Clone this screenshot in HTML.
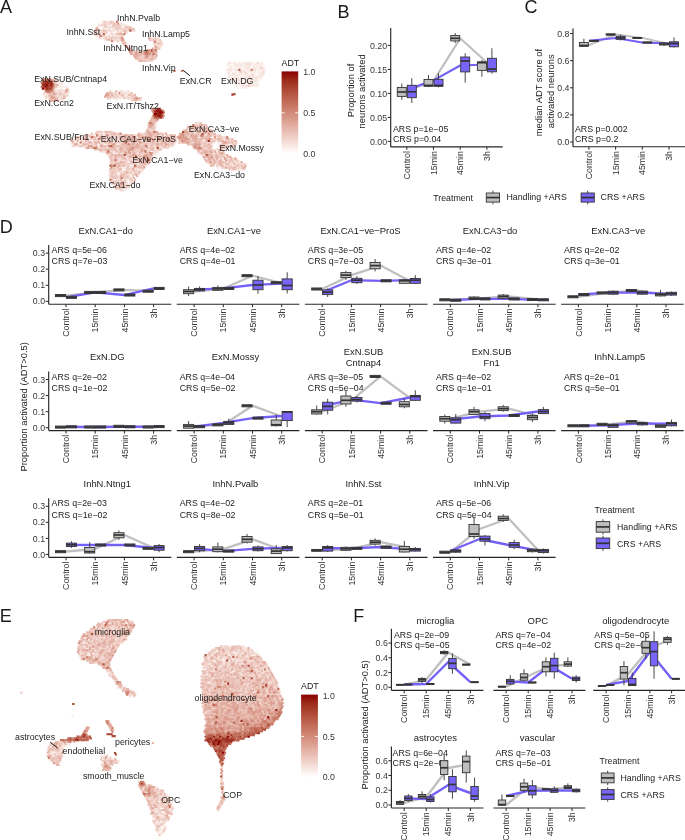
<!DOCTYPE html>
<html><head><meta charset="utf-8"><style>
html,body{margin:0;padding:0;background:#fff;}
svg{display:block;font-family:"Liberation Sans",sans-serif;will-change:transform;}
</style></head><body>
<svg width="685" height="840" viewBox="0 0 685 840">
<text x="0.00" y="12.70" font-size="18" fill="#1a1a1a" text-anchor="start">A</text>
<text x="337.50" y="17.80" font-size="18" fill="#1a1a1a" text-anchor="start">B</text>
<text x="524.40" y="12.70" font-size="18" fill="#1a1a1a" text-anchor="start">C</text>
<text x="-0.20" y="232.80" font-size="18" fill="#1a1a1a" text-anchor="start">D</text>
<text x="-0.20" y="622.30" font-size="18" fill="#1a1a1a" text-anchor="start">E</text>
<text x="353.20" y="622.00" font-size="18" fill="#1a1a1a" text-anchor="start">F</text>
<line x1="390.70" y1="28.00" x2="390.70" y2="147.00" stroke="#262626" stroke-width="1.15"/>
<line x1="387.70" y1="141.40" x2="390.70" y2="141.40" stroke="#262626" stroke-width="1.0"/>
<text x="387.10" y="144.55" font-size="8.8" fill="#363636" text-anchor="end">0.00</text>
<line x1="387.70" y1="117.40" x2="390.70" y2="117.40" stroke="#262626" stroke-width="1.0"/>
<text x="387.10" y="120.55" font-size="8.8" fill="#363636" text-anchor="end">0.05</text>
<line x1="387.70" y1="93.40" x2="390.70" y2="93.40" stroke="#262626" stroke-width="1.0"/>
<text x="387.10" y="96.55" font-size="8.8" fill="#363636" text-anchor="end">0.10</text>
<line x1="387.70" y1="69.40" x2="390.70" y2="69.40" stroke="#262626" stroke-width="1.0"/>
<text x="387.10" y="72.55" font-size="8.8" fill="#363636" text-anchor="end">0.15</text>
<line x1="387.70" y1="45.40" x2="390.70" y2="45.40" stroke="#262626" stroke-width="1.0"/>
<text x="387.10" y="48.55" font-size="8.8" fill="#363636" text-anchor="end">0.20</text>
<line x1="390.70" y1="146.80" x2="502.70" y2="146.80" stroke="#262626" stroke-width="1.15"/>
<line x1="406.80" y1="146.80" x2="406.80" y2="149.80" stroke="#262626" stroke-width="1.0"/>
<text transform="translate(409.95,151.10) rotate(-90)" font-size="8.8" fill="#363636" text-anchor="end">Control</text>
<line x1="433.50" y1="146.80" x2="433.50" y2="149.80" stroke="#262626" stroke-width="1.0"/>
<text transform="translate(436.65,151.10) rotate(-90)" font-size="8.8" fill="#363636" text-anchor="end">15min</text>
<line x1="460.20" y1="146.80" x2="460.20" y2="149.80" stroke="#262626" stroke-width="1.0"/>
<text transform="translate(463.35,151.10) rotate(-90)" font-size="8.8" fill="#363636" text-anchor="end">45min</text>
<line x1="486.90" y1="146.80" x2="486.90" y2="149.80" stroke="#262626" stroke-width="1.0"/>
<text transform="translate(490.05,151.10) rotate(-90)" font-size="8.8" fill="#363636" text-anchor="end">3h</text>
<text transform="translate(353.67,90.4) rotate(-90)" font-size="9.4" fill="#1a1a1a" text-anchor="middle">Proportion of</text>
<text transform="translate(365.47,91.4) rotate(-90)" font-size="9.4" fill="#1a1a1a" text-anchor="middle">neurons activated</text>
<polyline points="406.80,91.00 433.50,80.80 460.20,38.30 486.90,62.50" fill="none" stroke="#c0c0c0" stroke-width="2.2" stroke-linejoin="round"/>
<polyline points="406.80,89.80 433.50,80.40 460.20,65.50 486.90,64.50" fill="none" stroke="#7461f8" stroke-width="2.2" stroke-linejoin="round"/>
<line x1="401.80" y1="83.50" x2="401.80" y2="87.40" stroke="#333333" stroke-width="0.9"/>
<line x1="401.80" y1="96.40" x2="401.80" y2="99.90" stroke="#333333" stroke-width="0.9"/>
<rect x="397.30" y="87.40" width="9.00" height="9.00" fill="#bebebe" stroke="#333333" stroke-width="0.9"/>
<line x1="397.30" y1="92.00" x2="406.30" y2="92.00" stroke="#333333" stroke-width="1.7"/>
<line x1="411.80" y1="78.20" x2="411.80" y2="85.30" stroke="#333333" stroke-width="0.9"/>
<line x1="411.80" y1="97.70" x2="411.80" y2="103.00" stroke="#333333" stroke-width="0.9"/>
<rect x="407.30" y="85.30" width="9.00" height="12.40" fill="#7864f8" stroke="#333333" stroke-width="0.9"/>
<line x1="407.30" y1="91.80" x2="416.30" y2="91.80" stroke="#333333" stroke-width="1.7"/>
<line x1="428.50" y1="75.10" x2="428.50" y2="79.50" stroke="#333333" stroke-width="0.9"/>
<line x1="428.50" y1="86.30" x2="428.50" y2="87.20" stroke="#333333" stroke-width="0.9"/>
<rect x="424.00" y="79.50" width="9.00" height="6.80" fill="#bebebe" stroke="#333333" stroke-width="0.9"/>
<line x1="424.00" y1="85.40" x2="433.00" y2="85.40" stroke="#333333" stroke-width="1.7"/>
<line x1="438.50" y1="73.20" x2="438.50" y2="79.30" stroke="#333333" stroke-width="0.9"/>
<line x1="438.50" y1="86.30" x2="438.50" y2="87.40" stroke="#333333" stroke-width="0.9"/>
<rect x="434.00" y="79.30" width="9.00" height="7.00" fill="#7864f8" stroke="#333333" stroke-width="0.9"/>
<line x1="434.00" y1="85.40" x2="443.00" y2="85.40" stroke="#333333" stroke-width="1.7"/>
<line x1="455.20" y1="33.00" x2="455.20" y2="35.60" stroke="#333333" stroke-width="0.9"/>
<line x1="455.20" y1="40.90" x2="455.20" y2="43.00" stroke="#333333" stroke-width="0.9"/>
<rect x="450.70" y="35.60" width="9.00" height="5.30" fill="#bebebe" stroke="#333333" stroke-width="0.9"/>
<line x1="450.70" y1="38.30" x2="459.70" y2="38.30" stroke="#333333" stroke-width="1.7"/>
<line x1="465.20" y1="53.30" x2="465.20" y2="57.00" stroke="#333333" stroke-width="0.9"/>
<line x1="465.20" y1="71.90" x2="465.20" y2="82.60" stroke="#333333" stroke-width="0.9"/>
<rect x="460.70" y="57.00" width="9.00" height="14.90" fill="#7864f8" stroke="#333333" stroke-width="0.9"/>
<line x1="460.70" y1="61.00" x2="469.70" y2="61.00" stroke="#333333" stroke-width="1.7"/>
<line x1="481.90" y1="60.00" x2="481.90" y2="61.80" stroke="#333333" stroke-width="0.9"/>
<line x1="481.90" y1="70.40" x2="481.90" y2="76.80" stroke="#333333" stroke-width="0.9"/>
<rect x="477.40" y="61.80" width="9.00" height="8.60" fill="#bebebe" stroke="#333333" stroke-width="0.9"/>
<line x1="477.40" y1="62.70" x2="486.40" y2="62.70" stroke="#333333" stroke-width="1.7"/>
<line x1="491.90" y1="48.20" x2="491.90" y2="58.30" stroke="#333333" stroke-width="0.9"/>
<line x1="491.90" y1="71.80" x2="491.90" y2="73.70" stroke="#333333" stroke-width="0.9"/>
<rect x="487.40" y="58.30" width="9.00" height="13.50" fill="#7864f8" stroke="#333333" stroke-width="0.9"/>
<line x1="487.40" y1="69.10" x2="496.40" y2="69.10" stroke="#333333" stroke-width="1.7"/>
<text x="393.00" y="132.45" font-size="8.8" fill="#1a1a1a" text-anchor="start">ARS p=1e−05</text>
<text x="393.00" y="141.65" font-size="8.8" fill="#1a1a1a" text-anchor="start">CRS p=0.04</text>
<line x1="573.00" y1="28.40" x2="573.00" y2="147.00" stroke="#262626" stroke-width="1.15"/>
<line x1="570.00" y1="142.00" x2="573.00" y2="142.00" stroke="#262626" stroke-width="1.0"/>
<text x="569.40" y="145.15" font-size="8.8" fill="#363636" text-anchor="end">0.0</text>
<line x1="570.00" y1="114.90" x2="573.00" y2="114.90" stroke="#262626" stroke-width="1.0"/>
<text x="569.40" y="118.05" font-size="8.8" fill="#363636" text-anchor="end">0.2</text>
<line x1="570.00" y1="87.80" x2="573.00" y2="87.80" stroke="#262626" stroke-width="1.0"/>
<text x="569.40" y="90.95" font-size="8.8" fill="#363636" text-anchor="end">0.4</text>
<line x1="570.00" y1="60.70" x2="573.00" y2="60.70" stroke="#262626" stroke-width="1.0"/>
<text x="569.40" y="63.85" font-size="8.8" fill="#363636" text-anchor="end">0.6</text>
<line x1="570.00" y1="33.60" x2="573.00" y2="33.60" stroke="#262626" stroke-width="1.0"/>
<text x="569.40" y="36.75" font-size="8.8" fill="#363636" text-anchor="end">0.8</text>
<line x1="573.00" y1="146.70" x2="685.50" y2="146.70" stroke="#262626" stroke-width="1.15"/>
<line x1="588.90" y1="146.70" x2="588.90" y2="149.70" stroke="#262626" stroke-width="1.0"/>
<text transform="translate(592.05,151.00) rotate(-90)" font-size="8.8" fill="#363636" text-anchor="end">Control</text>
<line x1="615.60" y1="146.70" x2="615.60" y2="149.70" stroke="#262626" stroke-width="1.0"/>
<text transform="translate(618.75,151.00) rotate(-90)" font-size="8.8" fill="#363636" text-anchor="end">15min</text>
<line x1="642.30" y1="146.70" x2="642.30" y2="149.70" stroke="#262626" stroke-width="1.0"/>
<text transform="translate(645.45,151.00) rotate(-90)" font-size="8.8" fill="#363636" text-anchor="end">45min</text>
<line x1="669.00" y1="146.70" x2="669.00" y2="149.70" stroke="#262626" stroke-width="1.0"/>
<text transform="translate(672.15,151.00) rotate(-90)" font-size="8.8" fill="#363636" text-anchor="end">3h</text>
<text transform="translate(542.17,92.5) rotate(-90)" font-size="9.4" fill="#1a1a1a" text-anchor="middle">median ADT score of</text>
<text transform="translate(553.87,91.3) rotate(-90)" font-size="9.4" fill="#1a1a1a" text-anchor="middle">activated neurons</text>
<polyline points="588.90,45.00 615.60,34.50 642.30,37.90 669.00,44.00" fill="none" stroke="#c0c0c0" stroke-width="2.0" stroke-linejoin="round"/>
<polyline points="588.90,40.80 615.60,37.90 642.30,42.50 669.00,43.50" fill="none" stroke="#7461f8" stroke-width="2.0" stroke-linejoin="round"/>
<line x1="583.90" y1="38.80" x2="583.90" y2="42.50" stroke="#333333" stroke-width="0.9"/>
<line x1="583.90" y1="46.30" x2="583.90" y2="47.00" stroke="#333333" stroke-width="0.9"/>
<rect x="579.40" y="42.50" width="9.00" height="3.80" fill="#bebebe" stroke="#333333" stroke-width="0.9"/>
<line x1="579.40" y1="45.50" x2="588.40" y2="45.50" stroke="#333333" stroke-width="1.7"/>
<line x1="593.90" y1="40.35" x2="593.90" y2="40.35" stroke="#333333" stroke-width="0.9"/>
<line x1="593.90" y1="41.25" x2="593.90" y2="41.25" stroke="#333333" stroke-width="0.9"/>
<rect x="589.40" y="40.35" width="9.00" height="0.90" fill="#7864f8" stroke="#333333" stroke-width="0.9"/>
<line x1="589.40" y1="40.80" x2="598.40" y2="40.80" stroke="#333333" stroke-width="1.7"/>
<line x1="610.60" y1="33.90" x2="610.60" y2="33.90" stroke="#333333" stroke-width="0.9"/>
<line x1="610.60" y1="35.10" x2="610.60" y2="35.10" stroke="#333333" stroke-width="0.9"/>
<rect x="606.10" y="33.90" width="9.00" height="1.20" fill="#bebebe" stroke="#333333" stroke-width="0.9"/>
<line x1="606.10" y1="34.50" x2="615.10" y2="34.50" stroke="#333333" stroke-width="1.7"/>
<line x1="620.60" y1="34.60" x2="620.60" y2="36.30" stroke="#333333" stroke-width="0.9"/>
<line x1="620.60" y1="39.30" x2="620.60" y2="40.50" stroke="#333333" stroke-width="0.9"/>
<rect x="616.10" y="36.30" width="9.00" height="3.00" fill="#7864f8" stroke="#333333" stroke-width="0.9"/>
<line x1="616.10" y1="37.90" x2="625.10" y2="37.90" stroke="#333333" stroke-width="1.7"/>
<line x1="637.30" y1="37.45" x2="637.30" y2="37.45" stroke="#333333" stroke-width="0.9"/>
<line x1="637.30" y1="38.35" x2="637.30" y2="38.35" stroke="#333333" stroke-width="0.9"/>
<rect x="632.80" y="37.45" width="9.00" height="0.90" fill="#bebebe" stroke="#333333" stroke-width="0.9"/>
<line x1="632.80" y1="37.90" x2="641.80" y2="37.90" stroke="#333333" stroke-width="1.7"/>
<line x1="647.30" y1="42.05" x2="647.30" y2="42.05" stroke="#333333" stroke-width="0.9"/>
<line x1="647.30" y1="42.95" x2="647.30" y2="42.95" stroke="#333333" stroke-width="0.9"/>
<rect x="642.80" y="42.05" width="9.00" height="0.90" fill="#7864f8" stroke="#333333" stroke-width="0.9"/>
<line x1="642.80" y1="42.50" x2="651.80" y2="42.50" stroke="#333333" stroke-width="1.7"/>
<line x1="664.00" y1="42.00" x2="664.00" y2="43.00" stroke="#333333" stroke-width="0.9"/>
<line x1="664.00" y1="45.00" x2="664.00" y2="46.00" stroke="#333333" stroke-width="0.9"/>
<rect x="659.50" y="43.00" width="9.00" height="2.00" fill="#bebebe" stroke="#333333" stroke-width="0.9"/>
<line x1="659.50" y1="44.00" x2="668.50" y2="44.00" stroke="#333333" stroke-width="1.7"/>
<line x1="674.00" y1="37.40" x2="674.00" y2="41.80" stroke="#333333" stroke-width="0.9"/>
<line x1="674.00" y1="46.80" x2="674.00" y2="47.50" stroke="#333333" stroke-width="0.9"/>
<rect x="669.50" y="41.80" width="9.00" height="5.00" fill="#7864f8" stroke="#333333" stroke-width="0.9"/>
<line x1="669.50" y1="43.50" x2="678.50" y2="43.50" stroke="#333333" stroke-width="1.7"/>
<text x="575.00" y="132.35" font-size="8.8" fill="#1a1a1a" text-anchor="start">ARS p=0.002</text>
<text x="575.00" y="141.85" font-size="8.8" fill="#1a1a1a" text-anchor="start">CRS p=0.2</text>
<text x="433.20" y="200.85" font-size="8.8" fill="#1a1a1a" text-anchor="start">Treatment</text>
<line x1="492.90" y1="190.70" x2="492.90" y2="193.00" stroke="#333333" stroke-width="0.9"/>
<line x1="492.90" y1="202.10" x2="492.90" y2="204.40" stroke="#333333" stroke-width="0.9"/>
<rect x="486.30" y="193.00" width="13.20" height="9.10" fill="#bebebe" stroke="#333333" stroke-width="0.9"/>
<line x1="486.30" y1="197.55" x2="499.50" y2="197.55" stroke="#333333" stroke-width="1.7"/>
<text x="506.40" y="200.45" font-size="8.8" fill="#1a1a1a" text-anchor="start">Handling +ARS</text>
<line x1="587.70" y1="190.70" x2="587.70" y2="193.00" stroke="#333333" stroke-width="0.9"/>
<line x1="587.70" y1="202.10" x2="587.70" y2="204.40" stroke="#333333" stroke-width="0.9"/>
<rect x="581.10" y="193.00" width="13.20" height="9.10" fill="#7864f8" stroke="#333333" stroke-width="0.9"/>
<line x1="581.10" y1="197.55" x2="594.30" y2="197.55" stroke="#333333" stroke-width="1.7"/>
<text x="600.60" y="200.45" font-size="8.8" fill="#1a1a1a" text-anchor="start">CRS +ARS</text>
<text x="105.80" y="233.87" font-size="9.4" fill="#1a1a1a" text-anchor="middle">ExN.CA1−do</text>
<line x1="48.70" y1="245.10" x2="48.70" y2="304.20" stroke="#262626" stroke-width="1.15"/>
<line x1="45.70" y1="301.30" x2="48.70" y2="301.30" stroke="#262626" stroke-width="1.0"/>
<text x="45.10" y="304.45" font-size="8.8" fill="#363636" text-anchor="end">0.0</text>
<line x1="45.70" y1="285.25" x2="48.70" y2="285.25" stroke="#262626" stroke-width="1.0"/>
<text x="45.10" y="288.40" font-size="8.8" fill="#363636" text-anchor="end">0.1</text>
<line x1="45.70" y1="269.20" x2="48.70" y2="269.20" stroke="#262626" stroke-width="1.0"/>
<text x="45.10" y="272.35" font-size="8.8" fill="#363636" text-anchor="end">0.2</text>
<line x1="45.70" y1="253.15" x2="48.70" y2="253.15" stroke="#262626" stroke-width="1.0"/>
<text x="45.10" y="256.30" font-size="8.8" fill="#363636" text-anchor="end">0.3</text>
<line x1="48.70" y1="304.20" x2="171.30" y2="304.20" stroke="#262626" stroke-width="1.15"/>
<line x1="66.00" y1="304.20" x2="66.00" y2="307.20" stroke="#262626" stroke-width="1.0"/>
<text transform="translate(69.15,308.50) rotate(-90)" font-size="8.8" fill="#363636" text-anchor="end">Control</text>
<line x1="95.20" y1="304.20" x2="95.20" y2="307.20" stroke="#262626" stroke-width="1.0"/>
<text transform="translate(98.35,308.50) rotate(-90)" font-size="8.8" fill="#363636" text-anchor="end">15min</text>
<line x1="124.40" y1="304.20" x2="124.40" y2="307.20" stroke="#262626" stroke-width="1.0"/>
<text transform="translate(127.55,308.50) rotate(-90)" font-size="8.8" fill="#363636" text-anchor="end">45min</text>
<line x1="153.60" y1="304.20" x2="153.60" y2="307.20" stroke="#262626" stroke-width="1.0"/>
<text transform="translate(156.75,308.50) rotate(-90)" font-size="8.8" fill="#363636" text-anchor="end">3h</text>
<text x="51.60" y="253.15" font-size="8.8" fill="#1a1a1a" text-anchor="start">ARS q=5e−06</text>
<text x="51.60" y="264.45" font-size="8.8" fill="#1a1a1a" text-anchor="start">CRS q=7e−03</text>
<polyline points="66.00,295.60 95.20,292.40 124.40,289.90 153.60,291.20" fill="none" stroke="#c0c0c0" stroke-width="2.3" stroke-linejoin="round"/>
<polyline points="66.00,297.30 95.20,292.40 124.40,295.00 153.60,288.40" fill="none" stroke="#7461f8" stroke-width="2.3" stroke-linejoin="round"/>
<line x1="60.52" y1="294.55" x2="60.52" y2="294.55" stroke="#333333" stroke-width="0.9"/>
<line x1="60.52" y1="296.65" x2="60.52" y2="296.65" stroke="#333333" stroke-width="0.9"/>
<rect x="55.48" y="294.55" width="10.10" height="2.10" fill="#bebebe" stroke="#333333" stroke-width="0.9"/>
<line x1="55.48" y1="295.60" x2="65.58" y2="295.60" stroke="#333333" stroke-width="1.7"/>
<line x1="71.47" y1="296.25" x2="71.47" y2="296.25" stroke="#333333" stroke-width="0.9"/>
<line x1="71.47" y1="298.35" x2="71.47" y2="298.35" stroke="#333333" stroke-width="0.9"/>
<rect x="66.42" y="296.25" width="10.10" height="2.10" fill="#7864f8" stroke="#333333" stroke-width="0.9"/>
<line x1="66.42" y1="297.30" x2="76.52" y2="297.30" stroke="#333333" stroke-width="1.7"/>
<line x1="89.73" y1="291.35" x2="89.73" y2="291.35" stroke="#333333" stroke-width="0.9"/>
<line x1="89.73" y1="293.45" x2="89.73" y2="293.45" stroke="#333333" stroke-width="0.9"/>
<rect x="84.68" y="291.35" width="10.10" height="2.10" fill="#bebebe" stroke="#333333" stroke-width="0.9"/>
<line x1="84.68" y1="292.40" x2="94.78" y2="292.40" stroke="#333333" stroke-width="1.7"/>
<line x1="100.67" y1="291.35" x2="100.67" y2="291.35" stroke="#333333" stroke-width="0.9"/>
<line x1="100.67" y1="293.45" x2="100.67" y2="293.45" stroke="#333333" stroke-width="0.9"/>
<rect x="95.62" y="291.35" width="10.10" height="2.10" fill="#7864f8" stroke="#333333" stroke-width="0.9"/>
<line x1="95.62" y1="292.40" x2="105.72" y2="292.40" stroke="#333333" stroke-width="1.7"/>
<line x1="118.93" y1="288.85" x2="118.93" y2="288.85" stroke="#333333" stroke-width="0.9"/>
<line x1="118.93" y1="290.95" x2="118.93" y2="290.95" stroke="#333333" stroke-width="0.9"/>
<rect x="113.88" y="288.85" width="10.10" height="2.10" fill="#bebebe" stroke="#333333" stroke-width="0.9"/>
<line x1="113.88" y1="289.90" x2="123.98" y2="289.90" stroke="#333333" stroke-width="1.7"/>
<line x1="129.88" y1="293.95" x2="129.88" y2="293.95" stroke="#333333" stroke-width="0.9"/>
<line x1="129.88" y1="296.05" x2="129.88" y2="296.05" stroke="#333333" stroke-width="0.9"/>
<rect x="124.83" y="293.95" width="10.10" height="2.10" fill="#7864f8" stroke="#333333" stroke-width="0.9"/>
<line x1="124.83" y1="295.00" x2="134.93" y2="295.00" stroke="#333333" stroke-width="1.7"/>
<line x1="148.12" y1="290.15" x2="148.12" y2="290.15" stroke="#333333" stroke-width="0.9"/>
<line x1="148.12" y1="292.25" x2="148.12" y2="292.25" stroke="#333333" stroke-width="0.9"/>
<rect x="143.07" y="290.15" width="10.10" height="2.10" fill="#bebebe" stroke="#333333" stroke-width="0.9"/>
<line x1="143.07" y1="291.20" x2="153.17" y2="291.20" stroke="#333333" stroke-width="1.7"/>
<line x1="159.07" y1="287.35" x2="159.07" y2="287.35" stroke="#333333" stroke-width="0.9"/>
<line x1="159.07" y1="289.45" x2="159.07" y2="289.45" stroke="#333333" stroke-width="0.9"/>
<rect x="154.02" y="287.35" width="10.10" height="2.10" fill="#7864f8" stroke="#333333" stroke-width="0.9"/>
<line x1="154.02" y1="288.40" x2="164.12" y2="288.40" stroke="#333333" stroke-width="1.7"/>
<text x="233.90" y="233.87" font-size="9.4" fill="#1a1a1a" text-anchor="middle">ExN.CA1−ve</text>
<line x1="176.80" y1="304.20" x2="299.40" y2="304.20" stroke="#262626" stroke-width="1.15"/>
<line x1="194.10" y1="304.20" x2="194.10" y2="307.20" stroke="#262626" stroke-width="1.0"/>
<text transform="translate(197.25,308.50) rotate(-90)" font-size="8.8" fill="#363636" text-anchor="end">Control</text>
<line x1="223.30" y1="304.20" x2="223.30" y2="307.20" stroke="#262626" stroke-width="1.0"/>
<text transform="translate(226.45,308.50) rotate(-90)" font-size="8.8" fill="#363636" text-anchor="end">15min</text>
<line x1="252.50" y1="304.20" x2="252.50" y2="307.20" stroke="#262626" stroke-width="1.0"/>
<text transform="translate(255.65,308.50) rotate(-90)" font-size="8.8" fill="#363636" text-anchor="end">45min</text>
<line x1="281.70" y1="304.20" x2="281.70" y2="307.20" stroke="#262626" stroke-width="1.0"/>
<text transform="translate(284.85,308.50) rotate(-90)" font-size="8.8" fill="#363636" text-anchor="end">3h</text>
<text x="179.70" y="253.15" font-size="8.8" fill="#1a1a1a" text-anchor="start">ARS q=4e−02</text>
<text x="179.70" y="264.45" font-size="8.8" fill="#1a1a1a" text-anchor="start">CRS q=4e−01</text>
<polyline points="194.10,291.50 223.30,288.50 252.50,275.70 281.70,283.00" fill="none" stroke="#c0c0c0" stroke-width="2.3" stroke-linejoin="round"/>
<polyline points="194.10,289.60 223.30,288.40 252.50,285.00 281.70,283.60" fill="none" stroke="#7461f8" stroke-width="2.3" stroke-linejoin="round"/>
<line x1="188.63" y1="286.50" x2="188.63" y2="289.70" stroke="#333333" stroke-width="0.9"/>
<line x1="188.63" y1="293.70" x2="188.63" y2="296.00" stroke="#333333" stroke-width="0.9"/>
<rect x="183.58" y="289.70" width="10.10" height="4.00" fill="#bebebe" stroke="#333333" stroke-width="0.9"/>
<line x1="183.58" y1="291.50" x2="193.68" y2="291.50" stroke="#333333" stroke-width="1.7"/>
<line x1="199.58" y1="286.50" x2="199.58" y2="288.40" stroke="#333333" stroke-width="0.9"/>
<line x1="199.58" y1="290.90" x2="199.58" y2="291.50" stroke="#333333" stroke-width="0.9"/>
<rect x="194.53" y="288.40" width="10.10" height="2.50" fill="#7864f8" stroke="#333333" stroke-width="0.9"/>
<line x1="194.53" y1="289.60" x2="204.62" y2="289.60" stroke="#333333" stroke-width="1.7"/>
<line x1="217.83" y1="285.50" x2="217.83" y2="287.40" stroke="#333333" stroke-width="0.9"/>
<line x1="217.83" y1="290.30" x2="217.83" y2="291.00" stroke="#333333" stroke-width="0.9"/>
<rect x="212.78" y="287.40" width="10.10" height="2.90" fill="#bebebe" stroke="#333333" stroke-width="0.9"/>
<line x1="212.78" y1="288.90" x2="222.88" y2="288.90" stroke="#333333" stroke-width="1.7"/>
<line x1="228.78" y1="287.35" x2="228.78" y2="287.35" stroke="#333333" stroke-width="0.9"/>
<line x1="228.78" y1="289.45" x2="228.78" y2="289.45" stroke="#333333" stroke-width="0.9"/>
<rect x="223.72" y="287.35" width="10.10" height="2.10" fill="#7864f8" stroke="#333333" stroke-width="0.9"/>
<line x1="223.72" y1="288.40" x2="233.82" y2="288.40" stroke="#333333" stroke-width="1.7"/>
<line x1="247.03" y1="274.65" x2="247.03" y2="274.65" stroke="#333333" stroke-width="0.9"/>
<line x1="247.03" y1="276.75" x2="247.03" y2="276.75" stroke="#333333" stroke-width="0.9"/>
<rect x="241.98" y="274.65" width="10.10" height="2.10" fill="#bebebe" stroke="#333333" stroke-width="0.9"/>
<line x1="241.98" y1="275.70" x2="252.08" y2="275.70" stroke="#333333" stroke-width="1.7"/>
<line x1="257.98" y1="276.00" x2="257.98" y2="280.20" stroke="#333333" stroke-width="0.9"/>
<line x1="257.98" y1="289.70" x2="257.98" y2="293.70" stroke="#333333" stroke-width="0.9"/>
<rect x="252.93" y="280.20" width="10.10" height="9.50" fill="#7864f8" stroke="#333333" stroke-width="0.9"/>
<line x1="252.93" y1="285.00" x2="263.03" y2="285.00" stroke="#333333" stroke-width="1.7"/>
<line x1="276.23" y1="281.65" x2="276.23" y2="281.65" stroke="#333333" stroke-width="0.9"/>
<line x1="276.23" y1="283.75" x2="276.23" y2="283.75" stroke="#333333" stroke-width="0.9"/>
<rect x="271.18" y="281.65" width="10.10" height="2.10" fill="#bebebe" stroke="#333333" stroke-width="0.9"/>
<line x1="271.18" y1="282.70" x2="281.28" y2="282.70" stroke="#333333" stroke-width="1.7"/>
<line x1="287.18" y1="272.30" x2="287.18" y2="278.90" stroke="#333333" stroke-width="0.9"/>
<line x1="287.18" y1="289.70" x2="287.18" y2="293.50" stroke="#333333" stroke-width="0.9"/>
<rect x="282.13" y="278.90" width="10.10" height="10.80" fill="#7864f8" stroke="#333333" stroke-width="0.9"/>
<line x1="282.13" y1="285.50" x2="292.23" y2="285.50" stroke="#333333" stroke-width="1.7"/>
<text x="360.50" y="233.87" font-size="9.4" fill="#1a1a1a" text-anchor="middle">ExN.CA1−ve−ProS</text>
<line x1="304.90" y1="304.20" x2="427.50" y2="304.20" stroke="#262626" stroke-width="1.15"/>
<line x1="322.20" y1="304.20" x2="322.20" y2="307.20" stroke="#262626" stroke-width="1.0"/>
<text transform="translate(325.35,308.50) rotate(-90)" font-size="8.8" fill="#363636" text-anchor="end">Control</text>
<line x1="351.40" y1="304.20" x2="351.40" y2="307.20" stroke="#262626" stroke-width="1.0"/>
<text transform="translate(354.55,308.50) rotate(-90)" font-size="8.8" fill="#363636" text-anchor="end">15min</text>
<line x1="380.60" y1="304.20" x2="380.60" y2="307.20" stroke="#262626" stroke-width="1.0"/>
<text transform="translate(383.75,308.50) rotate(-90)" font-size="8.8" fill="#363636" text-anchor="end">45min</text>
<line x1="409.80" y1="304.20" x2="409.80" y2="307.20" stroke="#262626" stroke-width="1.0"/>
<text transform="translate(412.95,308.50) rotate(-90)" font-size="8.8" fill="#363636" text-anchor="end">3h</text>
<text x="307.80" y="253.15" font-size="8.8" fill="#1a1a1a" text-anchor="start">ARS q=3e−05</text>
<text x="307.80" y="264.45" font-size="8.8" fill="#1a1a1a" text-anchor="start">CRS q=7e−03</text>
<polyline points="322.20,289.00 351.40,275.10 380.60,265.60 409.80,281.00" fill="none" stroke="#c0c0c0" stroke-width="2.3" stroke-linejoin="round"/>
<polyline points="322.20,292.20 351.40,280.20 380.60,280.80 409.80,280.20" fill="none" stroke="#7461f8" stroke-width="2.3" stroke-linejoin="round"/>
<line x1="316.72" y1="287.95" x2="316.72" y2="287.95" stroke="#333333" stroke-width="0.9"/>
<line x1="316.72" y1="290.05" x2="316.72" y2="290.05" stroke="#333333" stroke-width="0.9"/>
<rect x="311.67" y="287.95" width="10.10" height="2.10" fill="#bebebe" stroke="#333333" stroke-width="0.9"/>
<line x1="311.67" y1="289.00" x2="321.77" y2="289.00" stroke="#333333" stroke-width="1.7"/>
<line x1="327.68" y1="288.40" x2="327.68" y2="289.90" stroke="#333333" stroke-width="0.9"/>
<line x1="327.68" y1="294.60" x2="327.68" y2="297.00" stroke="#333333" stroke-width="0.9"/>
<rect x="322.62" y="289.90" width="10.10" height="4.70" fill="#7864f8" stroke="#333333" stroke-width="0.9"/>
<line x1="322.62" y1="292.20" x2="332.73" y2="292.20" stroke="#333333" stroke-width="1.7"/>
<line x1="345.92" y1="270.90" x2="345.92" y2="272.60" stroke="#333333" stroke-width="0.9"/>
<line x1="345.92" y1="277.60" x2="345.92" y2="279.80" stroke="#333333" stroke-width="0.9"/>
<rect x="340.87" y="272.60" width="10.10" height="5.00" fill="#bebebe" stroke="#333333" stroke-width="0.9"/>
<line x1="340.87" y1="275.10" x2="350.97" y2="275.10" stroke="#333333" stroke-width="1.7"/>
<line x1="356.88" y1="276.00" x2="356.88" y2="278.30" stroke="#333333" stroke-width="0.9"/>
<line x1="356.88" y1="282.70" x2="356.88" y2="284.00" stroke="#333333" stroke-width="0.9"/>
<rect x="351.82" y="278.30" width="10.10" height="4.40" fill="#7864f8" stroke="#333333" stroke-width="0.9"/>
<line x1="351.82" y1="280.20" x2="361.93" y2="280.20" stroke="#333333" stroke-width="1.7"/>
<line x1="375.12" y1="259.00" x2="375.12" y2="262.40" stroke="#333333" stroke-width="0.9"/>
<line x1="375.12" y1="268.80" x2="375.12" y2="271.30" stroke="#333333" stroke-width="0.9"/>
<rect x="370.07" y="262.40" width="10.10" height="6.40" fill="#bebebe" stroke="#333333" stroke-width="0.9"/>
<line x1="370.07" y1="265.60" x2="380.17" y2="265.60" stroke="#333333" stroke-width="1.7"/>
<line x1="386.07" y1="279.75" x2="386.07" y2="279.75" stroke="#333333" stroke-width="0.9"/>
<line x1="386.07" y1="281.85" x2="386.07" y2="281.85" stroke="#333333" stroke-width="0.9"/>
<rect x="381.02" y="279.75" width="10.10" height="2.10" fill="#7864f8" stroke="#333333" stroke-width="0.9"/>
<line x1="381.02" y1="280.80" x2="391.12" y2="280.80" stroke="#333333" stroke-width="1.7"/>
<line x1="404.32" y1="279.00" x2="404.32" y2="279.80" stroke="#333333" stroke-width="0.9"/>
<line x1="404.32" y1="283.30" x2="404.32" y2="284.00" stroke="#333333" stroke-width="0.9"/>
<rect x="399.27" y="279.80" width="10.10" height="3.50" fill="#bebebe" stroke="#333333" stroke-width="0.9"/>
<line x1="399.27" y1="280.80" x2="409.37" y2="280.80" stroke="#333333" stroke-width="1.7"/>
<line x1="415.27" y1="275.10" x2="415.27" y2="278.50" stroke="#333333" stroke-width="0.9"/>
<line x1="415.27" y1="283.30" x2="415.27" y2="284.00" stroke="#333333" stroke-width="0.9"/>
<rect x="410.22" y="278.50" width="10.10" height="4.80" fill="#7864f8" stroke="#333333" stroke-width="0.9"/>
<line x1="410.22" y1="280.20" x2="420.32" y2="280.20" stroke="#333333" stroke-width="1.7"/>
<text x="490.10" y="233.87" font-size="9.4" fill="#1a1a1a" text-anchor="middle">ExN.CA3−do</text>
<line x1="433.00" y1="304.20" x2="555.60" y2="304.20" stroke="#262626" stroke-width="1.15"/>
<line x1="450.30" y1="304.20" x2="450.30" y2="307.20" stroke="#262626" stroke-width="1.0"/>
<text transform="translate(453.45,308.50) rotate(-90)" font-size="8.8" fill="#363636" text-anchor="end">Control</text>
<line x1="479.50" y1="304.20" x2="479.50" y2="307.20" stroke="#262626" stroke-width="1.0"/>
<text transform="translate(482.65,308.50) rotate(-90)" font-size="8.8" fill="#363636" text-anchor="end">15min</text>
<line x1="508.70" y1="304.20" x2="508.70" y2="307.20" stroke="#262626" stroke-width="1.0"/>
<text transform="translate(511.85,308.50) rotate(-90)" font-size="8.8" fill="#363636" text-anchor="end">45min</text>
<line x1="537.90" y1="304.20" x2="537.90" y2="307.20" stroke="#262626" stroke-width="1.0"/>
<text transform="translate(541.05,308.50) rotate(-90)" font-size="8.8" fill="#363636" text-anchor="end">3h</text>
<text x="435.90" y="253.15" font-size="8.8" fill="#1a1a1a" text-anchor="start">ARS q=4e−02</text>
<text x="435.90" y="264.45" font-size="8.8" fill="#1a1a1a" text-anchor="start">CRS q=3e−01</text>
<polyline points="450.30,299.80 479.50,298.30 508.70,296.50 537.90,299.50" fill="none" stroke="#c0c0c0" stroke-width="2.3" stroke-linejoin="round"/>
<polyline points="450.30,300.20 479.50,298.90 508.70,298.90 537.90,299.80" fill="none" stroke="#7461f8" stroke-width="2.3" stroke-linejoin="round"/>
<line x1="444.82" y1="298.75" x2="444.82" y2="298.75" stroke="#333333" stroke-width="0.9"/>
<line x1="444.82" y1="300.85" x2="444.82" y2="300.85" stroke="#333333" stroke-width="0.9"/>
<rect x="439.77" y="298.75" width="10.10" height="2.10" fill="#bebebe" stroke="#333333" stroke-width="0.9"/>
<line x1="439.77" y1="299.80" x2="449.87" y2="299.80" stroke="#333333" stroke-width="1.7"/>
<line x1="455.77" y1="299.15" x2="455.77" y2="299.15" stroke="#333333" stroke-width="0.9"/>
<line x1="455.77" y1="301.25" x2="455.77" y2="301.25" stroke="#333333" stroke-width="0.9"/>
<rect x="450.72" y="299.15" width="10.10" height="2.10" fill="#7864f8" stroke="#333333" stroke-width="0.9"/>
<line x1="450.72" y1="300.20" x2="460.82" y2="300.20" stroke="#333333" stroke-width="1.7"/>
<line x1="474.02" y1="296.50" x2="474.02" y2="297.00" stroke="#333333" stroke-width="0.9"/>
<line x1="474.02" y1="299.50" x2="474.02" y2="300.00" stroke="#333333" stroke-width="0.9"/>
<rect x="468.97" y="297.00" width="10.10" height="2.50" fill="#bebebe" stroke="#333333" stroke-width="0.9"/>
<line x1="468.97" y1="298.30" x2="479.07" y2="298.30" stroke="#333333" stroke-width="1.7"/>
<line x1="484.97" y1="297.85" x2="484.97" y2="297.85" stroke="#333333" stroke-width="0.9"/>
<line x1="484.97" y1="299.95" x2="484.97" y2="299.95" stroke="#333333" stroke-width="0.9"/>
<rect x="479.92" y="297.85" width="10.10" height="2.10" fill="#7864f8" stroke="#333333" stroke-width="0.9"/>
<line x1="479.92" y1="298.90" x2="490.02" y2="298.90" stroke="#333333" stroke-width="1.7"/>
<line x1="503.22" y1="294.00" x2="503.22" y2="295.10" stroke="#333333" stroke-width="0.9"/>
<line x1="503.22" y1="298.30" x2="503.22" y2="299.00" stroke="#333333" stroke-width="0.9"/>
<rect x="498.17" y="295.10" width="10.10" height="3.20" fill="#bebebe" stroke="#333333" stroke-width="0.9"/>
<line x1="498.17" y1="296.50" x2="508.27" y2="296.50" stroke="#333333" stroke-width="1.7"/>
<line x1="514.17" y1="297.85" x2="514.17" y2="297.85" stroke="#333333" stroke-width="0.9"/>
<line x1="514.17" y1="299.95" x2="514.17" y2="299.95" stroke="#333333" stroke-width="0.9"/>
<rect x="509.12" y="297.85" width="10.10" height="2.10" fill="#7864f8" stroke="#333333" stroke-width="0.9"/>
<line x1="509.12" y1="298.90" x2="519.22" y2="298.90" stroke="#333333" stroke-width="1.7"/>
<line x1="532.42" y1="298.45" x2="532.42" y2="298.45" stroke="#333333" stroke-width="0.9"/>
<line x1="532.42" y1="300.55" x2="532.42" y2="300.55" stroke="#333333" stroke-width="0.9"/>
<rect x="527.38" y="298.45" width="10.10" height="2.10" fill="#bebebe" stroke="#333333" stroke-width="0.9"/>
<line x1="527.38" y1="299.50" x2="537.48" y2="299.50" stroke="#333333" stroke-width="1.7"/>
<line x1="543.38" y1="298.75" x2="543.38" y2="298.75" stroke="#333333" stroke-width="0.9"/>
<line x1="543.38" y1="300.85" x2="543.38" y2="300.85" stroke="#333333" stroke-width="0.9"/>
<rect x="538.33" y="298.75" width="10.10" height="2.10" fill="#7864f8" stroke="#333333" stroke-width="0.9"/>
<line x1="538.33" y1="299.80" x2="548.43" y2="299.80" stroke="#333333" stroke-width="1.7"/>
<text x="618.20" y="233.87" font-size="9.4" fill="#1a1a1a" text-anchor="middle">ExN.CA3−ve</text>
<line x1="561.10" y1="304.20" x2="683.70" y2="304.20" stroke="#262626" stroke-width="1.15"/>
<line x1="578.40" y1="304.20" x2="578.40" y2="307.20" stroke="#262626" stroke-width="1.0"/>
<text transform="translate(581.55,308.50) rotate(-90)" font-size="8.8" fill="#363636" text-anchor="end">Control</text>
<line x1="607.60" y1="304.20" x2="607.60" y2="307.20" stroke="#262626" stroke-width="1.0"/>
<text transform="translate(610.75,308.50) rotate(-90)" font-size="8.8" fill="#363636" text-anchor="end">15min</text>
<line x1="636.80" y1="304.20" x2="636.80" y2="307.20" stroke="#262626" stroke-width="1.0"/>
<text transform="translate(639.95,308.50) rotate(-90)" font-size="8.8" fill="#363636" text-anchor="end">45min</text>
<line x1="666.00" y1="304.20" x2="666.00" y2="307.20" stroke="#262626" stroke-width="1.0"/>
<text transform="translate(669.15,308.50) rotate(-90)" font-size="8.8" fill="#363636" text-anchor="end">3h</text>
<text x="564.00" y="253.15" font-size="8.8" fill="#1a1a1a" text-anchor="start">ARS q=2e−02</text>
<text x="564.00" y="264.45" font-size="8.8" fill="#1a1a1a" text-anchor="start">CRS q=3e−01</text>
<polyline points="578.40,296.80 607.60,292.90 636.80,290.50 666.00,294.60" fill="none" stroke="#c0c0c0" stroke-width="2.3" stroke-linejoin="round"/>
<polyline points="578.40,294.60 607.60,292.70 636.80,292.70 666.00,293.60" fill="none" stroke="#7461f8" stroke-width="2.3" stroke-linejoin="round"/>
<line x1="572.92" y1="295.75" x2="572.92" y2="295.75" stroke="#333333" stroke-width="0.9"/>
<line x1="572.92" y1="297.85" x2="572.92" y2="297.85" stroke="#333333" stroke-width="0.9"/>
<rect x="567.88" y="295.75" width="10.10" height="2.10" fill="#bebebe" stroke="#333333" stroke-width="0.9"/>
<line x1="567.88" y1="296.80" x2="577.98" y2="296.80" stroke="#333333" stroke-width="1.7"/>
<line x1="583.88" y1="293.55" x2="583.88" y2="293.55" stroke="#333333" stroke-width="0.9"/>
<line x1="583.88" y1="295.65" x2="583.88" y2="295.65" stroke="#333333" stroke-width="0.9"/>
<rect x="578.83" y="293.55" width="10.10" height="2.10" fill="#7864f8" stroke="#333333" stroke-width="0.9"/>
<line x1="578.83" y1="294.60" x2="588.93" y2="294.60" stroke="#333333" stroke-width="1.7"/>
<line x1="602.12" y1="291.85" x2="602.12" y2="291.85" stroke="#333333" stroke-width="0.9"/>
<line x1="602.12" y1="293.95" x2="602.12" y2="293.95" stroke="#333333" stroke-width="0.9"/>
<rect x="597.08" y="291.85" width="10.10" height="2.10" fill="#bebebe" stroke="#333333" stroke-width="0.9"/>
<line x1="597.08" y1="292.90" x2="607.18" y2="292.90" stroke="#333333" stroke-width="1.7"/>
<line x1="613.08" y1="290.50" x2="613.08" y2="291.20" stroke="#333333" stroke-width="0.9"/>
<line x1="613.08" y1="294.20" x2="613.08" y2="295.00" stroke="#333333" stroke-width="0.9"/>
<rect x="608.03" y="291.20" width="10.10" height="3.00" fill="#7864f8" stroke="#333333" stroke-width="0.9"/>
<line x1="608.03" y1="292.70" x2="618.13" y2="292.70" stroke="#333333" stroke-width="1.7"/>
<line x1="631.32" y1="289.45" x2="631.32" y2="289.45" stroke="#333333" stroke-width="0.9"/>
<line x1="631.32" y1="291.55" x2="631.32" y2="291.55" stroke="#333333" stroke-width="0.9"/>
<rect x="626.27" y="289.45" width="10.10" height="2.10" fill="#bebebe" stroke="#333333" stroke-width="0.9"/>
<line x1="626.27" y1="290.50" x2="636.38" y2="290.50" stroke="#333333" stroke-width="1.7"/>
<line x1="642.27" y1="290.50" x2="642.27" y2="291.20" stroke="#333333" stroke-width="0.9"/>
<line x1="642.27" y1="294.20" x2="642.27" y2="295.00" stroke="#333333" stroke-width="0.9"/>
<rect x="637.23" y="291.20" width="10.10" height="3.00" fill="#7864f8" stroke="#333333" stroke-width="0.9"/>
<line x1="637.23" y1="292.70" x2="647.33" y2="292.70" stroke="#333333" stroke-width="1.7"/>
<line x1="660.52" y1="289.90" x2="660.52" y2="293.30" stroke="#333333" stroke-width="0.9"/>
<line x1="660.52" y1="295.90" x2="660.52" y2="296.50" stroke="#333333" stroke-width="0.9"/>
<rect x="655.48" y="293.30" width="10.10" height="2.60" fill="#bebebe" stroke="#333333" stroke-width="0.9"/>
<line x1="655.48" y1="294.60" x2="665.58" y2="294.60" stroke="#333333" stroke-width="1.7"/>
<line x1="671.48" y1="291.50" x2="671.48" y2="292.30" stroke="#333333" stroke-width="0.9"/>
<line x1="671.48" y1="295.10" x2="671.48" y2="296.00" stroke="#333333" stroke-width="0.9"/>
<rect x="666.43" y="292.30" width="10.10" height="2.80" fill="#7864f8" stroke="#333333" stroke-width="0.9"/>
<line x1="666.43" y1="293.60" x2="676.53" y2="293.60" stroke="#333333" stroke-width="1.7"/>
<text x="107.30" y="360.47" font-size="9.4" fill="#1a1a1a" text-anchor="middle">ExN.DG</text>
<line x1="48.70" y1="371.50" x2="48.70" y2="430.60" stroke="#262626" stroke-width="1.15"/>
<line x1="45.70" y1="427.70" x2="48.70" y2="427.70" stroke="#262626" stroke-width="1.0"/>
<text x="45.10" y="430.85" font-size="8.8" fill="#363636" text-anchor="end">0.0</text>
<line x1="45.70" y1="411.65" x2="48.70" y2="411.65" stroke="#262626" stroke-width="1.0"/>
<text x="45.10" y="414.80" font-size="8.8" fill="#363636" text-anchor="end">0.1</text>
<line x1="45.70" y1="395.60" x2="48.70" y2="395.60" stroke="#262626" stroke-width="1.0"/>
<text x="45.10" y="398.75" font-size="8.8" fill="#363636" text-anchor="end">0.2</text>
<line x1="45.70" y1="379.55" x2="48.70" y2="379.55" stroke="#262626" stroke-width="1.0"/>
<text x="45.10" y="382.70" font-size="8.8" fill="#363636" text-anchor="end">0.3</text>
<line x1="48.70" y1="430.60" x2="171.30" y2="430.60" stroke="#262626" stroke-width="1.15"/>
<line x1="66.00" y1="430.60" x2="66.00" y2="433.60" stroke="#262626" stroke-width="1.0"/>
<text transform="translate(69.15,434.90) rotate(-90)" font-size="8.8" fill="#363636" text-anchor="end">Control</text>
<line x1="95.20" y1="430.60" x2="95.20" y2="433.60" stroke="#262626" stroke-width="1.0"/>
<text transform="translate(98.35,434.90) rotate(-90)" font-size="8.8" fill="#363636" text-anchor="end">15min</text>
<line x1="124.40" y1="430.60" x2="124.40" y2="433.60" stroke="#262626" stroke-width="1.0"/>
<text transform="translate(127.55,434.90) rotate(-90)" font-size="8.8" fill="#363636" text-anchor="end">45min</text>
<line x1="153.60" y1="430.60" x2="153.60" y2="433.60" stroke="#262626" stroke-width="1.0"/>
<text transform="translate(156.75,434.90) rotate(-90)" font-size="8.8" fill="#363636" text-anchor="end">3h</text>
<text x="51.60" y="379.55" font-size="8.8" fill="#1a1a1a" text-anchor="start">ARS q=2e−02</text>
<text x="51.60" y="390.85" font-size="8.8" fill="#1a1a1a" text-anchor="start">CRS q=1e−02</text>
<polyline points="66.00,427.10 95.20,427.00 124.40,426.30 153.60,427.00" fill="none" stroke="#c0c0c0" stroke-width="2.3" stroke-linejoin="round"/>
<polyline points="66.00,426.80 95.20,427.00 124.40,426.80 153.60,426.60" fill="none" stroke="#7461f8" stroke-width="2.3" stroke-linejoin="round"/>
<line x1="60.52" y1="426.05" x2="60.52" y2="426.05" stroke="#333333" stroke-width="0.9"/>
<line x1="60.52" y1="428.15" x2="60.52" y2="428.15" stroke="#333333" stroke-width="0.9"/>
<rect x="55.48" y="426.05" width="10.10" height="2.10" fill="#bebebe" stroke="#333333" stroke-width="0.9"/>
<line x1="55.48" y1="427.10" x2="65.58" y2="427.10" stroke="#333333" stroke-width="1.7"/>
<line x1="71.47" y1="425.75" x2="71.47" y2="425.75" stroke="#333333" stroke-width="0.9"/>
<line x1="71.47" y1="427.85" x2="71.47" y2="427.85" stroke="#333333" stroke-width="0.9"/>
<rect x="66.42" y="425.75" width="10.10" height="2.10" fill="#7864f8" stroke="#333333" stroke-width="0.9"/>
<line x1="66.42" y1="426.80" x2="76.52" y2="426.80" stroke="#333333" stroke-width="1.7"/>
<line x1="89.73" y1="425.95" x2="89.73" y2="425.95" stroke="#333333" stroke-width="0.9"/>
<line x1="89.73" y1="428.05" x2="89.73" y2="428.05" stroke="#333333" stroke-width="0.9"/>
<rect x="84.68" y="425.95" width="10.10" height="2.10" fill="#bebebe" stroke="#333333" stroke-width="0.9"/>
<line x1="84.68" y1="427.00" x2="94.78" y2="427.00" stroke="#333333" stroke-width="1.7"/>
<line x1="100.67" y1="425.95" x2="100.67" y2="425.95" stroke="#333333" stroke-width="0.9"/>
<line x1="100.67" y1="428.05" x2="100.67" y2="428.05" stroke="#333333" stroke-width="0.9"/>
<rect x="95.62" y="425.95" width="10.10" height="2.10" fill="#7864f8" stroke="#333333" stroke-width="0.9"/>
<line x1="95.62" y1="427.00" x2="105.72" y2="427.00" stroke="#333333" stroke-width="1.7"/>
<line x1="118.93" y1="425.25" x2="118.93" y2="425.25" stroke="#333333" stroke-width="0.9"/>
<line x1="118.93" y1="427.35" x2="118.93" y2="427.35" stroke="#333333" stroke-width="0.9"/>
<rect x="113.88" y="425.25" width="10.10" height="2.10" fill="#bebebe" stroke="#333333" stroke-width="0.9"/>
<line x1="113.88" y1="426.30" x2="123.98" y2="426.30" stroke="#333333" stroke-width="1.7"/>
<line x1="129.88" y1="425.75" x2="129.88" y2="425.75" stroke="#333333" stroke-width="0.9"/>
<line x1="129.88" y1="427.85" x2="129.88" y2="427.85" stroke="#333333" stroke-width="0.9"/>
<rect x="124.83" y="425.75" width="10.10" height="2.10" fill="#7864f8" stroke="#333333" stroke-width="0.9"/>
<line x1="124.83" y1="426.80" x2="134.93" y2="426.80" stroke="#333333" stroke-width="1.7"/>
<line x1="148.12" y1="425.95" x2="148.12" y2="425.95" stroke="#333333" stroke-width="0.9"/>
<line x1="148.12" y1="428.05" x2="148.12" y2="428.05" stroke="#333333" stroke-width="0.9"/>
<rect x="143.07" y="425.95" width="10.10" height="2.10" fill="#bebebe" stroke="#333333" stroke-width="0.9"/>
<line x1="143.07" y1="427.00" x2="153.17" y2="427.00" stroke="#333333" stroke-width="1.7"/>
<line x1="159.07" y1="425.55" x2="159.07" y2="425.55" stroke="#333333" stroke-width="0.9"/>
<line x1="159.07" y1="427.65" x2="159.07" y2="427.65" stroke="#333333" stroke-width="0.9"/>
<rect x="154.02" y="425.55" width="10.10" height="2.10" fill="#7864f8" stroke="#333333" stroke-width="0.9"/>
<line x1="154.02" y1="426.60" x2="164.12" y2="426.60" stroke="#333333" stroke-width="1.7"/>
<text x="235.40" y="360.47" font-size="9.4" fill="#1a1a1a" text-anchor="middle">ExN.Mossy</text>
<line x1="176.80" y1="430.60" x2="299.40" y2="430.60" stroke="#262626" stroke-width="1.15"/>
<line x1="194.10" y1="430.60" x2="194.10" y2="433.60" stroke="#262626" stroke-width="1.0"/>
<text transform="translate(197.25,434.90) rotate(-90)" font-size="8.8" fill="#363636" text-anchor="end">Control</text>
<line x1="223.30" y1="430.60" x2="223.30" y2="433.60" stroke="#262626" stroke-width="1.0"/>
<text transform="translate(226.45,434.90) rotate(-90)" font-size="8.8" fill="#363636" text-anchor="end">15min</text>
<line x1="252.50" y1="430.60" x2="252.50" y2="433.60" stroke="#262626" stroke-width="1.0"/>
<text transform="translate(255.65,434.90) rotate(-90)" font-size="8.8" fill="#363636" text-anchor="end">45min</text>
<line x1="281.70" y1="430.60" x2="281.70" y2="433.60" stroke="#262626" stroke-width="1.0"/>
<text transform="translate(284.85,434.90) rotate(-90)" font-size="8.8" fill="#363636" text-anchor="end">3h</text>
<text x="179.70" y="379.55" font-size="8.8" fill="#1a1a1a" text-anchor="start">ARS q=4e−04</text>
<text x="179.70" y="390.85" font-size="8.8" fill="#1a1a1a" text-anchor="start">CRS q=5e−02</text>
<polyline points="194.10,426.10 223.30,424.80 252.50,405.80 281.70,416.50" fill="none" stroke="#c0c0c0" stroke-width="2.3" stroke-linejoin="round"/>
<polyline points="194.10,426.70 223.30,422.90 252.50,418.10 281.70,416.00" fill="none" stroke="#7461f8" stroke-width="2.3" stroke-linejoin="round"/>
<line x1="188.63" y1="421.00" x2="188.63" y2="424.40" stroke="#333333" stroke-width="0.9"/>
<line x1="188.63" y1="428.20" x2="188.63" y2="428.50" stroke="#333333" stroke-width="0.9"/>
<rect x="183.58" y="424.40" width="10.10" height="3.80" fill="#bebebe" stroke="#333333" stroke-width="0.9"/>
<line x1="183.58" y1="426.10" x2="193.68" y2="426.10" stroke="#333333" stroke-width="1.7"/>
<line x1="199.58" y1="425.65" x2="199.58" y2="425.65" stroke="#333333" stroke-width="0.9"/>
<line x1="199.58" y1="427.75" x2="199.58" y2="427.75" stroke="#333333" stroke-width="0.9"/>
<rect x="194.53" y="425.65" width="10.10" height="2.10" fill="#7864f8" stroke="#333333" stroke-width="0.9"/>
<line x1="194.53" y1="426.70" x2="204.62" y2="426.70" stroke="#333333" stroke-width="1.7"/>
<line x1="217.83" y1="423.75" x2="217.83" y2="423.75" stroke="#333333" stroke-width="0.9"/>
<line x1="217.83" y1="425.85" x2="217.83" y2="425.85" stroke="#333333" stroke-width="0.9"/>
<rect x="212.78" y="423.75" width="10.10" height="2.10" fill="#bebebe" stroke="#333333" stroke-width="0.9"/>
<line x1="212.78" y1="424.80" x2="222.88" y2="424.80" stroke="#333333" stroke-width="1.7"/>
<line x1="228.78" y1="418.70" x2="228.78" y2="421.40" stroke="#333333" stroke-width="0.9"/>
<line x1="228.78" y1="424.40" x2="228.78" y2="425.00" stroke="#333333" stroke-width="0.9"/>
<rect x="223.72" y="421.40" width="10.10" height="3.00" fill="#7864f8" stroke="#333333" stroke-width="0.9"/>
<line x1="223.72" y1="422.90" x2="233.82" y2="422.90" stroke="#333333" stroke-width="1.7"/>
<line x1="247.03" y1="404.75" x2="247.03" y2="404.75" stroke="#333333" stroke-width="0.9"/>
<line x1="247.03" y1="406.85" x2="247.03" y2="406.85" stroke="#333333" stroke-width="0.9"/>
<rect x="241.98" y="404.75" width="10.10" height="2.10" fill="#bebebe" stroke="#333333" stroke-width="0.9"/>
<line x1="241.98" y1="405.80" x2="252.08" y2="405.80" stroke="#333333" stroke-width="1.7"/>
<line x1="257.98" y1="417.05" x2="257.98" y2="417.05" stroke="#333333" stroke-width="0.9"/>
<line x1="257.98" y1="419.15" x2="257.98" y2="419.15" stroke="#333333" stroke-width="0.9"/>
<rect x="252.93" y="417.05" width="10.10" height="2.10" fill="#7864f8" stroke="#333333" stroke-width="0.9"/>
<line x1="252.93" y1="418.10" x2="263.03" y2="418.10" stroke="#333333" stroke-width="1.7"/>
<line x1="276.23" y1="414.70" x2="276.23" y2="420.00" stroke="#333333" stroke-width="0.9"/>
<line x1="276.23" y1="425.70" x2="276.23" y2="426.50" stroke="#333333" stroke-width="0.9"/>
<rect x="271.18" y="420.00" width="10.10" height="5.70" fill="#bebebe" stroke="#333333" stroke-width="0.9"/>
<line x1="271.18" y1="424.80" x2="281.28" y2="424.80" stroke="#333333" stroke-width="1.7"/>
<line x1="287.18" y1="411.00" x2="287.18" y2="411.50" stroke="#333333" stroke-width="0.9"/>
<line x1="287.18" y1="420.60" x2="287.18" y2="427.20" stroke="#333333" stroke-width="0.9"/>
<rect x="282.13" y="411.50" width="10.10" height="9.10" fill="#7864f8" stroke="#333333" stroke-width="0.9"/>
<line x1="282.13" y1="412.00" x2="292.23" y2="412.00" stroke="#333333" stroke-width="1.7"/>
<text x="363.50" y="354.87" font-size="9.4" fill="#1a1a1a" text-anchor="middle">ExN.SUB</text>
<text x="363.50" y="365.87" font-size="9.4" fill="#1a1a1a" text-anchor="middle">Cntnap4</text>
<line x1="304.90" y1="430.60" x2="427.50" y2="430.60" stroke="#262626" stroke-width="1.15"/>
<line x1="322.20" y1="430.60" x2="322.20" y2="433.60" stroke="#262626" stroke-width="1.0"/>
<text transform="translate(325.35,434.90) rotate(-90)" font-size="8.8" fill="#363636" text-anchor="end">Control</text>
<line x1="351.40" y1="430.60" x2="351.40" y2="433.60" stroke="#262626" stroke-width="1.0"/>
<text transform="translate(354.55,434.90) rotate(-90)" font-size="8.8" fill="#363636" text-anchor="end">15min</text>
<line x1="380.60" y1="430.60" x2="380.60" y2="433.60" stroke="#262626" stroke-width="1.0"/>
<text transform="translate(383.75,434.90) rotate(-90)" font-size="8.8" fill="#363636" text-anchor="end">45min</text>
<line x1="409.80" y1="430.60" x2="409.80" y2="433.60" stroke="#262626" stroke-width="1.0"/>
<text transform="translate(412.95,434.90) rotate(-90)" font-size="8.8" fill="#363636" text-anchor="end">3h</text>
<text x="307.80" y="379.55" font-size="8.8" fill="#1a1a1a" text-anchor="start">ARS q=3e−05</text>
<text x="307.80" y="390.85" font-size="8.8" fill="#1a1a1a" text-anchor="start">CRS q=5e−04</text>
<polyline points="322.20,411.70 351.40,400.30 380.60,376.40 409.80,398.00" fill="none" stroke="#c0c0c0" stroke-width="2.3" stroke-linejoin="round"/>
<polyline points="322.20,406.40 351.40,399.60 380.60,403.20 409.80,397.50" fill="none" stroke="#7461f8" stroke-width="2.3" stroke-linejoin="round"/>
<line x1="316.72" y1="405.50" x2="316.72" y2="409.80" stroke="#333333" stroke-width="0.9"/>
<line x1="316.72" y1="414.00" x2="316.72" y2="414.50" stroke="#333333" stroke-width="0.9"/>
<rect x="311.67" y="409.80" width="10.10" height="4.20" fill="#bebebe" stroke="#333333" stroke-width="0.9"/>
<line x1="311.67" y1="411.70" x2="321.77" y2="411.70" stroke="#333333" stroke-width="1.7"/>
<line x1="327.68" y1="398.80" x2="327.68" y2="402.20" stroke="#333333" stroke-width="0.9"/>
<line x1="327.68" y1="410.20" x2="327.68" y2="414.40" stroke="#333333" stroke-width="0.9"/>
<rect x="322.62" y="402.20" width="10.10" height="8.00" fill="#7864f8" stroke="#333333" stroke-width="0.9"/>
<line x1="322.62" y1="406.40" x2="332.73" y2="406.40" stroke="#333333" stroke-width="1.7"/>
<line x1="345.92" y1="390.30" x2="345.92" y2="396.00" stroke="#333333" stroke-width="0.9"/>
<line x1="345.92" y1="404.00" x2="345.92" y2="406.80" stroke="#333333" stroke-width="0.9"/>
<rect x="340.87" y="396.00" width="10.10" height="8.00" fill="#bebebe" stroke="#333333" stroke-width="0.9"/>
<line x1="340.87" y1="400.30" x2="350.97" y2="400.30" stroke="#333333" stroke-width="1.7"/>
<line x1="356.88" y1="396.00" x2="356.88" y2="397.50" stroke="#333333" stroke-width="0.9"/>
<line x1="356.88" y1="401.10" x2="356.88" y2="402.60" stroke="#333333" stroke-width="0.9"/>
<rect x="351.82" y="397.50" width="10.10" height="3.60" fill="#7864f8" stroke="#333333" stroke-width="0.9"/>
<line x1="351.82" y1="399.60" x2="361.93" y2="399.60" stroke="#333333" stroke-width="1.7"/>
<line x1="375.12" y1="375.35" x2="375.12" y2="375.35" stroke="#333333" stroke-width="0.9"/>
<line x1="375.12" y1="377.45" x2="375.12" y2="377.45" stroke="#333333" stroke-width="0.9"/>
<rect x="370.07" y="375.35" width="10.10" height="2.10" fill="#bebebe" stroke="#333333" stroke-width="0.9"/>
<line x1="370.07" y1="376.40" x2="380.17" y2="376.40" stroke="#333333" stroke-width="1.7"/>
<line x1="386.07" y1="402.15" x2="386.07" y2="402.15" stroke="#333333" stroke-width="0.9"/>
<line x1="386.07" y1="404.25" x2="386.07" y2="404.25" stroke="#333333" stroke-width="0.9"/>
<rect x="381.02" y="402.15" width="10.10" height="2.10" fill="#7864f8" stroke="#333333" stroke-width="0.9"/>
<line x1="381.02" y1="403.20" x2="391.12" y2="403.20" stroke="#333333" stroke-width="1.7"/>
<line x1="404.32" y1="398.40" x2="404.32" y2="401.70" stroke="#333333" stroke-width="0.9"/>
<line x1="404.32" y1="406.80" x2="404.32" y2="408.30" stroke="#333333" stroke-width="0.9"/>
<rect x="399.27" y="401.70" width="10.10" height="5.10" fill="#bebebe" stroke="#333333" stroke-width="0.9"/>
<line x1="399.27" y1="404.50" x2="409.37" y2="404.50" stroke="#333333" stroke-width="1.7"/>
<line x1="415.27" y1="390.30" x2="415.27" y2="395.40" stroke="#333333" stroke-width="0.9"/>
<line x1="415.27" y1="400.30" x2="415.27" y2="401.00" stroke="#333333" stroke-width="0.9"/>
<rect x="410.22" y="395.40" width="10.10" height="4.90" fill="#7864f8" stroke="#333333" stroke-width="0.9"/>
<line x1="410.22" y1="396.50" x2="420.32" y2="396.50" stroke="#333333" stroke-width="1.7"/>
<text x="491.60" y="354.87" font-size="9.4" fill="#1a1a1a" text-anchor="middle">ExN.SUB</text>
<text x="491.60" y="365.87" font-size="9.4" fill="#1a1a1a" text-anchor="middle">Fn1</text>
<line x1="433.00" y1="430.60" x2="555.60" y2="430.60" stroke="#262626" stroke-width="1.15"/>
<line x1="450.30" y1="430.60" x2="450.30" y2="433.60" stroke="#262626" stroke-width="1.0"/>
<text transform="translate(453.45,434.90) rotate(-90)" font-size="8.8" fill="#363636" text-anchor="end">Control</text>
<line x1="479.50" y1="430.60" x2="479.50" y2="433.60" stroke="#262626" stroke-width="1.0"/>
<text transform="translate(482.65,434.90) rotate(-90)" font-size="8.8" fill="#363636" text-anchor="end">15min</text>
<line x1="508.70" y1="430.60" x2="508.70" y2="433.60" stroke="#262626" stroke-width="1.0"/>
<text transform="translate(511.85,434.90) rotate(-90)" font-size="8.8" fill="#363636" text-anchor="end">45min</text>
<line x1="537.90" y1="430.60" x2="537.90" y2="433.60" stroke="#262626" stroke-width="1.0"/>
<text transform="translate(541.05,434.90) rotate(-90)" font-size="8.8" fill="#363636" text-anchor="end">3h</text>
<text x="435.90" y="379.55" font-size="8.8" fill="#1a1a1a" text-anchor="start">ARS q=4e−02</text>
<text x="435.90" y="390.85" font-size="8.8" fill="#1a1a1a" text-anchor="start">CRS q=1e−01</text>
<polyline points="450.30,418.70 479.50,411.70 508.70,408.70 537.90,416.00" fill="none" stroke="#c0c0c0" stroke-width="2.3" stroke-linejoin="round"/>
<polyline points="450.30,419.70 479.50,416.50 508.70,415.50 537.90,411.50" fill="none" stroke="#7461f8" stroke-width="2.3" stroke-linejoin="round"/>
<line x1="444.82" y1="414.60" x2="444.82" y2="416.50" stroke="#333333" stroke-width="0.9"/>
<line x1="444.82" y1="421.20" x2="444.82" y2="423.50" stroke="#333333" stroke-width="0.9"/>
<rect x="439.77" y="416.50" width="10.10" height="4.70" fill="#bebebe" stroke="#333333" stroke-width="0.9"/>
<line x1="439.77" y1="418.70" x2="449.87" y2="418.70" stroke="#333333" stroke-width="1.7"/>
<line x1="455.77" y1="414.00" x2="455.77" y2="417.80" stroke="#333333" stroke-width="0.9"/>
<line x1="455.77" y1="423.10" x2="455.77" y2="423.50" stroke="#333333" stroke-width="0.9"/>
<rect x="450.72" y="417.80" width="10.10" height="5.30" fill="#7864f8" stroke="#333333" stroke-width="0.9"/>
<line x1="450.72" y1="419.70" x2="460.82" y2="419.70" stroke="#333333" stroke-width="1.7"/>
<line x1="474.02" y1="406.80" x2="474.02" y2="409.80" stroke="#333333" stroke-width="0.9"/>
<line x1="474.02" y1="414.40" x2="474.02" y2="415.00" stroke="#333333" stroke-width="0.9"/>
<rect x="468.97" y="409.80" width="10.10" height="4.60" fill="#bebebe" stroke="#333333" stroke-width="0.9"/>
<line x1="468.97" y1="411.70" x2="479.07" y2="411.70" stroke="#333333" stroke-width="1.7"/>
<line x1="484.97" y1="412.00" x2="484.97" y2="413.60" stroke="#333333" stroke-width="0.9"/>
<line x1="484.97" y1="418.70" x2="484.97" y2="421.20" stroke="#333333" stroke-width="0.9"/>
<rect x="479.92" y="413.60" width="10.10" height="5.10" fill="#7864f8" stroke="#333333" stroke-width="0.9"/>
<line x1="479.92" y1="416.90" x2="490.02" y2="416.90" stroke="#333333" stroke-width="1.7"/>
<line x1="503.22" y1="404.90" x2="503.22" y2="406.80" stroke="#333333" stroke-width="0.9"/>
<line x1="503.22" y1="410.60" x2="503.22" y2="411.70" stroke="#333333" stroke-width="0.9"/>
<rect x="498.17" y="406.80" width="10.10" height="3.80" fill="#bebebe" stroke="#333333" stroke-width="0.9"/>
<line x1="498.17" y1="408.70" x2="508.27" y2="408.70" stroke="#333333" stroke-width="1.7"/>
<line x1="514.17" y1="414.45" x2="514.17" y2="414.45" stroke="#333333" stroke-width="0.9"/>
<line x1="514.17" y1="416.55" x2="514.17" y2="416.55" stroke="#333333" stroke-width="0.9"/>
<rect x="509.12" y="414.45" width="10.10" height="2.10" fill="#7864f8" stroke="#333333" stroke-width="0.9"/>
<line x1="509.12" y1="415.50" x2="519.22" y2="415.50" stroke="#333333" stroke-width="1.7"/>
<line x1="532.42" y1="413.60" x2="532.42" y2="415.50" stroke="#333333" stroke-width="0.9"/>
<line x1="532.42" y1="419.70" x2="532.42" y2="422.00" stroke="#333333" stroke-width="0.9"/>
<rect x="527.38" y="415.50" width="10.10" height="4.20" fill="#bebebe" stroke="#333333" stroke-width="0.9"/>
<line x1="527.38" y1="417.40" x2="537.48" y2="417.40" stroke="#333333" stroke-width="1.7"/>
<line x1="543.38" y1="406.80" x2="543.38" y2="409.60" stroke="#333333" stroke-width="0.9"/>
<line x1="543.38" y1="413.60" x2="543.38" y2="414.00" stroke="#333333" stroke-width="0.9"/>
<rect x="538.33" y="409.60" width="10.10" height="4.00" fill="#7864f8" stroke="#333333" stroke-width="0.9"/>
<line x1="538.33" y1="411.50" x2="548.43" y2="411.50" stroke="#333333" stroke-width="1.7"/>
<text x="619.70" y="360.47" font-size="9.4" fill="#1a1a1a" text-anchor="middle">InhN.Lamp5</text>
<line x1="561.10" y1="430.60" x2="683.70" y2="430.60" stroke="#262626" stroke-width="1.15"/>
<line x1="578.40" y1="430.60" x2="578.40" y2="433.60" stroke="#262626" stroke-width="1.0"/>
<text transform="translate(581.55,434.90) rotate(-90)" font-size="8.8" fill="#363636" text-anchor="end">Control</text>
<line x1="607.60" y1="430.60" x2="607.60" y2="433.60" stroke="#262626" stroke-width="1.0"/>
<text transform="translate(610.75,434.90) rotate(-90)" font-size="8.8" fill="#363636" text-anchor="end">15min</text>
<line x1="636.80" y1="430.60" x2="636.80" y2="433.60" stroke="#262626" stroke-width="1.0"/>
<text transform="translate(639.95,434.90) rotate(-90)" font-size="8.8" fill="#363636" text-anchor="end">45min</text>
<line x1="666.00" y1="430.60" x2="666.00" y2="433.60" stroke="#262626" stroke-width="1.0"/>
<text transform="translate(669.15,434.90) rotate(-90)" font-size="8.8" fill="#363636" text-anchor="end">3h</text>
<text x="564.00" y="379.55" font-size="8.8" fill="#1a1a1a" text-anchor="start">ARS q=2e−01</text>
<text x="564.00" y="390.85" font-size="8.8" fill="#1a1a1a" text-anchor="start">CRS q=5e−01</text>
<polyline points="578.40,425.80 607.60,424.30 636.80,421.50 666.00,426.00" fill="none" stroke="#c0c0c0" stroke-width="2.3" stroke-linejoin="round"/>
<polyline points="578.40,425.80 607.60,425.40 636.80,423.50 666.00,423.60" fill="none" stroke="#7461f8" stroke-width="2.3" stroke-linejoin="round"/>
<line x1="572.92" y1="424.75" x2="572.92" y2="424.75" stroke="#333333" stroke-width="0.9"/>
<line x1="572.92" y1="426.85" x2="572.92" y2="426.85" stroke="#333333" stroke-width="0.9"/>
<rect x="567.88" y="424.75" width="10.10" height="2.10" fill="#bebebe" stroke="#333333" stroke-width="0.9"/>
<line x1="567.88" y1="425.80" x2="577.98" y2="425.80" stroke="#333333" stroke-width="1.7"/>
<line x1="583.88" y1="424.75" x2="583.88" y2="424.75" stroke="#333333" stroke-width="0.9"/>
<line x1="583.88" y1="426.85" x2="583.88" y2="426.85" stroke="#333333" stroke-width="0.9"/>
<rect x="578.83" y="424.75" width="10.10" height="2.10" fill="#7864f8" stroke="#333333" stroke-width="0.9"/>
<line x1="578.83" y1="425.80" x2="588.93" y2="425.80" stroke="#333333" stroke-width="1.7"/>
<line x1="602.12" y1="423.25" x2="602.12" y2="423.25" stroke="#333333" stroke-width="0.9"/>
<line x1="602.12" y1="425.35" x2="602.12" y2="425.35" stroke="#333333" stroke-width="0.9"/>
<rect x="597.08" y="423.25" width="10.10" height="2.10" fill="#bebebe" stroke="#333333" stroke-width="0.9"/>
<line x1="597.08" y1="424.30" x2="607.18" y2="424.30" stroke="#333333" stroke-width="1.7"/>
<line x1="613.08" y1="423.50" x2="613.08" y2="424.30" stroke="#333333" stroke-width="0.9"/>
<line x1="613.08" y1="427.30" x2="613.08" y2="427.50" stroke="#333333" stroke-width="0.9"/>
<rect x="608.03" y="424.30" width="10.10" height="3.00" fill="#7864f8" stroke="#333333" stroke-width="0.9"/>
<line x1="608.03" y1="425.40" x2="618.13" y2="425.40" stroke="#333333" stroke-width="1.7"/>
<line x1="631.32" y1="420.00" x2="631.32" y2="420.60" stroke="#333333" stroke-width="0.9"/>
<line x1="631.32" y1="423.00" x2="631.32" y2="423.50" stroke="#333333" stroke-width="0.9"/>
<rect x="626.27" y="420.60" width="10.10" height="2.40" fill="#bebebe" stroke="#333333" stroke-width="0.9"/>
<line x1="626.27" y1="421.50" x2="636.38" y2="421.50" stroke="#333333" stroke-width="1.7"/>
<line x1="642.27" y1="422.00" x2="642.27" y2="422.60" stroke="#333333" stroke-width="0.9"/>
<line x1="642.27" y1="424.90" x2="642.27" y2="425.50" stroke="#333333" stroke-width="0.9"/>
<rect x="637.23" y="422.60" width="10.10" height="2.30" fill="#7864f8" stroke="#333333" stroke-width="0.9"/>
<line x1="637.23" y1="423.50" x2="647.33" y2="423.50" stroke="#333333" stroke-width="1.7"/>
<line x1="660.52" y1="424.50" x2="660.52" y2="424.90" stroke="#333333" stroke-width="0.9"/>
<line x1="660.52" y1="427.30" x2="660.52" y2="427.50" stroke="#333333" stroke-width="0.9"/>
<rect x="655.48" y="424.90" width="10.10" height="2.40" fill="#bebebe" stroke="#333333" stroke-width="0.9"/>
<line x1="655.48" y1="426.00" x2="665.58" y2="426.00" stroke="#333333" stroke-width="1.7"/>
<line x1="671.48" y1="419.60" x2="671.48" y2="422.40" stroke="#333333" stroke-width="0.9"/>
<line x1="671.48" y1="425.80" x2="671.48" y2="426.50" stroke="#333333" stroke-width="0.9"/>
<rect x="666.43" y="422.40" width="10.10" height="3.40" fill="#7864f8" stroke="#333333" stroke-width="0.9"/>
<line x1="666.43" y1="423.60" x2="676.53" y2="423.60" stroke="#333333" stroke-width="1.7"/>
<text x="107.30" y="487.07" font-size="9.4" fill="#1a1a1a" text-anchor="middle">InhN.Ntng1</text>
<line x1="48.70" y1="498.20" x2="48.70" y2="557.30" stroke="#262626" stroke-width="1.15"/>
<line x1="45.70" y1="554.40" x2="48.70" y2="554.40" stroke="#262626" stroke-width="1.0"/>
<text x="45.10" y="557.55" font-size="8.8" fill="#363636" text-anchor="end">0.0</text>
<line x1="45.70" y1="538.35" x2="48.70" y2="538.35" stroke="#262626" stroke-width="1.0"/>
<text x="45.10" y="541.50" font-size="8.8" fill="#363636" text-anchor="end">0.1</text>
<line x1="45.70" y1="522.30" x2="48.70" y2="522.30" stroke="#262626" stroke-width="1.0"/>
<text x="45.10" y="525.45" font-size="8.8" fill="#363636" text-anchor="end">0.2</text>
<line x1="45.70" y1="506.25" x2="48.70" y2="506.25" stroke="#262626" stroke-width="1.0"/>
<text x="45.10" y="509.40" font-size="8.8" fill="#363636" text-anchor="end">0.3</text>
<line x1="48.70" y1="557.30" x2="171.30" y2="557.30" stroke="#262626" stroke-width="1.15"/>
<line x1="66.00" y1="557.30" x2="66.00" y2="560.30" stroke="#262626" stroke-width="1.0"/>
<text transform="translate(69.15,561.60) rotate(-90)" font-size="8.8" fill="#363636" text-anchor="end">Control</text>
<line x1="95.20" y1="557.30" x2="95.20" y2="560.30" stroke="#262626" stroke-width="1.0"/>
<text transform="translate(98.35,561.60) rotate(-90)" font-size="8.8" fill="#363636" text-anchor="end">15min</text>
<line x1="124.40" y1="557.30" x2="124.40" y2="560.30" stroke="#262626" stroke-width="1.0"/>
<text transform="translate(127.55,561.60) rotate(-90)" font-size="8.8" fill="#363636" text-anchor="end">45min</text>
<line x1="153.60" y1="557.30" x2="153.60" y2="560.30" stroke="#262626" stroke-width="1.0"/>
<text transform="translate(156.75,561.60) rotate(-90)" font-size="8.8" fill="#363636" text-anchor="end">3h</text>
<text x="51.60" y="506.25" font-size="8.8" fill="#1a1a1a" text-anchor="start">ARS q=2e−03</text>
<text x="51.60" y="517.55" font-size="8.8" fill="#1a1a1a" text-anchor="start">CRS q=1e−02</text>
<polyline points="66.00,551.50 95.20,549.00 124.40,535.00 153.60,548.00" fill="none" stroke="#c0c0c0" stroke-width="2.3" stroke-linejoin="round"/>
<polyline points="66.00,544.80 95.20,545.00 124.40,545.00 153.60,548.00" fill="none" stroke="#7461f8" stroke-width="2.3" stroke-linejoin="round"/>
<line x1="60.52" y1="550.65" x2="60.52" y2="550.65" stroke="#333333" stroke-width="0.9"/>
<line x1="60.52" y1="552.75" x2="60.52" y2="552.75" stroke="#333333" stroke-width="0.9"/>
<rect x="55.48" y="550.65" width="10.10" height="2.10" fill="#bebebe" stroke="#333333" stroke-width="0.9"/>
<line x1="55.48" y1="551.70" x2="65.58" y2="551.70" stroke="#333333" stroke-width="1.7"/>
<line x1="71.47" y1="541.20" x2="71.47" y2="543.10" stroke="#333333" stroke-width="0.9"/>
<line x1="71.47" y1="546.50" x2="71.47" y2="547.90" stroke="#333333" stroke-width="0.9"/>
<rect x="66.42" y="543.10" width="10.10" height="3.40" fill="#7864f8" stroke="#333333" stroke-width="0.9"/>
<line x1="66.42" y1="544.80" x2="76.52" y2="544.80" stroke="#333333" stroke-width="1.7"/>
<line x1="89.73" y1="542.20" x2="89.73" y2="547.50" stroke="#333333" stroke-width="0.9"/>
<line x1="89.73" y1="553.00" x2="89.73" y2="553.50" stroke="#333333" stroke-width="0.9"/>
<rect x="84.68" y="547.50" width="10.10" height="5.50" fill="#bebebe" stroke="#333333" stroke-width="0.9"/>
<line x1="84.68" y1="551.70" x2="94.78" y2="551.70" stroke="#333333" stroke-width="1.7"/>
<line x1="100.67" y1="543.95" x2="100.67" y2="543.95" stroke="#333333" stroke-width="0.9"/>
<line x1="100.67" y1="546.05" x2="100.67" y2="546.05" stroke="#333333" stroke-width="0.9"/>
<rect x="95.62" y="543.95" width="10.10" height="2.10" fill="#7864f8" stroke="#333333" stroke-width="0.9"/>
<line x1="95.62" y1="545.00" x2="105.72" y2="545.00" stroke="#333333" stroke-width="1.7"/>
<line x1="118.93" y1="530.40" x2="118.93" y2="532.70" stroke="#333333" stroke-width="0.9"/>
<line x1="118.93" y1="537.80" x2="118.93" y2="539.90" stroke="#333333" stroke-width="0.9"/>
<rect x="113.88" y="532.70" width="10.10" height="5.10" fill="#bebebe" stroke="#333333" stroke-width="0.9"/>
<line x1="113.88" y1="535.00" x2="123.98" y2="535.00" stroke="#333333" stroke-width="1.7"/>
<line x1="129.88" y1="543.95" x2="129.88" y2="543.95" stroke="#333333" stroke-width="0.9"/>
<line x1="129.88" y1="546.05" x2="129.88" y2="546.05" stroke="#333333" stroke-width="0.9"/>
<rect x="124.83" y="543.95" width="10.10" height="2.10" fill="#7864f8" stroke="#333333" stroke-width="0.9"/>
<line x1="124.83" y1="545.00" x2="134.93" y2="545.00" stroke="#333333" stroke-width="1.7"/>
<line x1="148.12" y1="547.25" x2="148.12" y2="547.25" stroke="#333333" stroke-width="0.9"/>
<line x1="148.12" y1="549.35" x2="148.12" y2="549.35" stroke="#333333" stroke-width="0.9"/>
<rect x="143.07" y="547.25" width="10.10" height="2.10" fill="#bebebe" stroke="#333333" stroke-width="0.9"/>
<line x1="143.07" y1="548.30" x2="153.17" y2="548.30" stroke="#333333" stroke-width="1.7"/>
<line x1="159.07" y1="544.00" x2="159.07" y2="545.60" stroke="#333333" stroke-width="0.9"/>
<line x1="159.07" y1="550.20" x2="159.07" y2="552.20" stroke="#333333" stroke-width="0.9"/>
<rect x="154.02" y="545.60" width="10.10" height="4.60" fill="#7864f8" stroke="#333333" stroke-width="0.9"/>
<line x1="154.02" y1="547.50" x2="164.12" y2="547.50" stroke="#333333" stroke-width="1.7"/>
<text x="235.40" y="487.07" font-size="9.4" fill="#1a1a1a" text-anchor="middle">InhN.Pvalb</text>
<line x1="176.80" y1="557.30" x2="299.40" y2="557.30" stroke="#262626" stroke-width="1.15"/>
<line x1="194.10" y1="557.30" x2="194.10" y2="560.30" stroke="#262626" stroke-width="1.0"/>
<text transform="translate(197.25,561.60) rotate(-90)" font-size="8.8" fill="#363636" text-anchor="end">Control</text>
<line x1="223.30" y1="557.30" x2="223.30" y2="560.30" stroke="#262626" stroke-width="1.0"/>
<text transform="translate(226.45,561.60) rotate(-90)" font-size="8.8" fill="#363636" text-anchor="end">15min</text>
<line x1="252.50" y1="557.30" x2="252.50" y2="560.30" stroke="#262626" stroke-width="1.0"/>
<text transform="translate(255.65,561.60) rotate(-90)" font-size="8.8" fill="#363636" text-anchor="end">45min</text>
<line x1="281.70" y1="557.30" x2="281.70" y2="560.30" stroke="#262626" stroke-width="1.0"/>
<text transform="translate(284.85,561.60) rotate(-90)" font-size="8.8" fill="#363636" text-anchor="end">3h</text>
<text x="179.70" y="506.25" font-size="8.8" fill="#1a1a1a" text-anchor="start">ARS q=4e−02</text>
<text x="179.70" y="517.55" font-size="8.8" fill="#1a1a1a" text-anchor="start">CRS q=8e−02</text>
<polyline points="194.10,551.70 223.30,549.20 252.50,539.30 281.70,550.00" fill="none" stroke="#c0c0c0" stroke-width="2.3" stroke-linejoin="round"/>
<polyline points="194.10,548.40 223.30,551.10 252.50,548.80 281.70,547.90" fill="none" stroke="#7461f8" stroke-width="2.3" stroke-linejoin="round"/>
<line x1="188.63" y1="550.65" x2="188.63" y2="550.65" stroke="#333333" stroke-width="0.9"/>
<line x1="188.63" y1="552.75" x2="188.63" y2="552.75" stroke="#333333" stroke-width="0.9"/>
<rect x="183.58" y="550.65" width="10.10" height="2.10" fill="#bebebe" stroke="#333333" stroke-width="0.9"/>
<line x1="183.58" y1="551.70" x2="193.68" y2="551.70" stroke="#333333" stroke-width="1.7"/>
<line x1="199.58" y1="544.10" x2="199.58" y2="546.40" stroke="#333333" stroke-width="0.9"/>
<line x1="199.58" y1="550.70" x2="199.58" y2="552.20" stroke="#333333" stroke-width="0.9"/>
<rect x="194.53" y="546.40" width="10.10" height="4.30" fill="#7864f8" stroke="#333333" stroke-width="0.9"/>
<line x1="194.53" y1="548.40" x2="204.62" y2="548.40" stroke="#333333" stroke-width="1.7"/>
<line x1="217.83" y1="542.60" x2="217.83" y2="546.90" stroke="#333333" stroke-width="0.9"/>
<line x1="217.83" y1="551.70" x2="217.83" y2="552.50" stroke="#333333" stroke-width="0.9"/>
<rect x="212.78" y="546.90" width="10.10" height="4.80" fill="#bebebe" stroke="#333333" stroke-width="0.9"/>
<line x1="212.78" y1="549.20" x2="222.88" y2="549.20" stroke="#333333" stroke-width="1.7"/>
<line x1="228.78" y1="550.05" x2="228.78" y2="550.05" stroke="#333333" stroke-width="0.9"/>
<line x1="228.78" y1="552.15" x2="228.78" y2="552.15" stroke="#333333" stroke-width="0.9"/>
<rect x="223.72" y="550.05" width="10.10" height="2.10" fill="#7864f8" stroke="#333333" stroke-width="0.9"/>
<line x1="223.72" y1="551.10" x2="233.82" y2="551.10" stroke="#333333" stroke-width="1.7"/>
<line x1="247.03" y1="534.00" x2="247.03" y2="536.50" stroke="#333333" stroke-width="0.9"/>
<line x1="247.03" y1="542.20" x2="247.03" y2="543.50" stroke="#333333" stroke-width="0.9"/>
<rect x="241.98" y="536.50" width="10.10" height="5.70" fill="#bebebe" stroke="#333333" stroke-width="0.9"/>
<line x1="241.98" y1="539.30" x2="252.08" y2="539.30" stroke="#333333" stroke-width="1.7"/>
<line x1="257.98" y1="545.50" x2="257.98" y2="546.90" stroke="#333333" stroke-width="0.9"/>
<line x1="257.98" y1="550.70" x2="257.98" y2="551.50" stroke="#333333" stroke-width="0.9"/>
<rect x="252.93" y="546.90" width="10.10" height="3.80" fill="#7864f8" stroke="#333333" stroke-width="0.9"/>
<line x1="252.93" y1="548.80" x2="263.03" y2="548.80" stroke="#333333" stroke-width="1.7"/>
<line x1="276.23" y1="545.00" x2="276.23" y2="548.80" stroke="#333333" stroke-width="0.9"/>
<line x1="276.23" y1="553.60" x2="276.23" y2="554.00" stroke="#333333" stroke-width="0.9"/>
<rect x="271.18" y="548.80" width="10.10" height="4.80" fill="#bebebe" stroke="#333333" stroke-width="0.9"/>
<line x1="271.18" y1="551.10" x2="281.28" y2="551.10" stroke="#333333" stroke-width="1.7"/>
<line x1="287.18" y1="545.00" x2="287.18" y2="546.40" stroke="#333333" stroke-width="0.9"/>
<line x1="287.18" y1="550.70" x2="287.18" y2="551.50" stroke="#333333" stroke-width="0.9"/>
<rect x="282.13" y="546.40" width="10.10" height="4.30" fill="#7864f8" stroke="#333333" stroke-width="0.9"/>
<line x1="282.13" y1="547.90" x2="292.23" y2="547.90" stroke="#333333" stroke-width="1.7"/>
<text x="363.50" y="487.07" font-size="9.4" fill="#1a1a1a" text-anchor="middle">InhN.Sst</text>
<line x1="304.90" y1="557.30" x2="427.50" y2="557.30" stroke="#262626" stroke-width="1.15"/>
<line x1="322.20" y1="557.30" x2="322.20" y2="560.30" stroke="#262626" stroke-width="1.0"/>
<text transform="translate(325.35,561.60) rotate(-90)" font-size="8.8" fill="#363636" text-anchor="end">Control</text>
<line x1="351.40" y1="557.30" x2="351.40" y2="560.30" stroke="#262626" stroke-width="1.0"/>
<text transform="translate(354.55,561.60) rotate(-90)" font-size="8.8" fill="#363636" text-anchor="end">15min</text>
<line x1="380.60" y1="557.30" x2="380.60" y2="560.30" stroke="#262626" stroke-width="1.0"/>
<text transform="translate(383.75,561.60) rotate(-90)" font-size="8.8" fill="#363636" text-anchor="end">45min</text>
<line x1="409.80" y1="557.30" x2="409.80" y2="560.30" stroke="#262626" stroke-width="1.0"/>
<text transform="translate(412.95,561.60) rotate(-90)" font-size="8.8" fill="#363636" text-anchor="end">3h</text>
<text x="307.80" y="506.25" font-size="8.8" fill="#1a1a1a" text-anchor="start">ARS q=2e−01</text>
<text x="307.80" y="517.55" font-size="8.8" fill="#1a1a1a" text-anchor="start">CRS q=5e−01</text>
<polyline points="322.20,550.30 351.40,548.80 380.60,542.20 409.80,548.00" fill="none" stroke="#c0c0c0" stroke-width="2.3" stroke-linejoin="round"/>
<polyline points="322.20,548.00 351.40,548.30 380.60,547.00 409.80,549.40" fill="none" stroke="#7461f8" stroke-width="2.3" stroke-linejoin="round"/>
<line x1="316.72" y1="549.00" x2="316.72" y2="549.40" stroke="#333333" stroke-width="0.9"/>
<line x1="316.72" y1="551.30" x2="316.72" y2="551.80" stroke="#333333" stroke-width="0.9"/>
<rect x="311.67" y="549.40" width="10.10" height="1.90" fill="#bebebe" stroke="#333333" stroke-width="0.9"/>
<line x1="311.67" y1="550.30" x2="321.77" y2="550.30" stroke="#333333" stroke-width="1.7"/>
<line x1="327.68" y1="545.00" x2="327.68" y2="546.50" stroke="#333333" stroke-width="0.9"/>
<line x1="327.68" y1="551.10" x2="327.68" y2="552.00" stroke="#333333" stroke-width="0.9"/>
<rect x="322.62" y="546.50" width="10.10" height="4.60" fill="#7864f8" stroke="#333333" stroke-width="0.9"/>
<line x1="322.62" y1="547.90" x2="332.73" y2="547.90" stroke="#333333" stroke-width="1.7"/>
<line x1="345.92" y1="546.50" x2="345.92" y2="547.30" stroke="#333333" stroke-width="0.9"/>
<line x1="345.92" y1="550.30" x2="345.92" y2="551.00" stroke="#333333" stroke-width="0.9"/>
<rect x="340.87" y="547.30" width="10.10" height="3.00" fill="#bebebe" stroke="#333333" stroke-width="0.9"/>
<line x1="340.87" y1="548.80" x2="350.97" y2="548.80" stroke="#333333" stroke-width="1.7"/>
<line x1="356.88" y1="547.25" x2="356.88" y2="547.25" stroke="#333333" stroke-width="0.9"/>
<line x1="356.88" y1="549.35" x2="356.88" y2="549.35" stroke="#333333" stroke-width="0.9"/>
<rect x="351.82" y="547.25" width="10.10" height="2.10" fill="#7864f8" stroke="#333333" stroke-width="0.9"/>
<line x1="351.82" y1="548.30" x2="361.93" y2="548.30" stroke="#333333" stroke-width="1.7"/>
<line x1="375.12" y1="538.40" x2="375.12" y2="540.30" stroke="#333333" stroke-width="0.9"/>
<line x1="375.12" y1="544.10" x2="375.12" y2="545.60" stroke="#333333" stroke-width="0.9"/>
<rect x="370.07" y="540.30" width="10.10" height="3.80" fill="#bebebe" stroke="#333333" stroke-width="0.9"/>
<line x1="370.07" y1="542.20" x2="380.17" y2="542.20" stroke="#333333" stroke-width="1.7"/>
<line x1="386.07" y1="545.50" x2="386.07" y2="546.00" stroke="#333333" stroke-width="0.9"/>
<line x1="386.07" y1="548.30" x2="386.07" y2="549.00" stroke="#333333" stroke-width="0.9"/>
<rect x="381.02" y="546.00" width="10.10" height="2.30" fill="#7864f8" stroke="#333333" stroke-width="0.9"/>
<line x1="381.02" y1="547.00" x2="391.12" y2="547.00" stroke="#333333" stroke-width="1.7"/>
<line x1="404.32" y1="540.90" x2="404.32" y2="546.40" stroke="#333333" stroke-width="0.9"/>
<line x1="404.32" y1="552.00" x2="404.32" y2="552.50" stroke="#333333" stroke-width="0.9"/>
<rect x="399.27" y="546.40" width="10.10" height="5.60" fill="#bebebe" stroke="#333333" stroke-width="0.9"/>
<line x1="399.27" y1="549.20" x2="409.37" y2="549.20" stroke="#333333" stroke-width="1.7"/>
<line x1="415.27" y1="547.00" x2="415.27" y2="548.40" stroke="#333333" stroke-width="0.9"/>
<line x1="415.27" y1="551.10" x2="415.27" y2="551.50" stroke="#333333" stroke-width="0.9"/>
<rect x="410.22" y="548.40" width="10.10" height="2.70" fill="#7864f8" stroke="#333333" stroke-width="0.9"/>
<line x1="410.22" y1="549.40" x2="420.32" y2="549.40" stroke="#333333" stroke-width="1.7"/>
<text x="491.60" y="487.07" font-size="9.4" fill="#1a1a1a" text-anchor="middle">InhN.Vip</text>
<line x1="433.00" y1="557.30" x2="555.60" y2="557.30" stroke="#262626" stroke-width="1.15"/>
<line x1="450.30" y1="557.30" x2="450.30" y2="560.30" stroke="#262626" stroke-width="1.0"/>
<text transform="translate(453.45,561.60) rotate(-90)" font-size="8.8" fill="#363636" text-anchor="end">Control</text>
<line x1="479.50" y1="557.30" x2="479.50" y2="560.30" stroke="#262626" stroke-width="1.0"/>
<text transform="translate(482.65,561.60) rotate(-90)" font-size="8.8" fill="#363636" text-anchor="end">15min</text>
<line x1="508.70" y1="557.30" x2="508.70" y2="560.30" stroke="#262626" stroke-width="1.0"/>
<text transform="translate(511.85,561.60) rotate(-90)" font-size="8.8" fill="#363636" text-anchor="end">45min</text>
<line x1="537.90" y1="557.30" x2="537.90" y2="560.30" stroke="#262626" stroke-width="1.0"/>
<text transform="translate(541.05,561.60) rotate(-90)" font-size="8.8" fill="#363636" text-anchor="end">3h</text>
<text x="435.90" y="506.25" font-size="8.8" fill="#1a1a1a" text-anchor="start">ARS q=5e−06</text>
<text x="435.90" y="517.55" font-size="8.8" fill="#1a1a1a" text-anchor="start">CRS q=5e−04</text>
<polyline points="450.30,552.20 479.50,529.00 508.70,518.50 537.90,550.00" fill="none" stroke="#c0c0c0" stroke-width="2.3" stroke-linejoin="round"/>
<polyline points="450.30,551.00 479.50,539.00 508.70,545.00 537.90,550.70" fill="none" stroke="#7461f8" stroke-width="2.3" stroke-linejoin="round"/>
<line x1="444.82" y1="551.15" x2="444.82" y2="551.15" stroke="#333333" stroke-width="0.9"/>
<line x1="444.82" y1="553.25" x2="444.82" y2="553.25" stroke="#333333" stroke-width="0.9"/>
<rect x="439.77" y="551.15" width="10.10" height="2.10" fill="#bebebe" stroke="#333333" stroke-width="0.9"/>
<line x1="439.77" y1="552.20" x2="449.87" y2="552.20" stroke="#333333" stroke-width="1.7"/>
<line x1="455.77" y1="549.00" x2="455.77" y2="549.80" stroke="#333333" stroke-width="0.9"/>
<line x1="455.77" y1="552.20" x2="455.77" y2="553.00" stroke="#333333" stroke-width="0.9"/>
<rect x="450.72" y="549.80" width="10.10" height="2.40" fill="#7864f8" stroke="#333333" stroke-width="0.9"/>
<line x1="450.72" y1="551.00" x2="460.82" y2="551.00" stroke="#333333" stroke-width="1.7"/>
<line x1="474.02" y1="516.60" x2="474.02" y2="524.50" stroke="#333333" stroke-width="0.9"/>
<line x1="474.02" y1="536.50" x2="474.02" y2="539.00" stroke="#333333" stroke-width="0.9"/>
<rect x="468.97" y="524.50" width="10.10" height="12.00" fill="#bebebe" stroke="#333333" stroke-width="0.9"/>
<line x1="468.97" y1="534.00" x2="479.07" y2="534.00" stroke="#333333" stroke-width="1.7"/>
<line x1="484.97" y1="535.00" x2="484.97" y2="536.10" stroke="#333333" stroke-width="0.9"/>
<line x1="484.97" y1="541.20" x2="484.97" y2="545.40" stroke="#333333" stroke-width="0.9"/>
<rect x="479.92" y="536.10" width="10.10" height="5.10" fill="#7864f8" stroke="#333333" stroke-width="0.9"/>
<line x1="479.92" y1="539.00" x2="490.02" y2="539.00" stroke="#333333" stroke-width="1.7"/>
<line x1="503.22" y1="514.30" x2="503.22" y2="516.20" stroke="#333333" stroke-width="0.9"/>
<line x1="503.22" y1="520.40" x2="503.22" y2="521.90" stroke="#333333" stroke-width="0.9"/>
<rect x="498.17" y="516.20" width="10.10" height="4.20" fill="#bebebe" stroke="#333333" stroke-width="0.9"/>
<line x1="498.17" y1="518.50" x2="508.27" y2="518.50" stroke="#333333" stroke-width="1.7"/>
<line x1="514.17" y1="539.70" x2="514.17" y2="542.60" stroke="#333333" stroke-width="0.9"/>
<line x1="514.17" y1="547.30" x2="514.17" y2="549.20" stroke="#333333" stroke-width="0.9"/>
<rect x="509.12" y="542.60" width="10.10" height="4.70" fill="#7864f8" stroke="#333333" stroke-width="0.9"/>
<line x1="509.12" y1="545.00" x2="519.22" y2="545.00" stroke="#333333" stroke-width="1.7"/>
<line x1="532.42" y1="548.50" x2="532.42" y2="549.20" stroke="#333333" stroke-width="0.9"/>
<line x1="532.42" y1="551.70" x2="532.42" y2="552.50" stroke="#333333" stroke-width="0.9"/>
<rect x="527.38" y="549.20" width="10.10" height="2.50" fill="#bebebe" stroke="#333333" stroke-width="0.9"/>
<line x1="527.38" y1="550.30" x2="537.48" y2="550.30" stroke="#333333" stroke-width="1.7"/>
<line x1="543.38" y1="548.50" x2="543.38" y2="549.40" stroke="#333333" stroke-width="0.9"/>
<line x1="543.38" y1="552.60" x2="543.38" y2="553.50" stroke="#333333" stroke-width="0.9"/>
<rect x="538.33" y="549.40" width="10.10" height="3.20" fill="#7864f8" stroke="#333333" stroke-width="0.9"/>
<line x1="538.33" y1="550.70" x2="548.43" y2="550.70" stroke="#333333" stroke-width="1.7"/>
<text transform="translate(27.47,406.8) rotate(-90)" font-size="9.4" fill="#1a1a1a" text-anchor="middle">Proportion activated (ADT&gt;0.5)</text>
<text x="594.60" y="512.65" font-size="8.8" fill="#1a1a1a" text-anchor="start">Treatment</text>
<line x1="602.95" y1="519.30" x2="602.95" y2="521.60" stroke="#333333" stroke-width="0.9"/>
<line x1="602.95" y1="532.20" x2="602.95" y2="534.50" stroke="#333333" stroke-width="0.9"/>
<rect x="596.20" y="521.60" width="13.50" height="10.60" fill="#bebebe" stroke="#333333" stroke-width="0.9"/>
<line x1="596.20" y1="526.90" x2="609.70" y2="526.90" stroke="#333333" stroke-width="1.7"/>
<text x="617.00" y="530.45" font-size="8.8" fill="#1a1a1a" text-anchor="start">Handling +ARS</text>
<line x1="602.95" y1="535.70" x2="602.95" y2="538.00" stroke="#333333" stroke-width="0.9"/>
<line x1="602.95" y1="548.60" x2="602.95" y2="550.90" stroke="#333333" stroke-width="0.9"/>
<rect x="596.20" y="538.00" width="13.50" height="10.60" fill="#7864f8" stroke="#333333" stroke-width="0.9"/>
<line x1="596.20" y1="543.30" x2="609.70" y2="543.30" stroke="#333333" stroke-width="1.7"/>
<text x="617.00" y="546.65" font-size="8.8" fill="#1a1a1a" text-anchor="start">CRS +ARS</text>
<text x="435.40" y="623.90" font-size="9.5" fill="#1a1a1a" text-anchor="middle">microglia</text>
<line x1="391.40" y1="628.80" x2="391.40" y2="690.30" stroke="#262626" stroke-width="1.15"/>
<line x1="388.40" y1="687.30" x2="391.40" y2="687.30" stroke="#262626" stroke-width="1.0"/>
<text x="387.80" y="690.45" font-size="8.8" fill="#363636" text-anchor="end">0.0</text>
<line x1="388.40" y1="672.54" x2="391.40" y2="672.54" stroke="#262626" stroke-width="1.0"/>
<text x="387.80" y="675.69" font-size="8.8" fill="#363636" text-anchor="end">0.2</text>
<line x1="388.40" y1="657.78" x2="391.40" y2="657.78" stroke="#262626" stroke-width="1.0"/>
<text x="387.80" y="660.93" font-size="8.8" fill="#363636" text-anchor="end">0.4</text>
<line x1="388.40" y1="643.02" x2="391.40" y2="643.02" stroke="#262626" stroke-width="1.0"/>
<text x="387.80" y="646.17" font-size="8.8" fill="#363636" text-anchor="end">0.6</text>
<line x1="391.40" y1="690.30" x2="483.40" y2="690.30" stroke="#262626" stroke-width="1.15"/>
<line x1="404.20" y1="690.30" x2="404.20" y2="693.30" stroke="#262626" stroke-width="1.0"/>
<text transform="translate(407.35,694.60) rotate(-90)" font-size="8.8" fill="#363636" text-anchor="end">Control</text>
<line x1="426.20" y1="690.30" x2="426.20" y2="693.30" stroke="#262626" stroke-width="1.0"/>
<text transform="translate(429.35,694.60) rotate(-90)" font-size="8.8" fill="#363636" text-anchor="end">15min</text>
<line x1="448.30" y1="690.30" x2="448.30" y2="693.30" stroke="#262626" stroke-width="1.0"/>
<text transform="translate(451.45,694.60) rotate(-90)" font-size="8.8" fill="#363636" text-anchor="end">45min</text>
<line x1="470.40" y1="690.30" x2="470.40" y2="693.30" stroke="#262626" stroke-width="1.0"/>
<text transform="translate(473.55,694.60) rotate(-90)" font-size="8.8" fill="#363636" text-anchor="end">3h</text>
<text x="393.90" y="638.45" font-size="8.8" fill="#1a1a1a" text-anchor="start">ARS q=2e−09</text>
<text x="393.90" y="648.25" font-size="8.8" fill="#1a1a1a" text-anchor="start">CRS q=5e−05</text>
<polyline points="404.20,684.80 426.20,679.80 448.30,652.50 470.40,664.60" fill="none" stroke="#c0c0c0" stroke-width="2.4" stroke-linejoin="round"/>
<polyline points="404.20,684.50 426.20,684.00 448.30,662.00 470.40,682.20" fill="none" stroke="#7461f8" stroke-width="2.4" stroke-linejoin="round"/>
<line x1="400.05" y1="684.35" x2="400.05" y2="684.35" stroke="#333333" stroke-width="0.9"/>
<line x1="400.05" y1="685.25" x2="400.05" y2="685.25" stroke="#333333" stroke-width="0.9"/>
<rect x="396.35" y="684.35" width="7.40" height="0.90" fill="#bebebe" stroke="#333333" stroke-width="0.9"/>
<line x1="396.35" y1="684.80" x2="403.75" y2="684.80" stroke="#333333" stroke-width="1.7"/>
<line x1="408.35" y1="684.05" x2="408.35" y2="684.05" stroke="#333333" stroke-width="0.9"/>
<line x1="408.35" y1="684.95" x2="408.35" y2="684.95" stroke="#333333" stroke-width="0.9"/>
<rect x="404.65" y="684.05" width="7.40" height="0.90" fill="#7864f8" stroke="#333333" stroke-width="0.9"/>
<line x1="404.65" y1="684.50" x2="412.05" y2="684.50" stroke="#333333" stroke-width="1.7"/>
<line x1="422.05" y1="677.10" x2="422.05" y2="678.40" stroke="#333333" stroke-width="0.9"/>
<line x1="422.05" y1="681.40" x2="422.05" y2="683.00" stroke="#333333" stroke-width="0.9"/>
<rect x="418.35" y="678.40" width="7.40" height="3.00" fill="#bebebe" stroke="#333333" stroke-width="0.9"/>
<line x1="418.35" y1="679.80" x2="425.75" y2="679.80" stroke="#333333" stroke-width="1.7"/>
<line x1="430.35" y1="683.55" x2="430.35" y2="683.55" stroke="#333333" stroke-width="0.9"/>
<line x1="430.35" y1="684.45" x2="430.35" y2="684.45" stroke="#333333" stroke-width="0.9"/>
<rect x="426.65" y="683.55" width="7.40" height="0.90" fill="#7864f8" stroke="#333333" stroke-width="0.9"/>
<line x1="426.65" y1="684.00" x2="434.05" y2="684.00" stroke="#333333" stroke-width="1.7"/>
<line x1="444.15" y1="650.30" x2="444.15" y2="651.40" stroke="#333333" stroke-width="0.9"/>
<line x1="444.15" y1="653.70" x2="444.15" y2="654.50" stroke="#333333" stroke-width="0.9"/>
<rect x="440.45" y="651.40" width="7.40" height="2.30" fill="#bebebe" stroke="#333333" stroke-width="0.9"/>
<line x1="440.45" y1="652.50" x2="447.85" y2="652.50" stroke="#333333" stroke-width="1.7"/>
<line x1="452.45" y1="653.40" x2="452.45" y2="658.40" stroke="#333333" stroke-width="0.9"/>
<line x1="452.45" y1="668.70" x2="452.45" y2="673.80" stroke="#333333" stroke-width="0.9"/>
<rect x="448.75" y="658.40" width="7.40" height="10.30" fill="#7864f8" stroke="#333333" stroke-width="0.9"/>
<line x1="448.75" y1="663.30" x2="456.15" y2="663.30" stroke="#333333" stroke-width="1.7"/>
<line x1="466.25" y1="664.15" x2="466.25" y2="664.15" stroke="#333333" stroke-width="0.9"/>
<line x1="466.25" y1="665.05" x2="466.25" y2="665.05" stroke="#333333" stroke-width="0.9"/>
<rect x="462.55" y="664.15" width="7.40" height="0.90" fill="#bebebe" stroke="#333333" stroke-width="0.9"/>
<line x1="462.55" y1="664.60" x2="469.95" y2="664.60" stroke="#333333" stroke-width="1.7"/>
<line x1="474.55" y1="681.75" x2="474.55" y2="681.75" stroke="#333333" stroke-width="0.9"/>
<line x1="474.55" y1="682.65" x2="474.55" y2="682.65" stroke="#333333" stroke-width="0.9"/>
<rect x="470.85" y="681.75" width="7.40" height="0.90" fill="#7864f8" stroke="#333333" stroke-width="0.9"/>
<line x1="470.85" y1="682.20" x2="478.25" y2="682.20" stroke="#333333" stroke-width="1.7"/>
<text x="537.80" y="623.90" font-size="9.5" fill="#1a1a1a" text-anchor="middle">OPC</text>
<line x1="493.40" y1="690.30" x2="585.40" y2="690.30" stroke="#262626" stroke-width="1.15"/>
<line x1="506.10" y1="690.30" x2="506.10" y2="693.30" stroke="#262626" stroke-width="1.0"/>
<text transform="translate(509.25,694.60) rotate(-90)" font-size="8.8" fill="#363636" text-anchor="end">Control</text>
<line x1="528.20" y1="690.30" x2="528.20" y2="693.30" stroke="#262626" stroke-width="1.0"/>
<text transform="translate(531.35,694.60) rotate(-90)" font-size="8.8" fill="#363636" text-anchor="end">15min</text>
<line x1="550.10" y1="690.30" x2="550.10" y2="693.30" stroke="#262626" stroke-width="1.0"/>
<text transform="translate(553.25,694.60) rotate(-90)" font-size="8.8" fill="#363636" text-anchor="end">45min</text>
<line x1="572.00" y1="690.30" x2="572.00" y2="693.30" stroke="#262626" stroke-width="1.0"/>
<text transform="translate(575.15,694.60) rotate(-90)" font-size="8.8" fill="#363636" text-anchor="end">3h</text>
<text x="495.40" y="638.45" font-size="8.8" fill="#1a1a1a" text-anchor="start">ARS q=7e−04</text>
<text x="495.40" y="648.25" font-size="8.8" fill="#1a1a1a" text-anchor="start">CRS q=4e−02</text>
<polyline points="506.10,686.70 528.20,676.00 550.10,666.00 572.00,664.50" fill="none" stroke="#c0c0c0" stroke-width="2.4" stroke-linejoin="round"/>
<polyline points="506.10,681.30 528.20,682.50 550.10,665.60 572.00,678.80" fill="none" stroke="#7461f8" stroke-width="2.4" stroke-linejoin="round"/>
<line x1="501.95" y1="686.25" x2="501.95" y2="686.25" stroke="#333333" stroke-width="0.9"/>
<line x1="501.95" y1="687.15" x2="501.95" y2="687.15" stroke="#333333" stroke-width="0.9"/>
<rect x="498.25" y="686.25" width="7.40" height="0.90" fill="#bebebe" stroke="#333333" stroke-width="0.9"/>
<line x1="498.25" y1="686.70" x2="505.65" y2="686.70" stroke="#333333" stroke-width="1.7"/>
<line x1="510.25" y1="675.30" x2="510.25" y2="679.40" stroke="#333333" stroke-width="0.9"/>
<line x1="510.25" y1="684.00" x2="510.25" y2="684.80" stroke="#333333" stroke-width="0.9"/>
<rect x="506.55" y="679.40" width="7.40" height="4.60" fill="#7864f8" stroke="#333333" stroke-width="0.9"/>
<line x1="506.55" y1="681.30" x2="513.95" y2="681.30" stroke="#333333" stroke-width="1.7"/>
<line x1="524.05" y1="669.20" x2="524.05" y2="673.80" stroke="#333333" stroke-width="0.9"/>
<line x1="524.05" y1="680.20" x2="524.05" y2="681.40" stroke="#333333" stroke-width="0.9"/>
<rect x="520.35" y="673.80" width="7.40" height="6.40" fill="#bebebe" stroke="#333333" stroke-width="0.9"/>
<line x1="520.35" y1="677.50" x2="527.75" y2="677.50" stroke="#333333" stroke-width="1.7"/>
<line x1="532.35" y1="682.05" x2="532.35" y2="682.05" stroke="#333333" stroke-width="0.9"/>
<line x1="532.35" y1="682.95" x2="532.35" y2="682.95" stroke="#333333" stroke-width="0.9"/>
<rect x="528.65" y="682.05" width="7.40" height="0.90" fill="#7864f8" stroke="#333333" stroke-width="0.9"/>
<line x1="528.65" y1="682.50" x2="536.05" y2="682.50" stroke="#333333" stroke-width="1.7"/>
<line x1="545.95" y1="657.50" x2="545.95" y2="661.80" stroke="#333333" stroke-width="0.9"/>
<line x1="545.95" y1="671.80" x2="545.95" y2="676.40" stroke="#333333" stroke-width="0.9"/>
<rect x="542.25" y="661.80" width="7.40" height="10.00" fill="#bebebe" stroke="#333333" stroke-width="0.9"/>
<line x1="542.25" y1="666.70" x2="549.65" y2="666.70" stroke="#333333" stroke-width="1.7"/>
<line x1="554.25" y1="652.60" x2="554.25" y2="658.30" stroke="#333333" stroke-width="0.9"/>
<line x1="554.25" y1="671.80" x2="554.25" y2="678.70" stroke="#333333" stroke-width="0.9"/>
<rect x="550.55" y="658.30" width="7.40" height="13.50" fill="#7864f8" stroke="#333333" stroke-width="0.9"/>
<line x1="550.55" y1="665.60" x2="557.95" y2="665.60" stroke="#333333" stroke-width="1.7"/>
<line x1="567.85" y1="657.50" x2="567.85" y2="661.80" stroke="#333333" stroke-width="0.9"/>
<line x1="567.85" y1="666.10" x2="567.85" y2="667.00" stroke="#333333" stroke-width="0.9"/>
<rect x="564.15" y="661.80" width="7.40" height="4.30" fill="#bebebe" stroke="#333333" stroke-width="0.9"/>
<line x1="564.15" y1="664.10" x2="571.55" y2="664.10" stroke="#333333" stroke-width="1.7"/>
<line x1="576.15" y1="675.30" x2="576.15" y2="677.10" stroke="#333333" stroke-width="0.9"/>
<line x1="576.15" y1="680.50" x2="576.15" y2="682.50" stroke="#333333" stroke-width="0.9"/>
<rect x="572.45" y="677.10" width="7.40" height="3.40" fill="#7864f8" stroke="#333333" stroke-width="0.9"/>
<line x1="572.45" y1="678.80" x2="579.85" y2="678.80" stroke="#333333" stroke-width="1.7"/>
<text x="635.70" y="623.90" font-size="9.5" fill="#1a1a1a" text-anchor="middle">oligodendrocyte</text>
<line x1="593.20" y1="690.30" x2="685.20" y2="690.30" stroke="#262626" stroke-width="1.15"/>
<line x1="606.10" y1="690.30" x2="606.10" y2="693.30" stroke="#262626" stroke-width="1.0"/>
<text transform="translate(609.25,694.60) rotate(-90)" font-size="8.8" fill="#363636" text-anchor="end">Control</text>
<line x1="628.10" y1="690.30" x2="628.10" y2="693.30" stroke="#262626" stroke-width="1.0"/>
<text transform="translate(631.25,694.60) rotate(-90)" font-size="8.8" fill="#363636" text-anchor="end">15min</text>
<line x1="649.90" y1="690.30" x2="649.90" y2="693.30" stroke="#262626" stroke-width="1.0"/>
<text transform="translate(653.05,694.60) rotate(-90)" font-size="8.8" fill="#363636" text-anchor="end">45min</text>
<line x1="671.60" y1="690.30" x2="671.60" y2="693.30" stroke="#262626" stroke-width="1.0"/>
<text transform="translate(674.75,694.60) rotate(-90)" font-size="8.8" fill="#363636" text-anchor="end">3h</text>
<text x="594.30" y="638.45" font-size="8.8" fill="#1a1a1a" text-anchor="start">ARS q=5e−05</text>
<text x="594.30" y="648.25" font-size="8.8" fill="#1a1a1a" text-anchor="start">CRS q=2e−03</text>
<polyline points="606.10,685.90 628.10,674.00 649.90,648.00 671.60,639.20" fill="none" stroke="#c0c0c0" stroke-width="2.4" stroke-linejoin="round"/>
<polyline points="606.10,684.90 628.10,681.00 649.90,652.00 671.60,678.80" fill="none" stroke="#7461f8" stroke-width="2.4" stroke-linejoin="round"/>
<line x1="601.95" y1="685.45" x2="601.95" y2="685.45" stroke="#333333" stroke-width="0.9"/>
<line x1="601.95" y1="686.35" x2="601.95" y2="686.35" stroke="#333333" stroke-width="0.9"/>
<rect x="598.25" y="685.45" width="7.40" height="0.90" fill="#bebebe" stroke="#333333" stroke-width="0.9"/>
<line x1="598.25" y1="685.90" x2="605.65" y2="685.90" stroke="#333333" stroke-width="1.7"/>
<line x1="610.25" y1="684.45" x2="610.25" y2="684.45" stroke="#333333" stroke-width="0.9"/>
<line x1="610.25" y1="685.35" x2="610.25" y2="685.35" stroke="#333333" stroke-width="0.9"/>
<rect x="606.55" y="684.45" width="7.40" height="0.90" fill="#7864f8" stroke="#333333" stroke-width="0.9"/>
<line x1="606.55" y1="684.90" x2="613.95" y2="684.90" stroke="#333333" stroke-width="1.7"/>
<line x1="623.95" y1="661.10" x2="623.95" y2="666.50" stroke="#333333" stroke-width="0.9"/>
<line x1="623.95" y1="679.10" x2="623.95" y2="685.20" stroke="#333333" stroke-width="0.9"/>
<rect x="620.25" y="666.50" width="7.40" height="12.60" fill="#bebebe" stroke="#333333" stroke-width="0.9"/>
<line x1="620.25" y1="672.70" x2="627.65" y2="672.70" stroke="#333333" stroke-width="1.7"/>
<line x1="632.25" y1="672.50" x2="632.25" y2="678.50" stroke="#333333" stroke-width="0.9"/>
<line x1="632.25" y1="685.60" x2="632.25" y2="686.00" stroke="#333333" stroke-width="0.9"/>
<rect x="628.55" y="678.50" width="7.40" height="7.10" fill="#7864f8" stroke="#333333" stroke-width="0.9"/>
<line x1="628.55" y1="684.50" x2="635.95" y2="684.50" stroke="#333333" stroke-width="1.7"/>
<line x1="645.75" y1="635.60" x2="645.75" y2="641.30" stroke="#333333" stroke-width="0.9"/>
<line x1="645.75" y1="653.30" x2="645.75" y2="659.00" stroke="#333333" stroke-width="0.9"/>
<rect x="642.05" y="641.30" width="7.40" height="12.00" fill="#bebebe" stroke="#333333" stroke-width="0.9"/>
<line x1="642.05" y1="647.70" x2="649.45" y2="647.70" stroke="#333333" stroke-width="1.7"/>
<line x1="654.05" y1="631.40" x2="654.05" y2="641.70" stroke="#333333" stroke-width="0.9"/>
<line x1="654.05" y1="665.80" x2="654.05" y2="678.80" stroke="#333333" stroke-width="0.9"/>
<rect x="650.35" y="641.70" width="7.40" height="24.10" fill="#7864f8" stroke="#333333" stroke-width="0.9"/>
<line x1="650.35" y1="651.60" x2="657.75" y2="651.60" stroke="#333333" stroke-width="1.7"/>
<line x1="667.45" y1="636.00" x2="667.45" y2="637.50" stroke="#333333" stroke-width="0.9"/>
<line x1="667.45" y1="642.30" x2="667.45" y2="644.80" stroke="#333333" stroke-width="0.9"/>
<rect x="663.75" y="637.50" width="7.40" height="4.80" fill="#bebebe" stroke="#333333" stroke-width="0.9"/>
<line x1="663.75" y1="639.20" x2="671.15" y2="639.20" stroke="#333333" stroke-width="1.7"/>
<line x1="675.75" y1="678.35" x2="675.75" y2="678.35" stroke="#333333" stroke-width="0.9"/>
<line x1="675.75" y1="679.25" x2="675.75" y2="679.25" stroke="#333333" stroke-width="0.9"/>
<rect x="672.05" y="678.35" width="7.40" height="0.90" fill="#7864f8" stroke="#333333" stroke-width="0.9"/>
<line x1="672.05" y1="678.80" x2="679.45" y2="678.80" stroke="#333333" stroke-width="1.7"/>
<text x="435.40" y="741.40" font-size="9.5" fill="#1a1a1a" text-anchor="middle">astrocytes</text>
<line x1="391.40" y1="746.50" x2="391.40" y2="808.00" stroke="#262626" stroke-width="1.15"/>
<line x1="388.40" y1="805.00" x2="391.40" y2="805.00" stroke="#262626" stroke-width="1.0"/>
<text x="387.80" y="808.15" font-size="8.8" fill="#363636" text-anchor="end">0.0</text>
<line x1="388.40" y1="790.24" x2="391.40" y2="790.24" stroke="#262626" stroke-width="1.0"/>
<text x="387.80" y="793.39" font-size="8.8" fill="#363636" text-anchor="end">0.2</text>
<line x1="388.40" y1="775.48" x2="391.40" y2="775.48" stroke="#262626" stroke-width="1.0"/>
<text x="387.80" y="778.63" font-size="8.8" fill="#363636" text-anchor="end">0.4</text>
<line x1="388.40" y1="760.72" x2="391.40" y2="760.72" stroke="#262626" stroke-width="1.0"/>
<text x="387.80" y="763.87" font-size="8.8" fill="#363636" text-anchor="end">0.6</text>
<line x1="391.40" y1="808.00" x2="483.40" y2="808.00" stroke="#262626" stroke-width="1.15"/>
<line x1="404.20" y1="808.00" x2="404.20" y2="811.00" stroke="#262626" stroke-width="1.0"/>
<text transform="translate(407.35,812.30) rotate(-90)" font-size="8.8" fill="#363636" text-anchor="end">Control</text>
<line x1="426.20" y1="808.00" x2="426.20" y2="811.00" stroke="#262626" stroke-width="1.0"/>
<text transform="translate(429.35,812.30) rotate(-90)" font-size="8.8" fill="#363636" text-anchor="end">15min</text>
<line x1="448.30" y1="808.00" x2="448.30" y2="811.00" stroke="#262626" stroke-width="1.0"/>
<text transform="translate(451.45,812.30) rotate(-90)" font-size="8.8" fill="#363636" text-anchor="end">45min</text>
<line x1="470.40" y1="808.00" x2="470.40" y2="811.00" stroke="#262626" stroke-width="1.0"/>
<text transform="translate(473.55,812.30) rotate(-90)" font-size="8.8" fill="#363636" text-anchor="end">3h</text>
<text x="392.60" y="756.15" font-size="8.8" fill="#1a1a1a" text-anchor="start">ARS q=6e−04</text>
<text x="392.60" y="765.95" font-size="8.8" fill="#1a1a1a" text-anchor="start">CRS q=2e−02</text>
<polyline points="404.20,802.80 426.20,797.00 448.30,768.00 470.40,764.00" fill="none" stroke="#c0c0c0" stroke-width="2.4" stroke-linejoin="round"/>
<polyline points="404.20,798.40 426.20,799.00 448.30,785.00 470.40,793.00" fill="none" stroke="#7461f8" stroke-width="2.4" stroke-linejoin="round"/>
<line x1="400.05" y1="800.00" x2="400.05" y2="801.50" stroke="#333333" stroke-width="0.9"/>
<line x1="400.05" y1="804.40" x2="400.05" y2="805.00" stroke="#333333" stroke-width="0.9"/>
<rect x="396.35" y="801.50" width="7.40" height="2.90" fill="#bebebe" stroke="#333333" stroke-width="0.9"/>
<line x1="396.35" y1="802.80" x2="403.75" y2="802.80" stroke="#333333" stroke-width="1.7"/>
<line x1="408.35" y1="794.10" x2="408.35" y2="796.00" stroke="#333333" stroke-width="0.9"/>
<line x1="408.35" y1="800.60" x2="408.35" y2="801.50" stroke="#333333" stroke-width="0.9"/>
<rect x="404.65" y="796.00" width="7.40" height="4.60" fill="#7864f8" stroke="#333333" stroke-width="0.9"/>
<line x1="404.65" y1="798.40" x2="412.05" y2="798.40" stroke="#333333" stroke-width="1.7"/>
<line x1="422.05" y1="791.40" x2="422.05" y2="794.50" stroke="#333333" stroke-width="0.9"/>
<line x1="422.05" y1="798.00" x2="422.05" y2="799.00" stroke="#333333" stroke-width="0.9"/>
<rect x="418.35" y="794.50" width="7.40" height="3.50" fill="#bebebe" stroke="#333333" stroke-width="0.9"/>
<line x1="418.35" y1="796.40" x2="425.75" y2="796.40" stroke="#333333" stroke-width="1.7"/>
<line x1="430.35" y1="794.10" x2="430.35" y2="796.90" stroke="#333333" stroke-width="0.9"/>
<line x1="430.35" y1="801.50" x2="430.35" y2="802.60" stroke="#333333" stroke-width="0.9"/>
<rect x="426.65" y="796.90" width="7.40" height="4.60" fill="#7864f8" stroke="#333333" stroke-width="0.9"/>
<line x1="426.65" y1="799.50" x2="434.05" y2="799.50" stroke="#333333" stroke-width="1.7"/>
<line x1="444.15" y1="754.60" x2="444.15" y2="760.70" stroke="#333333" stroke-width="0.9"/>
<line x1="444.15" y1="774.50" x2="444.15" y2="780.30" stroke="#333333" stroke-width="0.9"/>
<rect x="440.45" y="760.70" width="7.40" height="13.80" fill="#bebebe" stroke="#333333" stroke-width="0.9"/>
<line x1="440.45" y1="767.80" x2="447.85" y2="767.80" stroke="#333333" stroke-width="1.7"/>
<line x1="452.45" y1="769.30" x2="452.45" y2="776.50" stroke="#333333" stroke-width="0.9"/>
<line x1="452.45" y1="791.80" x2="452.45" y2="798.70" stroke="#333333" stroke-width="0.9"/>
<rect x="448.75" y="776.50" width="7.40" height="15.30" fill="#7864f8" stroke="#333333" stroke-width="0.9"/>
<line x1="448.75" y1="784.50" x2="456.15" y2="784.50" stroke="#333333" stroke-width="1.7"/>
<line x1="466.25" y1="750.40" x2="466.25" y2="756.10" stroke="#333333" stroke-width="0.9"/>
<line x1="466.25" y1="772.70" x2="466.25" y2="782.60" stroke="#333333" stroke-width="0.9"/>
<rect x="462.55" y="756.10" width="7.40" height="16.60" fill="#bebebe" stroke="#333333" stroke-width="0.9"/>
<line x1="462.55" y1="761.60" x2="469.95" y2="761.60" stroke="#333333" stroke-width="1.7"/>
<line x1="474.55" y1="777.60" x2="474.55" y2="786.50" stroke="#333333" stroke-width="0.9"/>
<line x1="474.55" y1="799.50" x2="474.55" y2="801.80" stroke="#333333" stroke-width="0.9"/>
<rect x="470.85" y="786.50" width="7.40" height="13.00" fill="#7864f8" stroke="#333333" stroke-width="0.9"/>
<line x1="470.85" y1="796.00" x2="478.25" y2="796.00" stroke="#333333" stroke-width="1.7"/>
<text x="537.50" y="741.40" font-size="9.5" fill="#1a1a1a" text-anchor="middle">vascular</text>
<line x1="493.40" y1="808.00" x2="585.40" y2="808.00" stroke="#262626" stroke-width="1.15"/>
<line x1="506.10" y1="808.00" x2="506.10" y2="811.00" stroke="#262626" stroke-width="1.0"/>
<text transform="translate(509.25,812.30) rotate(-90)" font-size="8.8" fill="#363636" text-anchor="end">Control</text>
<line x1="528.20" y1="808.00" x2="528.20" y2="811.00" stroke="#262626" stroke-width="1.0"/>
<text transform="translate(531.35,812.30) rotate(-90)" font-size="8.8" fill="#363636" text-anchor="end">15min</text>
<line x1="550.10" y1="808.00" x2="550.10" y2="811.00" stroke="#262626" stroke-width="1.0"/>
<text transform="translate(553.25,812.30) rotate(-90)" font-size="8.8" fill="#363636" text-anchor="end">45min</text>
<line x1="572.00" y1="808.00" x2="572.00" y2="811.00" stroke="#262626" stroke-width="1.0"/>
<text transform="translate(575.15,812.30) rotate(-90)" font-size="8.8" fill="#363636" text-anchor="end">3h</text>
<text x="495.40" y="756.15" font-size="8.8" fill="#1a1a1a" text-anchor="start">ARS q=7e−03</text>
<text x="495.40" y="765.95" font-size="8.8" fill="#1a1a1a" text-anchor="start">CRS q=5e−01</text>
<polyline points="506.10,805.00 528.20,787.00 550.10,789.20 572.00,787.20" fill="none" stroke="#c0c0c0" stroke-width="2.4" stroke-linejoin="round"/>
<polyline points="506.10,796.00 528.20,790.80 550.10,790.50 572.00,790.50" fill="none" stroke="#7461f8" stroke-width="2.4" stroke-linejoin="round"/>
<line x1="501.95" y1="794.50" x2="501.95" y2="800.00" stroke="#333333" stroke-width="0.9"/>
<line x1="501.95" y1="805.20" x2="501.95" y2="805.50" stroke="#333333" stroke-width="0.9"/>
<rect x="498.25" y="800.00" width="7.40" height="5.20" fill="#bebebe" stroke="#333333" stroke-width="0.9"/>
<line x1="498.25" y1="804.60" x2="505.65" y2="804.60" stroke="#333333" stroke-width="1.7"/>
<line x1="510.25" y1="795.55" x2="510.25" y2="795.55" stroke="#333333" stroke-width="0.9"/>
<line x1="510.25" y1="796.45" x2="510.25" y2="796.45" stroke="#333333" stroke-width="0.9"/>
<rect x="506.55" y="795.55" width="7.40" height="0.90" fill="#7864f8" stroke="#333333" stroke-width="0.9"/>
<line x1="506.55" y1="796.00" x2="513.95" y2="796.00" stroke="#333333" stroke-width="1.7"/>
<line x1="524.05" y1="778.80" x2="524.05" y2="783.10" stroke="#333333" stroke-width="0.9"/>
<line x1="524.05" y1="790.30" x2="524.05" y2="792.30" stroke="#333333" stroke-width="0.9"/>
<rect x="520.35" y="783.10" width="7.40" height="7.20" fill="#bebebe" stroke="#333333" stroke-width="0.9"/>
<line x1="520.35" y1="786.80" x2="527.75" y2="786.80" stroke="#333333" stroke-width="1.7"/>
<line x1="532.35" y1="780.00" x2="532.35" y2="785.70" stroke="#333333" stroke-width="0.9"/>
<line x1="532.35" y1="794.90" x2="532.35" y2="798.40" stroke="#333333" stroke-width="0.9"/>
<rect x="528.65" y="785.70" width="7.40" height="9.20" fill="#7864f8" stroke="#333333" stroke-width="0.9"/>
<line x1="528.65" y1="790.80" x2="536.05" y2="790.80" stroke="#333333" stroke-width="1.7"/>
<line x1="545.95" y1="788.75" x2="545.95" y2="788.75" stroke="#333333" stroke-width="0.9"/>
<line x1="545.95" y1="789.65" x2="545.95" y2="789.65" stroke="#333333" stroke-width="0.9"/>
<rect x="542.25" y="788.75" width="7.40" height="0.90" fill="#bebebe" stroke="#333333" stroke-width="0.9"/>
<line x1="542.25" y1="789.20" x2="549.65" y2="789.20" stroke="#333333" stroke-width="1.7"/>
<line x1="554.25" y1="786.20" x2="554.25" y2="788.80" stroke="#333333" stroke-width="0.9"/>
<line x1="554.25" y1="792.30" x2="554.25" y2="793.00" stroke="#333333" stroke-width="0.9"/>
<rect x="550.55" y="788.80" width="7.40" height="3.50" fill="#7864f8" stroke="#333333" stroke-width="0.9"/>
<line x1="550.55" y1="790.50" x2="557.95" y2="790.50" stroke="#333333" stroke-width="1.7"/>
<line x1="567.85" y1="783.40" x2="567.85" y2="785.70" stroke="#333333" stroke-width="0.9"/>
<line x1="567.85" y1="788.50" x2="567.85" y2="789.00" stroke="#333333" stroke-width="0.9"/>
<rect x="564.15" y="785.70" width="7.40" height="2.80" fill="#bebebe" stroke="#333333" stroke-width="0.9"/>
<line x1="564.15" y1="787.20" x2="571.55" y2="787.20" stroke="#333333" stroke-width="1.7"/>
<line x1="576.15" y1="788.50" x2="576.15" y2="789.20" stroke="#333333" stroke-width="0.9"/>
<line x1="576.15" y1="791.80" x2="576.15" y2="792.50" stroke="#333333" stroke-width="0.9"/>
<rect x="572.45" y="789.20" width="7.40" height="2.60" fill="#7864f8" stroke="#333333" stroke-width="0.9"/>
<line x1="572.45" y1="790.50" x2="579.85" y2="790.50" stroke="#333333" stroke-width="1.7"/>
<text transform="translate(368.17,724.8) rotate(-90)" font-size="9.4" fill="#1a1a1a" text-anchor="middle">Proportion activated (ADT&gt;0.5)</text>
<text x="599.60" y="764.05" font-size="8.8" fill="#1a1a1a" text-anchor="start">Treatment</text>
<line x1="607.70" y1="770.70" x2="607.70" y2="773.00" stroke="#333333" stroke-width="0.9"/>
<line x1="607.70" y1="782.80" x2="607.70" y2="785.10" stroke="#333333" stroke-width="0.9"/>
<rect x="601.30" y="773.00" width="12.80" height="9.80" fill="#bebebe" stroke="#333333" stroke-width="0.9"/>
<line x1="601.30" y1="777.90" x2="614.10" y2="777.90" stroke="#333333" stroke-width="1.7"/>
<text x="620.40" y="781.45" font-size="8.8" fill="#1a1a1a" text-anchor="start">Handling +ARS</text>
<line x1="607.70" y1="787.30" x2="607.70" y2="789.60" stroke="#333333" stroke-width="0.9"/>
<line x1="607.70" y1="799.40" x2="607.70" y2="801.70" stroke="#333333" stroke-width="0.9"/>
<rect x="601.30" y="789.60" width="12.80" height="9.80" fill="#7864f8" stroke="#333333" stroke-width="0.9"/>
<line x1="601.30" y1="794.50" x2="614.10" y2="794.50" stroke="#333333" stroke-width="1.7"/>
<text x="620.40" y="797.85" font-size="8.8" fill="#1a1a1a" text-anchor="start">CRS +ARS</text>
<defs><filter id="bl" x="-5%" y="-5%" width="110%" height="110%"><feGaussianBlur stdDeviation="0.45"/></filter></defs>
<g filter="url(#bl)">
<path fill="#fcf4f3" d="M113.9 20.7h2.15v2.15h-2.15zM98.6 22.5h2.15v2.15h-2.15zM100.6 22.5h2.15v2.15h-2.15zM126.2 24.3h2.15v2.15h-2.15zM121.1 26.0h2.15v2.15h-2.15zM123.2 26.0h2.15v2.15h-2.15zM103.7 27.8h2.15v2.15h-2.15zM105.7 27.8h2.15v2.15h-2.15zM111.9 31.4h2.15v2.15h-2.15zM105.7 34.9h2.15v2.15h-2.15zM109.8 34.9h2.15v2.15h-2.15zM58.2 80.4h2.15v2.15h-2.15zM57.1 82.2h2.15v2.15h-2.15zM65.3 85.7h2.15v2.15h-2.15zM56.1 87.5h2.15v2.15h-2.15zM62.3 87.5h2.15v2.15h-2.15zM44.8 92.8h2.15v2.15h-2.15zM111.1 90.2h2.15v2.15h-2.15zM117.3 90.2h2.15v2.15h-2.15zM116.3 92.0h2.15v2.15h-2.15zM121.4 97.3h2.15v2.15h-2.15zM103.2 132.6h2.15v2.15h-2.15zM94.0 134.3h2.15v2.15h-2.15zM163.7 134.3h2.15v2.15h-2.15zM136.0 136.1h2.15v2.15h-2.15zM87.9 137.9h2.15v2.15h-2.15zM78.6 139.7h2.15v2.15h-2.15zM103.2 143.2h2.15v2.15h-2.15zM98.1 145.0h2.15v2.15h-2.15zM147.3 145.0h2.15v2.15h-2.15zM112.5 152.1h2.15v2.15h-2.15zM152.5 153.9h2.15v2.15h-2.15zM137.1 162.7h2.15v2.15h-2.15zM129.9 164.5h2.15v2.15h-2.15zM131.9 164.5h2.15v2.15h-2.15zM124.8 166.3h2.15v2.15h-2.15zM123.7 168.1h2.15v2.15h-2.15zM136.0 168.1h2.15v2.15h-2.15zM117.6 171.6h2.15v2.15h-2.15zM129.9 175.2h2.15v2.15h-2.15zM113.5 178.7h2.15v2.15h-2.15zM121.7 178.7h2.15v2.15h-2.15zM125.8 178.7h2.15v2.15h-2.15zM127.8 182.3h2.15v2.15h-2.15zM116.6 184.0h2.15v2.15h-2.15zM190.3 123.9h2.15v2.15h-2.15zM194.4 131.0h2.15v2.15h-2.15zM215.9 139.9h2.15v2.15h-2.15zM211.8 143.4h2.15v2.15h-2.15zM218.0 143.4h2.15v2.15h-2.15zM228.2 143.4h2.15v2.15h-2.15zM218.0 147.0h2.15v2.15h-2.15zM215.9 150.5h2.15v2.15h-2.15zM212.8 152.3h2.15v2.15h-2.15zM213.9 164.7h2.15v2.15h-2.15zM240.3 61.7h2.15v2.15h-2.15zM254.7 61.7h2.15v2.15h-2.15zM258.8 61.7h2.15v2.15h-2.15zM229.0 63.5h2.15v2.15h-2.15zM243.4 63.5h2.15v2.15h-2.15zM251.6 63.5h2.15v2.15h-2.15zM261.8 63.5h2.15v2.15h-2.15zM232.1 65.3h2.15v2.15h-2.15zM242.4 65.3h2.15v2.15h-2.15zM256.7 65.3h2.15v2.15h-2.15zM262.9 65.3h2.15v2.15h-2.15zM227.0 67.0h2.15v2.15h-2.15zM231.1 67.0h2.15v2.15h-2.15zM233.1 67.0h2.15v2.15h-2.15zM237.2 67.0h2.15v2.15h-2.15zM239.3 67.0h2.15v2.15h-2.15zM241.3 67.0h2.15v2.15h-2.15zM249.5 67.0h2.15v2.15h-2.15zM251.6 67.0h2.15v2.15h-2.15zM255.7 67.0h2.15v2.15h-2.15zM263.9 67.0h2.15v2.15h-2.15zM232.1 68.8h2.15v2.15h-2.15zM244.4 68.8h2.15v2.15h-2.15zM248.5 68.8h2.15v2.15h-2.15zM258.8 68.8h2.15v2.15h-2.15zM260.8 68.8h2.15v2.15h-2.15zM233.1 70.6h2.15v2.15h-2.15zM245.4 70.6h2.15v2.15h-2.15zM251.6 70.6h2.15v2.15h-2.15zM259.8 70.6h2.15v2.15h-2.15zM263.9 70.6h2.15v2.15h-2.15zM226.0 72.4h2.15v2.15h-2.15zM250.6 72.4h2.15v2.15h-2.15zM254.7 72.4h2.15v2.15h-2.15zM256.7 72.4h2.15v2.15h-2.15zM227.0 74.1h2.15v2.15h-2.15zM241.3 74.1h2.15v2.15h-2.15zM253.6 74.1h2.15v2.15h-2.15zM255.7 74.1h2.15v2.15h-2.15zM230.1 75.9h2.15v2.15h-2.15zM232.1 75.9h2.15v2.15h-2.15zM242.4 75.9h2.15v2.15h-2.15zM229.0 77.7h2.15v2.15h-2.15zM243.4 77.7h2.15v2.15h-2.15zM249.5 77.7h2.15v2.15h-2.15zM232.1 79.5h2.15v2.15h-2.15zM242.4 79.5h2.15v2.15h-2.15zM256.7 79.5h2.15v2.15h-2.15zM258.8 79.5h2.15v2.15h-2.15zM241.3 81.2h2.15v2.15h-2.15zM246.5 83.0h2.15v2.15h-2.15zM254.7 83.0h2.15v2.15h-2.15zM237.2 84.8h2.15v2.15h-2.15zM246.5 86.6h2.15v2.15h-2.15zM116.7 634.9h2.15v2.15h-2.15zM106.5 645.5h2.15v2.15h-2.15zM87.0 654.4h2.15v2.15h-2.15zM107.5 672.2h2.15v2.15h-2.15zM131.1 695.2h2.15v2.15h-2.15zM228.1 645.2h2.15v2.15h-2.15zM238.4 648.8h2.15v2.15h-2.15zM249.6 650.5h2.15v2.15h-2.15zM251.7 654.1h2.15v2.15h-2.15zM211.7 659.4h2.15v2.15h-2.15zM222.0 659.4h2.15v2.15h-2.15zM228.1 659.4h2.15v2.15h-2.15zM235.3 661.2h2.15v2.15h-2.15zM202.5 668.3h2.15v2.15h-2.15zM204.5 668.3h2.15v2.15h-2.15zM233.2 668.3h2.15v2.15h-2.15zM266.0 668.3h2.15v2.15h-2.15zM232.2 670.1h2.15v2.15h-2.15zM205.6 673.6h2.15v2.15h-2.15zM62.1 746.1h2.15v2.15h-2.15zM60.1 749.7h2.15v2.15h-2.15zM52.9 751.5h2.15v2.15h-2.15zM60.1 760.3h2.15v2.15h-2.15zM102.0 761.8h2.15v2.15h-2.15zM165.6 793.1h2.15v2.15h-2.15zM165.6 796.7h2.15v2.15h-2.15zM161.5 800.2h2.15v2.15h-2.15zM158.5 805.6h2.15v2.15h-2.15zM159.5 807.3h2.15v2.15h-2.15zM168.7 809.1h2.15v2.15h-2.15zM155.4 810.9h2.15v2.15h-2.15zM151.3 814.4h2.15v2.15h-2.15zM153.3 818.0h2.15v2.15h-2.15zM155.4 821.5h2.15v2.15h-2.15zM159.5 821.5h2.15v2.15h-2.15zM162.6 826.9h2.15v2.15h-2.15zM157.4 832.2h2.15v2.15h-2.15z"/>
<path fill="#f9eae6" d="M105.7 20.7h2.15v2.15h-2.15zM121.1 22.5h2.15v2.15h-2.15zM97.5 24.3h2.15v2.15h-2.15zM107.8 24.3h2.15v2.15h-2.15zM122.1 24.3h2.15v2.15h-2.15zM102.7 26.0h2.15v2.15h-2.15zM101.6 27.8h2.15v2.15h-2.15zM111.9 27.8h2.15v2.15h-2.15zM106.8 29.6h2.15v2.15h-2.15zM112.9 29.6h2.15v2.15h-2.15zM115.0 29.6h2.15v2.15h-2.15zM119.1 29.6h2.15v2.15h-2.15zM108.8 33.1h2.15v2.15h-2.15zM112.9 33.1h2.15v2.15h-2.15zM95.5 34.9h2.15v2.15h-2.15zM97.5 34.9h2.15v2.15h-2.15zM113.9 34.9h2.15v2.15h-2.15zM118.0 34.9h2.15v2.15h-2.15zM122.1 34.9h2.15v2.15h-2.15zM102.7 36.7h2.15v2.15h-2.15zM112.9 40.2h2.15v2.15h-2.15zM115.0 40.2h2.15v2.15h-2.15zM158.2 37.2h2.15v2.15h-2.15zM152.1 40.8h2.15v2.15h-2.15zM156.2 44.3h2.15v2.15h-2.15zM59.2 82.2h2.15v2.15h-2.15zM58.2 83.9h2.15v2.15h-2.15zM60.2 83.9h2.15v2.15h-2.15zM57.1 85.7h2.15v2.15h-2.15zM59.2 85.7h2.15v2.15h-2.15zM61.2 85.7h2.15v2.15h-2.15zM63.3 85.7h2.15v2.15h-2.15zM60.2 87.5h2.15v2.15h-2.15zM55.1 89.3h2.15v2.15h-2.15zM63.3 89.3h2.15v2.15h-2.15zM62.3 91.0h2.15v2.15h-2.15zM57.1 92.8h2.15v2.15h-2.15zM65.3 92.8h2.15v2.15h-2.15zM43.8 94.6h2.15v2.15h-2.15zM56.1 94.6h2.15v2.15h-2.15zM58.2 98.1h2.15v2.15h-2.15zM125.5 90.2h2.15v2.15h-2.15zM120.4 92.0h2.15v2.15h-2.15zM122.4 92.0h2.15v2.15h-2.15zM126.5 92.0h2.15v2.15h-2.15zM128.6 92.0h2.15v2.15h-2.15zM124.5 95.5h2.15v2.15h-2.15zM117.3 97.3h2.15v2.15h-2.15zM119.3 97.3h2.15v2.15h-2.15zM125.5 97.3h2.15v2.15h-2.15zM102.2 130.8h2.15v2.15h-2.15zM112.5 130.8h2.15v2.15h-2.15zM107.3 132.6h2.15v2.15h-2.15zM98.1 134.3h2.15v2.15h-2.15zM159.6 134.3h2.15v2.15h-2.15zM113.5 136.1h2.15v2.15h-2.15zM79.7 137.9h2.15v2.15h-2.15zM74.5 139.7h2.15v2.15h-2.15zM82.7 139.7h2.15v2.15h-2.15zM99.1 139.7h2.15v2.15h-2.15zM101.2 139.7h2.15v2.15h-2.15zM113.5 139.7h2.15v2.15h-2.15zM142.2 139.7h2.15v2.15h-2.15zM73.5 141.4h2.15v2.15h-2.15zM77.6 141.4h2.15v2.15h-2.15zM78.6 143.2h2.15v2.15h-2.15zM80.7 143.2h2.15v2.15h-2.15zM115.5 143.2h2.15v2.15h-2.15zM117.6 143.2h2.15v2.15h-2.15zM75.6 145.0h2.15v2.15h-2.15zM171.9 145.0h2.15v2.15h-2.15zM99.1 146.8h2.15v2.15h-2.15zM115.5 146.8h2.15v2.15h-2.15zM158.6 146.8h2.15v2.15h-2.15zM147.3 148.5h2.15v2.15h-2.15zM103.2 150.3h2.15v2.15h-2.15zM113.5 150.3h2.15v2.15h-2.15zM104.3 152.1h2.15v2.15h-2.15zM116.6 152.1h2.15v2.15h-2.15zM120.7 152.1h2.15v2.15h-2.15zM153.5 152.1h2.15v2.15h-2.15zM140.2 153.9h2.15v2.15h-2.15zM154.5 153.9h2.15v2.15h-2.15zM130.9 159.2h2.15v2.15h-2.15zM134.0 161.0h2.15v2.15h-2.15zM122.7 166.3h2.15v2.15h-2.15zM134.0 168.1h2.15v2.15h-2.15zM138.1 168.1h2.15v2.15h-2.15zM108.4 169.8h2.15v2.15h-2.15zM120.7 169.8h2.15v2.15h-2.15zM128.9 169.8h2.15v2.15h-2.15zM141.2 169.8h2.15v2.15h-2.15zM140.2 171.6h2.15v2.15h-2.15zM108.4 173.4h2.15v2.15h-2.15zM116.6 173.4h2.15v2.15h-2.15zM118.6 173.4h2.15v2.15h-2.15zM128.9 173.4h2.15v2.15h-2.15zM127.8 178.7h2.15v2.15h-2.15zM118.6 180.5h2.15v2.15h-2.15zM129.9 182.3h2.15v2.15h-2.15zM122.7 187.6h2.15v2.15h-2.15zM197.5 122.1h2.15v2.15h-2.15zM187.2 129.2h2.15v2.15h-2.15zM197.5 136.3h2.15v2.15h-2.15zM215.9 136.3h2.15v2.15h-2.15zM223.1 138.1h2.15v2.15h-2.15zM203.6 139.9h2.15v2.15h-2.15zM212.8 141.6h2.15v2.15h-2.15zM216.9 141.6h2.15v2.15h-2.15zM230.3 143.4h2.15v2.15h-2.15zM199.5 150.5h2.15v2.15h-2.15zM220.0 150.5h2.15v2.15h-2.15zM203.6 154.1h2.15v2.15h-2.15zM225.1 155.8h2.15v2.15h-2.15zM205.7 157.6h2.15v2.15h-2.15zM218.0 157.6h2.15v2.15h-2.15zM222.1 157.6h2.15v2.15h-2.15zM223.1 159.4h2.15v2.15h-2.15zM226.2 161.2h2.15v2.15h-2.15zM234.4 161.2h2.15v2.15h-2.15zM238.5 161.2h2.15v2.15h-2.15zM223.1 162.9h2.15v2.15h-2.15zM231.3 162.9h2.15v2.15h-2.15zM224.1 164.7h2.15v2.15h-2.15zM230.1 61.7h2.15v2.15h-2.15zM232.1 61.7h2.15v2.15h-2.15zM234.2 61.7h2.15v2.15h-2.15zM238.3 61.7h2.15v2.15h-2.15zM242.4 61.7h2.15v2.15h-2.15zM244.4 61.7h2.15v2.15h-2.15zM248.5 61.7h2.15v2.15h-2.15zM260.8 61.7h2.15v2.15h-2.15zM227.0 63.5h2.15v2.15h-2.15zM233.1 63.5h2.15v2.15h-2.15zM237.2 63.5h2.15v2.15h-2.15zM239.3 63.5h2.15v2.15h-2.15zM241.3 63.5h2.15v2.15h-2.15zM253.6 63.5h2.15v2.15h-2.15zM255.7 63.5h2.15v2.15h-2.15zM257.7 63.5h2.15v2.15h-2.15zM259.8 63.5h2.15v2.15h-2.15zM230.1 65.3h2.15v2.15h-2.15zM234.2 65.3h2.15v2.15h-2.15zM236.2 65.3h2.15v2.15h-2.15zM238.3 65.3h2.15v2.15h-2.15zM240.3 65.3h2.15v2.15h-2.15zM244.4 65.3h2.15v2.15h-2.15zM246.5 65.3h2.15v2.15h-2.15zM248.5 65.3h2.15v2.15h-2.15zM252.6 65.3h2.15v2.15h-2.15zM254.7 65.3h2.15v2.15h-2.15zM258.8 65.3h2.15v2.15h-2.15zM260.8 65.3h2.15v2.15h-2.15zM229.0 67.0h2.15v2.15h-2.15zM243.4 67.0h2.15v2.15h-2.15zM245.4 67.0h2.15v2.15h-2.15zM257.7 67.0h2.15v2.15h-2.15zM226.0 68.8h2.15v2.15h-2.15zM228.0 68.8h2.15v2.15h-2.15zM234.2 68.8h2.15v2.15h-2.15zM242.4 68.8h2.15v2.15h-2.15zM246.5 68.8h2.15v2.15h-2.15zM227.0 70.6h2.15v2.15h-2.15zM229.0 70.6h2.15v2.15h-2.15zM235.2 70.6h2.15v2.15h-2.15zM247.5 70.6h2.15v2.15h-2.15zM253.6 70.6h2.15v2.15h-2.15zM257.7 70.6h2.15v2.15h-2.15zM234.2 72.4h2.15v2.15h-2.15zM238.3 72.4h2.15v2.15h-2.15zM240.3 72.4h2.15v2.15h-2.15zM242.4 72.4h2.15v2.15h-2.15zM246.5 72.4h2.15v2.15h-2.15zM252.6 72.4h2.15v2.15h-2.15zM258.8 72.4h2.15v2.15h-2.15zM229.0 74.1h2.15v2.15h-2.15zM231.1 74.1h2.15v2.15h-2.15zM233.1 74.1h2.15v2.15h-2.15zM235.2 74.1h2.15v2.15h-2.15zM237.2 74.1h2.15v2.15h-2.15zM239.3 74.1h2.15v2.15h-2.15zM245.4 74.1h2.15v2.15h-2.15zM247.5 74.1h2.15v2.15h-2.15zM249.5 74.1h2.15v2.15h-2.15zM257.7 74.1h2.15v2.15h-2.15zM259.8 74.1h2.15v2.15h-2.15zM261.8 74.1h2.15v2.15h-2.15zM228.0 75.9h2.15v2.15h-2.15zM234.2 75.9h2.15v2.15h-2.15zM236.2 75.9h2.15v2.15h-2.15zM240.3 75.9h2.15v2.15h-2.15zM246.5 75.9h2.15v2.15h-2.15zM250.6 75.9h2.15v2.15h-2.15zM252.6 75.9h2.15v2.15h-2.15zM254.7 75.9h2.15v2.15h-2.15zM258.8 75.9h2.15v2.15h-2.15zM260.8 75.9h2.15v2.15h-2.15zM233.1 77.7h2.15v2.15h-2.15zM235.2 77.7h2.15v2.15h-2.15zM239.3 77.7h2.15v2.15h-2.15zM241.3 77.7h2.15v2.15h-2.15zM245.4 77.7h2.15v2.15h-2.15zM247.5 77.7h2.15v2.15h-2.15zM253.6 77.7h2.15v2.15h-2.15zM259.8 77.7h2.15v2.15h-2.15zM230.1 79.5h2.15v2.15h-2.15zM234.2 79.5h2.15v2.15h-2.15zM236.2 79.5h2.15v2.15h-2.15zM240.3 79.5h2.15v2.15h-2.15zM244.4 79.5h2.15v2.15h-2.15zM248.5 79.5h2.15v2.15h-2.15zM250.6 79.5h2.15v2.15h-2.15zM231.1 81.2h2.15v2.15h-2.15zM233.1 81.2h2.15v2.15h-2.15zM235.2 81.2h2.15v2.15h-2.15zM239.3 81.2h2.15v2.15h-2.15zM243.4 81.2h2.15v2.15h-2.15zM251.6 81.2h2.15v2.15h-2.15zM255.7 81.2h2.15v2.15h-2.15zM234.2 83.0h2.15v2.15h-2.15zM236.2 83.0h2.15v2.15h-2.15zM250.6 83.0h2.15v2.15h-2.15zM252.6 83.0h2.15v2.15h-2.15zM256.7 83.0h2.15v2.15h-2.15zM235.2 84.8h2.15v2.15h-2.15zM239.3 84.8h2.15v2.15h-2.15zM243.4 84.8h2.15v2.15h-2.15zM251.6 84.8h2.15v2.15h-2.15zM253.6 84.8h2.15v2.15h-2.15zM255.7 84.8h2.15v2.15h-2.15zM242.4 86.6h2.15v2.15h-2.15zM244.4 86.6h2.15v2.15h-2.15zM128.0 618.9h2.15v2.15h-2.15zM124.9 620.7h2.15v2.15h-2.15zM103.4 622.5h2.15v2.15h-2.15zM125.9 622.5h2.15v2.15h-2.15zM128.0 626.0h2.15v2.15h-2.15zM102.4 627.8h2.15v2.15h-2.15zM110.6 627.8h2.15v2.15h-2.15zM120.8 627.8h2.15v2.15h-2.15zM84.9 636.7h2.15v2.15h-2.15zM99.3 636.7h2.15v2.15h-2.15zM103.4 636.7h2.15v2.15h-2.15zM121.8 636.7h2.15v2.15h-2.15zM125.9 636.7h2.15v2.15h-2.15zM81.9 642.0h2.15v2.15h-2.15zM83.9 642.0h2.15v2.15h-2.15zM110.6 645.5h2.15v2.15h-2.15zM87.0 647.3h2.15v2.15h-2.15zM99.3 647.3h2.15v2.15h-2.15zM94.2 649.1h2.15v2.15h-2.15zM78.8 650.9h2.15v2.15h-2.15zM107.5 650.9h2.15v2.15h-2.15zM88.0 652.6h2.15v2.15h-2.15zM132.1 689.9h2.15v2.15h-2.15zM241.4 647.0h2.15v2.15h-2.15zM215.8 648.8h2.15v2.15h-2.15zM214.8 650.5h2.15v2.15h-2.15zM216.8 650.5h2.15v2.15h-2.15zM228.1 652.3h2.15v2.15h-2.15zM234.3 652.3h2.15v2.15h-2.15zM240.4 652.3h2.15v2.15h-2.15zM210.7 654.1h2.15v2.15h-2.15zM229.1 654.1h2.15v2.15h-2.15zM235.3 654.1h2.15v2.15h-2.15zM207.6 655.9h2.15v2.15h-2.15zM217.9 655.9h2.15v2.15h-2.15zM244.5 655.9h2.15v2.15h-2.15zM246.6 655.9h2.15v2.15h-2.15zM216.8 657.6h2.15v2.15h-2.15zM223.0 657.6h2.15v2.15h-2.15zM231.2 657.6h2.15v2.15h-2.15zM213.8 659.4h2.15v2.15h-2.15zM236.3 659.4h2.15v2.15h-2.15zM250.7 659.4h2.15v2.15h-2.15zM214.8 661.2h2.15v2.15h-2.15zM223.0 661.2h2.15v2.15h-2.15zM207.6 663.0h2.15v2.15h-2.15zM228.1 663.0h2.15v2.15h-2.15zM234.3 663.0h2.15v2.15h-2.15zM242.5 663.0h2.15v2.15h-2.15zM202.5 664.7h2.15v2.15h-2.15zM218.9 664.7h2.15v2.15h-2.15zM227.1 664.7h2.15v2.15h-2.15zM201.5 666.5h2.15v2.15h-2.15zM241.4 668.3h2.15v2.15h-2.15zM211.7 670.1h2.15v2.15h-2.15zM263.0 670.1h2.15v2.15h-2.15zM267.1 670.1h2.15v2.15h-2.15zM231.2 671.8h2.15v2.15h-2.15zM239.4 671.8h2.15v2.15h-2.15zM261.9 671.8h2.15v2.15h-2.15zM240.4 673.6h2.15v2.15h-2.15zM241.4 678.9h2.15v2.15h-2.15zM260.9 680.7h2.15v2.15h-2.15zM208.6 682.5h2.15v2.15h-2.15zM246.6 684.3h2.15v2.15h-2.15zM208.6 689.6h2.15v2.15h-2.15zM266.0 689.6h2.15v2.15h-2.15zM244.5 691.4h2.15v2.15h-2.15zM279.4 691.4h2.15v2.15h-2.15zM239.4 693.1h2.15v2.15h-2.15zM241.4 700.2h2.15v2.15h-2.15zM59.0 740.8h2.15v2.15h-2.15zM71.3 740.8h2.15v2.15h-2.15zM66.2 742.6h2.15v2.15h-2.15zM49.8 746.1h2.15v2.15h-2.15zM59.0 747.9h2.15v2.15h-2.15zM50.8 751.5h2.15v2.15h-2.15zM59.0 751.5h2.15v2.15h-2.15zM52.9 755.0h2.15v2.15h-2.15zM49.8 760.3h2.15v2.15h-2.15zM71.6 715.2h2.15v2.15h-2.15zM100.0 754.7h2.15v2.15h-2.15zM102.0 754.7h2.15v2.15h-2.15zM104.0 754.7h2.15v2.15h-2.15zM102.0 758.3h2.15v2.15h-2.15zM112.2 758.3h2.15v2.15h-2.15zM117.4 760.0h2.15v2.15h-2.15zM142.1 787.8h2.15v2.15h-2.15zM166.7 794.9h2.15v2.15h-2.15zM157.4 800.2h2.15v2.15h-2.15zM169.7 800.2h2.15v2.15h-2.15zM165.6 803.8h2.15v2.15h-2.15zM148.2 805.6h2.15v2.15h-2.15zM170.8 805.6h2.15v2.15h-2.15zM155.4 807.3h2.15v2.15h-2.15zM163.6 810.9h2.15v2.15h-2.15zM157.4 814.4h2.15v2.15h-2.15zM159.5 814.4h2.15v2.15h-2.15zM169.7 814.4h2.15v2.15h-2.15zM162.6 816.2h2.15v2.15h-2.15zM168.7 816.2h2.15v2.15h-2.15zM156.4 819.8h2.15v2.15h-2.15zM164.6 819.8h2.15v2.15h-2.15zM166.7 819.8h2.15v2.15h-2.15zM162.6 823.3h2.15v2.15h-2.15zM159.5 828.6h2.15v2.15h-2.15zM159.5 832.2h2.15v2.15h-2.15z"/>
<path fill="#f6e0da" d="M101.6 20.7h2.15v2.15h-2.15zM107.8 20.7h2.15v2.15h-2.15zM119.1 22.5h2.15v2.15h-2.15zM105.7 24.3h2.15v2.15h-2.15zM120.1 24.3h2.15v2.15h-2.15zM124.2 24.3h2.15v2.15h-2.15zM106.8 26.0h2.15v2.15h-2.15zM108.8 26.0h2.15v2.15h-2.15zM97.5 27.8h2.15v2.15h-2.15zM107.8 27.8h2.15v2.15h-2.15zM96.5 29.6h2.15v2.15h-2.15zM100.6 29.6h2.15v2.15h-2.15zM110.9 29.6h2.15v2.15h-2.15zM127.3 29.6h2.15v2.15h-2.15zM99.6 31.4h2.15v2.15h-2.15zM109.8 31.4h2.15v2.15h-2.15zM116.0 31.4h2.15v2.15h-2.15zM126.2 31.4h2.15v2.15h-2.15zM104.7 33.1h2.15v2.15h-2.15zM111.9 34.9h2.15v2.15h-2.15zM116.0 34.9h2.15v2.15h-2.15zM100.6 36.7h2.15v2.15h-2.15zM106.8 36.7h2.15v2.15h-2.15zM103.7 38.5h2.15v2.15h-2.15zM111.9 38.5h2.15v2.15h-2.15zM116.0 38.5h2.15v2.15h-2.15zM118.0 38.5h2.15v2.15h-2.15zM138.3 56.4h2.15v2.15h-2.15zM152.1 37.2h2.15v2.15h-2.15zM157.2 39.0h2.15v2.15h-2.15zM156.2 40.8h2.15v2.15h-2.15zM158.2 40.8h2.15v2.15h-2.15zM155.1 42.5h2.15v2.15h-2.15zM161.3 42.5h2.15v2.15h-2.15zM158.2 44.3h2.15v2.15h-2.15zM159.2 46.1h2.15v2.15h-2.15zM61.2 82.2h2.15v2.15h-2.15zM54.1 87.5h2.15v2.15h-2.15zM57.1 89.3h2.15v2.15h-2.15zM59.2 89.3h2.15v2.15h-2.15zM61.2 89.3h2.15v2.15h-2.15zM56.1 91.0h2.15v2.15h-2.15zM46.9 92.8h2.15v2.15h-2.15zM45.9 94.6h2.15v2.15h-2.15zM60.2 94.6h2.15v2.15h-2.15zM46.9 96.4h2.15v2.15h-2.15zM59.2 96.4h2.15v2.15h-2.15zM47.9 98.1h2.15v2.15h-2.15zM60.2 98.1h2.15v2.15h-2.15zM119.3 90.2h2.15v2.15h-2.15zM127.5 90.2h2.15v2.15h-2.15zM112.2 92.0h2.15v2.15h-2.15zM109.1 93.8h2.15v2.15h-2.15zM113.2 93.8h2.15v2.15h-2.15zM117.3 93.8h2.15v2.15h-2.15zM123.4 93.8h2.15v2.15h-2.15zM118.3 95.5h2.15v2.15h-2.15zM120.4 95.5h2.15v2.15h-2.15zM128.6 95.5h2.15v2.15h-2.15zM115.2 97.3h2.15v2.15h-2.15zM129.6 97.3h2.15v2.15h-2.15zM138.8 99.1h2.15v2.15h-2.15zM154.5 121.9h2.15v2.15h-2.15zM154.5 125.5h2.15v2.15h-2.15zM150.4 129.0h2.15v2.15h-2.15zM99.1 132.6h2.15v2.15h-2.15zM101.2 132.6h2.15v2.15h-2.15zM140.2 132.6h2.15v2.15h-2.15zM142.2 132.6h2.15v2.15h-2.15zM162.7 132.6h2.15v2.15h-2.15zM92.0 134.3h2.15v2.15h-2.15zM102.2 134.3h2.15v2.15h-2.15zM135.0 134.3h2.15v2.15h-2.15zM157.6 134.3h2.15v2.15h-2.15zM80.7 136.1h2.15v2.15h-2.15zM86.8 136.1h2.15v2.15h-2.15zM97.1 136.1h2.15v2.15h-2.15zM152.5 136.1h2.15v2.15h-2.15zM156.6 136.1h2.15v2.15h-2.15zM73.5 137.9h2.15v2.15h-2.15zM106.3 137.9h2.15v2.15h-2.15zM108.4 137.9h2.15v2.15h-2.15zM155.5 137.9h2.15v2.15h-2.15zM159.6 137.9h2.15v2.15h-2.15zM169.9 137.9h2.15v2.15h-2.15zM88.9 139.7h2.15v2.15h-2.15zM105.3 139.7h2.15v2.15h-2.15zM111.4 139.7h2.15v2.15h-2.15zM115.5 139.7h2.15v2.15h-2.15zM140.2 139.7h2.15v2.15h-2.15zM154.5 139.7h2.15v2.15h-2.15zM81.7 141.4h2.15v2.15h-2.15zM92.0 141.4h2.15v2.15h-2.15zM100.2 141.4h2.15v2.15h-2.15zM102.2 141.4h2.15v2.15h-2.15zM174.0 141.4h2.15v2.15h-2.15zM88.9 143.2h2.15v2.15h-2.15zM93.0 143.2h2.15v2.15h-2.15zM105.3 143.2h2.15v2.15h-2.15zM162.7 143.2h2.15v2.15h-2.15zM83.8 145.0h2.15v2.15h-2.15zM85.8 145.0h2.15v2.15h-2.15zM94.0 145.0h2.15v2.15h-2.15zM153.5 145.0h2.15v2.15h-2.15zM107.3 146.8h2.15v2.15h-2.15zM116.6 148.5h2.15v2.15h-2.15zM155.5 148.5h2.15v2.15h-2.15zM99.1 150.3h2.15v2.15h-2.15zM109.4 150.3h2.15v2.15h-2.15zM152.5 150.3h2.15v2.15h-2.15zM156.6 150.3h2.15v2.15h-2.15zM114.5 152.1h2.15v2.15h-2.15zM137.1 152.1h2.15v2.15h-2.15zM155.5 152.1h2.15v2.15h-2.15zM107.3 153.9h2.15v2.15h-2.15zM112.5 155.6h2.15v2.15h-2.15zM124.8 155.6h2.15v2.15h-2.15zM117.6 157.4h2.15v2.15h-2.15zM125.8 157.4h2.15v2.15h-2.15zM131.9 157.4h2.15v2.15h-2.15zM150.4 157.4h2.15v2.15h-2.15zM118.6 159.2h2.15v2.15h-2.15zM122.7 159.2h2.15v2.15h-2.15zM117.6 161.0h2.15v2.15h-2.15zM125.8 161.0h2.15v2.15h-2.15zM138.1 161.0h2.15v2.15h-2.15zM124.8 162.7h2.15v2.15h-2.15zM128.9 162.7h2.15v2.15h-2.15zM135.0 162.7h2.15v2.15h-2.15zM120.7 166.3h2.15v2.15h-2.15zM128.9 166.3h2.15v2.15h-2.15zM130.9 166.3h2.15v2.15h-2.15zM115.5 168.1h2.15v2.15h-2.15zM140.2 168.1h2.15v2.15h-2.15zM122.7 169.8h2.15v2.15h-2.15zM124.8 169.8h2.15v2.15h-2.15zM130.9 169.8h2.15v2.15h-2.15zM137.1 169.8h2.15v2.15h-2.15zM121.7 171.6h2.15v2.15h-2.15zM131.9 171.6h2.15v2.15h-2.15zM136.0 171.6h2.15v2.15h-2.15zM130.9 173.4h2.15v2.15h-2.15zM117.6 175.2h2.15v2.15h-2.15zM118.6 176.9h2.15v2.15h-2.15zM130.9 176.9h2.15v2.15h-2.15zM115.5 178.7h2.15v2.15h-2.15zM117.6 178.7h2.15v2.15h-2.15zM131.9 178.7h2.15v2.15h-2.15zM128.9 180.5h2.15v2.15h-2.15zM125.8 182.3h2.15v2.15h-2.15zM126.8 184.0h2.15v2.15h-2.15zM128.9 184.0h2.15v2.15h-2.15zM119.6 189.4h2.15v2.15h-2.15zM196.4 123.9h2.15v2.15h-2.15zM199.5 125.7h2.15v2.15h-2.15zM196.4 127.4h2.15v2.15h-2.15zM197.5 129.2h2.15v2.15h-2.15zM193.4 132.8h2.15v2.15h-2.15zM199.5 132.8h2.15v2.15h-2.15zM205.7 132.8h2.15v2.15h-2.15zM199.5 136.3h2.15v2.15h-2.15zM209.8 136.3h2.15v2.15h-2.15zM190.3 138.1h2.15v2.15h-2.15zM206.7 141.6h2.15v2.15h-2.15zM200.5 145.2h2.15v2.15h-2.15zM225.1 145.2h2.15v2.15h-2.15zM203.6 147.0h2.15v2.15h-2.15zM212.8 148.7h2.15v2.15h-2.15zM214.9 148.7h2.15v2.15h-2.15zM198.5 152.3h2.15v2.15h-2.15zM216.9 152.3h2.15v2.15h-2.15zM201.6 154.1h2.15v2.15h-2.15zM224.1 154.1h2.15v2.15h-2.15zM228.2 157.6h2.15v2.15h-2.15zM232.3 157.6h2.15v2.15h-2.15zM210.8 159.4h2.15v2.15h-2.15zM233.3 159.4h2.15v2.15h-2.15zM214.9 162.9h2.15v2.15h-2.15zM229.2 162.9h2.15v2.15h-2.15zM235.4 162.9h2.15v2.15h-2.15zM239.5 162.9h2.15v2.15h-2.15zM241.5 162.9h2.15v2.15h-2.15zM218.0 164.7h2.15v2.15h-2.15zM228.2 164.7h2.15v2.15h-2.15zM216.9 166.5h2.15v2.15h-2.15zM230.3 168.3h2.15v2.15h-2.15zM236.4 168.3h2.15v2.15h-2.15zM238.5 168.3h2.15v2.15h-2.15zM240.5 168.3h2.15v2.15h-2.15zM228.0 61.7h2.15v2.15h-2.15zM246.5 61.7h2.15v2.15h-2.15zM250.6 61.7h2.15v2.15h-2.15zM235.2 63.5h2.15v2.15h-2.15zM245.4 63.5h2.15v2.15h-2.15zM247.5 63.5h2.15v2.15h-2.15zM249.5 63.5h2.15v2.15h-2.15zM247.5 67.0h2.15v2.15h-2.15zM253.6 67.0h2.15v2.15h-2.15zM261.8 67.0h2.15v2.15h-2.15zM230.1 68.8h2.15v2.15h-2.15zM236.2 68.8h2.15v2.15h-2.15zM252.6 68.8h2.15v2.15h-2.15zM254.7 68.8h2.15v2.15h-2.15zM262.9 68.8h2.15v2.15h-2.15zM241.3 70.6h2.15v2.15h-2.15zM243.4 70.6h2.15v2.15h-2.15zM249.5 70.6h2.15v2.15h-2.15zM261.8 70.6h2.15v2.15h-2.15zM228.0 72.4h2.15v2.15h-2.15zM232.1 72.4h2.15v2.15h-2.15zM260.8 72.4h2.15v2.15h-2.15zM262.9 72.4h2.15v2.15h-2.15zM244.4 75.9h2.15v2.15h-2.15zM256.7 75.9h2.15v2.15h-2.15zM231.1 77.7h2.15v2.15h-2.15zM237.2 77.7h2.15v2.15h-2.15zM251.6 77.7h2.15v2.15h-2.15zM255.7 77.7h2.15v2.15h-2.15zM238.3 79.5h2.15v2.15h-2.15zM252.6 79.5h2.15v2.15h-2.15zM254.7 79.5h2.15v2.15h-2.15zM249.5 81.2h2.15v2.15h-2.15zM242.4 83.0h2.15v2.15h-2.15zM248.5 83.0h2.15v2.15h-2.15zM241.3 84.8h2.15v2.15h-2.15zM245.4 84.8h2.15v2.15h-2.15zM249.5 84.8h2.15v2.15h-2.15zM121.8 618.9h2.15v2.15h-2.15zM116.7 620.7h2.15v2.15h-2.15zM109.5 622.5h2.15v2.15h-2.15zM112.6 624.2h2.15v2.15h-2.15zM109.5 626.0h2.15v2.15h-2.15zM111.6 626.0h2.15v2.15h-2.15zM112.6 627.8h2.15v2.15h-2.15zM112.6 631.3h2.15v2.15h-2.15zM93.1 633.1h2.15v2.15h-2.15zM97.2 633.1h2.15v2.15h-2.15zM128.0 633.1h2.15v2.15h-2.15zM127.0 634.9h2.15v2.15h-2.15zM82.9 636.7h2.15v2.15h-2.15zM95.2 636.7h2.15v2.15h-2.15zM88.0 638.4h2.15v2.15h-2.15zM96.2 638.4h2.15v2.15h-2.15zM114.7 638.4h2.15v2.15h-2.15zM82.9 640.2h2.15v2.15h-2.15zM91.1 640.2h2.15v2.15h-2.15zM96.2 642.0h2.15v2.15h-2.15zM118.8 642.0h2.15v2.15h-2.15zM120.8 642.0h2.15v2.15h-2.15zM113.6 643.8h2.15v2.15h-2.15zM81.9 645.5h2.15v2.15h-2.15zM83.9 645.5h2.15v2.15h-2.15zM84.9 647.3h2.15v2.15h-2.15zM91.1 647.3h2.15v2.15h-2.15zM108.5 649.1h2.15v2.15h-2.15zM79.8 652.6h2.15v2.15h-2.15zM96.2 652.6h2.15v2.15h-2.15zM89.0 654.4h2.15v2.15h-2.15zM79.8 656.2h2.15v2.15h-2.15zM92.1 656.2h2.15v2.15h-2.15zM102.4 656.2h2.15v2.15h-2.15zM99.3 658.0h2.15v2.15h-2.15zM95.2 661.5h2.15v2.15h-2.15zM109.5 672.2h2.15v2.15h-2.15zM110.6 673.9h2.15v2.15h-2.15zM109.5 675.7h2.15v2.15h-2.15zM113.6 679.3h2.15v2.15h-2.15zM116.7 684.6h2.15v2.15h-2.15zM120.8 688.1h2.15v2.15h-2.15zM130.0 693.5h2.15v2.15h-2.15zM129.0 695.2h2.15v2.15h-2.15zM222.0 645.2h2.15v2.15h-2.15zM230.2 645.2h2.15v2.15h-2.15zM240.4 645.2h2.15v2.15h-2.15zM242.5 645.2h2.15v2.15h-2.15zM220.9 647.0h2.15v2.15h-2.15zM229.1 647.0h2.15v2.15h-2.15zM243.5 647.0h2.15v2.15h-2.15zM245.5 647.0h2.15v2.15h-2.15zM208.6 650.5h2.15v2.15h-2.15zM225.0 650.5h2.15v2.15h-2.15zM227.1 650.5h2.15v2.15h-2.15zM233.2 650.5h2.15v2.15h-2.15zM237.3 650.5h2.15v2.15h-2.15zM245.5 650.5h2.15v2.15h-2.15zM211.7 652.3h2.15v2.15h-2.15zM213.8 652.3h2.15v2.15h-2.15zM224.0 652.3h2.15v2.15h-2.15zM232.2 652.3h2.15v2.15h-2.15zM236.3 652.3h2.15v2.15h-2.15zM242.5 652.3h2.15v2.15h-2.15zM254.8 652.3h2.15v2.15h-2.15zM206.6 654.1h2.15v2.15h-2.15zM227.1 654.1h2.15v2.15h-2.15zM239.4 654.1h2.15v2.15h-2.15zM245.5 654.1h2.15v2.15h-2.15zM253.7 654.1h2.15v2.15h-2.15zM257.8 654.1h2.15v2.15h-2.15zM213.8 655.9h2.15v2.15h-2.15zM224.0 655.9h2.15v2.15h-2.15zM230.2 655.9h2.15v2.15h-2.15zM206.6 657.6h2.15v2.15h-2.15zM220.9 657.6h2.15v2.15h-2.15zM225.0 657.6h2.15v2.15h-2.15zM217.9 659.4h2.15v2.15h-2.15zM224.0 659.4h2.15v2.15h-2.15zM232.2 659.4h2.15v2.15h-2.15zM238.4 659.4h2.15v2.15h-2.15zM240.4 659.4h2.15v2.15h-2.15zM248.6 659.4h2.15v2.15h-2.15zM227.1 661.2h2.15v2.15h-2.15zM209.7 663.0h2.15v2.15h-2.15zM222.0 663.0h2.15v2.15h-2.15zM224.0 663.0h2.15v2.15h-2.15zM238.4 663.0h2.15v2.15h-2.15zM240.4 663.0h2.15v2.15h-2.15zM260.9 663.0h2.15v2.15h-2.15zM220.9 664.7h2.15v2.15h-2.15zM255.8 664.7h2.15v2.15h-2.15zM213.8 666.5h2.15v2.15h-2.15zM217.9 666.5h2.15v2.15h-2.15zM230.2 666.5h2.15v2.15h-2.15zM265.0 666.5h2.15v2.15h-2.15zM212.7 668.3h2.15v2.15h-2.15zM223.0 668.3h2.15v2.15h-2.15zM229.1 668.3h2.15v2.15h-2.15zM237.3 668.3h2.15v2.15h-2.15zM255.8 668.3h2.15v2.15h-2.15zM209.7 670.1h2.15v2.15h-2.15zM213.8 670.1h2.15v2.15h-2.15zM256.8 670.1h2.15v2.15h-2.15zM258.9 670.1h2.15v2.15h-2.15zM229.1 671.8h2.15v2.15h-2.15zM251.7 671.8h2.15v2.15h-2.15zM255.8 671.8h2.15v2.15h-2.15zM213.8 673.6h2.15v2.15h-2.15zM226.1 673.6h2.15v2.15h-2.15zM208.6 675.4h2.15v2.15h-2.15zM257.8 675.4h2.15v2.15h-2.15zM211.7 677.2h2.15v2.15h-2.15zM240.4 677.2h2.15v2.15h-2.15zM267.1 677.2h2.15v2.15h-2.15zM237.3 678.9h2.15v2.15h-2.15zM247.6 678.9h2.15v2.15h-2.15zM261.9 678.9h2.15v2.15h-2.15zM207.6 680.7h2.15v2.15h-2.15zM206.6 682.5h2.15v2.15h-2.15zM225.0 682.5h2.15v2.15h-2.15zM247.6 682.5h2.15v2.15h-2.15zM268.1 682.5h2.15v2.15h-2.15zM250.7 684.3h2.15v2.15h-2.15zM204.5 686.0h2.15v2.15h-2.15zM210.7 686.0h2.15v2.15h-2.15zM274.2 686.0h2.15v2.15h-2.15zM230.2 687.8h2.15v2.15h-2.15zM240.4 687.8h2.15v2.15h-2.15zM244.5 687.8h2.15v2.15h-2.15zM233.2 689.6h2.15v2.15h-2.15zM239.4 689.6h2.15v2.15h-2.15zM252.7 691.4h2.15v2.15h-2.15zM208.6 693.1h2.15v2.15h-2.15zM259.9 693.1h2.15v2.15h-2.15zM276.3 693.1h2.15v2.15h-2.15zM218.9 696.7h2.15v2.15h-2.15zM223.0 696.7h2.15v2.15h-2.15zM243.5 696.7h2.15v2.15h-2.15zM218.9 700.2h2.15v2.15h-2.15zM236.3 702.0h2.15v2.15h-2.15zM258.9 702.0h2.15v2.15h-2.15zM275.3 702.0h2.15v2.15h-2.15zM202.5 703.8h2.15v2.15h-2.15zM268.1 703.8h2.15v2.15h-2.15zM212.7 707.3h2.15v2.15h-2.15zM204.5 710.9h2.15v2.15h-2.15zM221.1 794.9h2.15v2.15h-2.15zM61.1 740.8h2.15v2.15h-2.15zM62.1 742.6h2.15v2.15h-2.15zM68.3 742.6h2.15v2.15h-2.15zM57.0 744.4h2.15v2.15h-2.15zM61.1 744.4h2.15v2.15h-2.15zM63.1 744.4h2.15v2.15h-2.15zM65.2 744.4h2.15v2.15h-2.15zM53.9 746.1h2.15v2.15h-2.15zM60.1 746.1h2.15v2.15h-2.15zM46.7 747.9h2.15v2.15h-2.15zM54.9 751.5h2.15v2.15h-2.15zM49.8 753.2h2.15v2.15h-2.15zM51.9 753.2h2.15v2.15h-2.15zM56.0 753.2h2.15v2.15h-2.15zM48.8 758.6h2.15v2.15h-2.15zM53.9 760.3h2.15v2.15h-2.15zM103.0 756.5h2.15v2.15h-2.15zM106.1 758.3h2.15v2.15h-2.15zM101.0 760.0h2.15v2.15h-2.15zM106.1 761.8h2.15v2.15h-2.15zM146.2 784.3h2.15v2.15h-2.15zM143.1 786.0h2.15v2.15h-2.15zM154.4 787.8h2.15v2.15h-2.15zM156.4 791.4h2.15v2.15h-2.15zM158.5 791.4h2.15v2.15h-2.15zM158.5 794.9h2.15v2.15h-2.15zM161.5 796.7h2.15v2.15h-2.15zM148.2 798.5h2.15v2.15h-2.15zM154.4 798.5h2.15v2.15h-2.15zM158.5 798.5h2.15v2.15h-2.15zM153.3 800.2h2.15v2.15h-2.15zM159.5 800.2h2.15v2.15h-2.15zM158.5 802.0h2.15v2.15h-2.15zM168.7 802.0h2.15v2.15h-2.15zM170.8 802.0h2.15v2.15h-2.15zM155.4 803.8h2.15v2.15h-2.15zM163.6 803.8h2.15v2.15h-2.15zM152.3 805.6h2.15v2.15h-2.15zM169.7 807.3h2.15v2.15h-2.15zM152.3 809.1h2.15v2.15h-2.15zM154.4 809.1h2.15v2.15h-2.15zM156.4 809.1h2.15v2.15h-2.15zM158.5 812.7h2.15v2.15h-2.15zM164.6 812.7h2.15v2.15h-2.15zM161.5 814.4h2.15v2.15h-2.15zM160.5 816.2h2.15v2.15h-2.15zM157.4 821.5h2.15v2.15h-2.15zM161.5 821.5h2.15v2.15h-2.15zM156.4 823.3h2.15v2.15h-2.15zM158.5 823.3h2.15v2.15h-2.15zM159.5 825.1h2.15v2.15h-2.15zM163.6 825.1h2.15v2.15h-2.15zM158.5 826.9h2.15v2.15h-2.15zM164.6 826.9h2.15v2.15h-2.15zM157.4 828.6h2.15v2.15h-2.15zM161.5 828.6h2.15v2.15h-2.15zM156.4 830.4h2.15v2.15h-2.15zM158.5 830.4h2.15v2.15h-2.15zM161.5 832.2h2.15v2.15h-2.15z"/>
<path fill="#f2d5ce" d="M111.9 20.7h2.15v2.15h-2.15zM102.7 22.5h2.15v2.15h-2.15zM104.7 22.5h2.15v2.15h-2.15zM106.8 22.5h2.15v2.15h-2.15zM108.8 22.5h2.15v2.15h-2.15zM115.0 22.5h2.15v2.15h-2.15zM99.6 24.3h2.15v2.15h-2.15zM101.6 24.3h2.15v2.15h-2.15zM116.0 24.3h2.15v2.15h-2.15zM96.5 26.0h2.15v2.15h-2.15zM110.9 26.0h2.15v2.15h-2.15zM112.9 26.0h2.15v2.15h-2.15zM113.9 27.8h2.15v2.15h-2.15zM118.0 27.8h2.15v2.15h-2.15zM120.1 27.8h2.15v2.15h-2.15zM122.1 27.8h2.15v2.15h-2.15zM124.2 27.8h2.15v2.15h-2.15zM126.2 27.8h2.15v2.15h-2.15zM98.6 29.6h2.15v2.15h-2.15zM108.8 29.6h2.15v2.15h-2.15zM117.0 29.6h2.15v2.15h-2.15zM121.1 29.6h2.15v2.15h-2.15zM131.4 29.6h2.15v2.15h-2.15zM133.4 29.6h2.15v2.15h-2.15zM103.7 31.4h2.15v2.15h-2.15zM118.0 31.4h2.15v2.15h-2.15zM110.9 33.1h2.15v2.15h-2.15zM115.0 33.1h2.15v2.15h-2.15zM101.6 34.9h2.15v2.15h-2.15zM103.7 34.9h2.15v2.15h-2.15zM107.8 34.9h2.15v2.15h-2.15zM120.1 34.9h2.15v2.15h-2.15zM108.8 36.7h2.15v2.15h-2.15zM112.9 36.7h2.15v2.15h-2.15zM117.0 36.7h2.15v2.15h-2.15zM113.9 38.5h2.15v2.15h-2.15zM125.2 43.8h2.15v2.15h-2.15zM129.3 47.3h2.15v2.15h-2.15zM133.1 51.0h2.15v2.15h-2.15zM132.1 52.8h2.15v2.15h-2.15zM141.3 54.6h2.15v2.15h-2.15zM142.4 56.4h2.15v2.15h-2.15zM148.5 56.4h2.15v2.15h-2.15zM135.2 58.1h2.15v2.15h-2.15zM153.6 58.1h2.15v2.15h-2.15zM148.5 59.9h2.15v2.15h-2.15zM150.6 59.9h2.15v2.15h-2.15zM150.0 37.2h2.15v2.15h-2.15zM156.2 37.2h2.15v2.15h-2.15zM151.0 39.0h2.15v2.15h-2.15zM155.1 39.0h2.15v2.15h-2.15zM160.3 40.8h2.15v2.15h-2.15zM153.1 42.5h2.15v2.15h-2.15zM160.3 44.3h2.15v2.15h-2.15zM155.1 46.1h2.15v2.15h-2.15zM156.2 47.9h2.15v2.15h-2.15zM56.1 80.4h2.15v2.15h-2.15zM55.1 82.2h2.15v2.15h-2.15zM67.4 89.3h2.15v2.15h-2.15zM43.8 91.0h2.15v2.15h-2.15zM54.1 91.0h2.15v2.15h-2.15zM58.2 91.0h2.15v2.15h-2.15zM60.2 91.0h2.15v2.15h-2.15zM42.8 92.8h2.15v2.15h-2.15zM61.2 92.8h2.15v2.15h-2.15zM63.3 92.8h2.15v2.15h-2.15zM64.3 94.6h2.15v2.15h-2.15zM44.8 96.4h2.15v2.15h-2.15zM57.1 96.4h2.15v2.15h-2.15zM61.2 96.4h2.15v2.15h-2.15zM55.1 99.9h2.15v2.15h-2.15zM109.1 90.2h2.15v2.15h-2.15zM121.4 90.2h2.15v2.15h-2.15zM124.5 92.0h2.15v2.15h-2.15zM119.3 93.8h2.15v2.15h-2.15zM131.7 93.8h2.15v2.15h-2.15zM114.2 95.5h2.15v2.15h-2.15zM126.5 95.5h2.15v2.15h-2.15zM109.1 97.3h2.15v2.15h-2.15zM113.2 97.3h2.15v2.15h-2.15zM130.6 99.1h2.15v2.15h-2.15zM136.8 99.1h2.15v2.15h-2.15zM148.4 129.0h2.15v2.15h-2.15zM97.1 132.6h2.15v2.15h-2.15zM85.8 134.3h2.15v2.15h-2.15zM89.9 134.3h2.15v2.15h-2.15zM104.3 134.3h2.15v2.15h-2.15zM108.4 134.3h2.15v2.15h-2.15zM116.6 134.3h2.15v2.15h-2.15zM120.7 134.3h2.15v2.15h-2.15zM133.0 134.3h2.15v2.15h-2.15zM143.2 134.3h2.15v2.15h-2.15zM167.8 134.3h2.15v2.15h-2.15zM78.6 136.1h2.15v2.15h-2.15zM95.0 136.1h2.15v2.15h-2.15zM105.3 136.1h2.15v2.15h-2.15zM107.3 136.1h2.15v2.15h-2.15zM115.5 136.1h2.15v2.15h-2.15zM117.6 136.1h2.15v2.15h-2.15zM168.9 136.1h2.15v2.15h-2.15zM175.0 136.1h2.15v2.15h-2.15zM89.9 137.9h2.15v2.15h-2.15zM92.0 137.9h2.15v2.15h-2.15zM96.1 137.9h2.15v2.15h-2.15zM112.5 137.9h2.15v2.15h-2.15zM116.6 137.9h2.15v2.15h-2.15zM137.1 137.9h2.15v2.15h-2.15zM174.0 137.9h2.15v2.15h-2.15zM80.7 139.7h2.15v2.15h-2.15zM95.0 139.7h2.15v2.15h-2.15zM117.6 139.7h2.15v2.15h-2.15zM129.9 139.7h2.15v2.15h-2.15zM75.6 141.4h2.15v2.15h-2.15zM85.8 141.4h2.15v2.15h-2.15zM106.3 141.4h2.15v2.15h-2.15zM112.5 141.4h2.15v2.15h-2.15zM116.6 141.4h2.15v2.15h-2.15zM120.7 141.4h2.15v2.15h-2.15zM135.0 141.4h2.15v2.15h-2.15zM147.3 141.4h2.15v2.15h-2.15zM157.6 141.4h2.15v2.15h-2.15zM165.8 141.4h2.15v2.15h-2.15zM72.5 143.2h2.15v2.15h-2.15zM109.4 143.2h2.15v2.15h-2.15zM142.2 143.2h2.15v2.15h-2.15zM148.4 143.2h2.15v2.15h-2.15zM168.9 143.2h2.15v2.15h-2.15zM173.0 143.2h2.15v2.15h-2.15zM71.5 145.0h2.15v2.15h-2.15zM73.5 145.0h2.15v2.15h-2.15zM77.6 145.0h2.15v2.15h-2.15zM159.6 145.0h2.15v2.15h-2.15zM165.8 145.0h2.15v2.15h-2.15zM169.9 145.0h2.15v2.15h-2.15zM97.1 146.8h2.15v2.15h-2.15zM101.2 146.8h2.15v2.15h-2.15zM105.3 146.8h2.15v2.15h-2.15zM117.6 146.8h2.15v2.15h-2.15zM144.3 146.8h2.15v2.15h-2.15zM160.7 146.8h2.15v2.15h-2.15zM162.7 146.8h2.15v2.15h-2.15zM164.8 146.8h2.15v2.15h-2.15zM166.8 146.8h2.15v2.15h-2.15zM96.1 148.5h2.15v2.15h-2.15zM122.7 148.5h2.15v2.15h-2.15zM135.0 148.5h2.15v2.15h-2.15zM145.3 148.5h2.15v2.15h-2.15zM153.5 148.5h2.15v2.15h-2.15zM111.4 150.3h2.15v2.15h-2.15zM117.6 150.3h2.15v2.15h-2.15zM134.0 150.3h2.15v2.15h-2.15zM138.1 150.3h2.15v2.15h-2.15zM146.3 150.3h2.15v2.15h-2.15zM154.5 150.3h2.15v2.15h-2.15zM130.9 152.1h2.15v2.15h-2.15zM135.0 152.1h2.15v2.15h-2.15zM141.2 152.1h2.15v2.15h-2.15zM143.2 152.1h2.15v2.15h-2.15zM109.4 153.9h2.15v2.15h-2.15zM129.9 153.9h2.15v2.15h-2.15zM136.0 153.9h2.15v2.15h-2.15zM142.2 153.9h2.15v2.15h-2.15zM151.4 155.6h2.15v2.15h-2.15zM111.4 157.4h2.15v2.15h-2.15zM119.6 157.4h2.15v2.15h-2.15zM129.9 157.4h2.15v2.15h-2.15zM116.6 159.2h2.15v2.15h-2.15zM120.7 159.2h2.15v2.15h-2.15zM124.8 159.2h2.15v2.15h-2.15zM126.8 159.2h2.15v2.15h-2.15zM109.4 161.0h2.15v2.15h-2.15zM113.5 161.0h2.15v2.15h-2.15zM136.0 161.0h2.15v2.15h-2.15zM112.5 162.7h2.15v2.15h-2.15zM130.9 162.7h2.15v2.15h-2.15zM125.8 164.5h2.15v2.15h-2.15zM127.8 164.5h2.15v2.15h-2.15zM138.1 164.5h2.15v2.15h-2.15zM114.5 166.3h2.15v2.15h-2.15zM111.4 168.1h2.15v2.15h-2.15zM129.9 168.1h2.15v2.15h-2.15zM142.2 168.1h2.15v2.15h-2.15zM114.5 169.8h2.15v2.15h-2.15zM116.6 169.8h2.15v2.15h-2.15zM126.8 169.8h2.15v2.15h-2.15zM139.1 169.8h2.15v2.15h-2.15zM115.5 171.6h2.15v2.15h-2.15zM119.6 171.6h2.15v2.15h-2.15zM134.0 171.6h2.15v2.15h-2.15zM112.5 173.4h2.15v2.15h-2.15zM124.8 173.4h2.15v2.15h-2.15zM126.8 173.4h2.15v2.15h-2.15zM137.1 173.4h2.15v2.15h-2.15zM113.5 175.2h2.15v2.15h-2.15zM127.8 175.2h2.15v2.15h-2.15zM110.4 176.9h2.15v2.15h-2.15zM122.7 176.9h2.15v2.15h-2.15zM124.8 176.9h2.15v2.15h-2.15zM128.9 176.9h2.15v2.15h-2.15zM110.4 180.5h2.15v2.15h-2.15zM130.9 180.5h2.15v2.15h-2.15zM133.0 180.5h2.15v2.15h-2.15zM117.6 182.3h2.15v2.15h-2.15zM123.7 182.3h2.15v2.15h-2.15zM131.9 182.3h2.15v2.15h-2.15zM124.8 184.0h2.15v2.15h-2.15zM117.6 185.8h2.15v2.15h-2.15zM121.7 185.8h2.15v2.15h-2.15zM114.5 187.6h2.15v2.15h-2.15zM120.7 187.6h2.15v2.15h-2.15zM124.8 187.6h2.15v2.15h-2.15zM121.7 189.4h2.15v2.15h-2.15zM194.4 123.9h2.15v2.15h-2.15zM203.6 125.7h2.15v2.15h-2.15zM191.3 129.2h2.15v2.15h-2.15zM203.6 129.2h2.15v2.15h-2.15zM200.5 131.0h2.15v2.15h-2.15zM203.6 132.8h2.15v2.15h-2.15zM198.5 134.5h2.15v2.15h-2.15zM204.6 134.5h2.15v2.15h-2.15zM212.8 134.5h2.15v2.15h-2.15zM216.9 134.5h2.15v2.15h-2.15zM187.2 136.3h2.15v2.15h-2.15zM222.1 136.3h2.15v2.15h-2.15zM224.1 136.3h2.15v2.15h-2.15zM202.6 138.1h2.15v2.15h-2.15zM212.8 138.1h2.15v2.15h-2.15zM214.9 138.1h2.15v2.15h-2.15zM229.2 138.1h2.15v2.15h-2.15zM224.1 139.9h2.15v2.15h-2.15zM226.2 139.9h2.15v2.15h-2.15zM230.3 139.9h2.15v2.15h-2.15zM190.3 141.6h2.15v2.15h-2.15zM192.3 141.6h2.15v2.15h-2.15zM233.3 141.6h2.15v2.15h-2.15zM201.6 143.4h2.15v2.15h-2.15zM209.8 143.4h2.15v2.15h-2.15zM226.2 143.4h2.15v2.15h-2.15zM205.7 147.0h2.15v2.15h-2.15zM223.1 152.3h2.15v2.15h-2.15zM211.8 154.1h2.15v2.15h-2.15zM218.0 154.1h2.15v2.15h-2.15zM220.0 154.1h2.15v2.15h-2.15zM212.8 155.8h2.15v2.15h-2.15zM213.9 157.6h2.15v2.15h-2.15zM226.2 157.6h2.15v2.15h-2.15zM216.9 159.4h2.15v2.15h-2.15zM237.4 159.4h2.15v2.15h-2.15zM211.8 161.2h2.15v2.15h-2.15zM230.3 161.2h2.15v2.15h-2.15zM236.4 161.2h2.15v2.15h-2.15zM208.7 162.9h2.15v2.15h-2.15zM210.8 162.9h2.15v2.15h-2.15zM237.4 166.5h2.15v2.15h-2.15zM239.5 166.5h2.15v2.15h-2.15zM256.7 61.7h2.15v2.15h-2.15zM259.8 67.0h2.15v2.15h-2.15zM244.4 72.4h2.15v2.15h-2.15zM251.6 74.1h2.15v2.15h-2.15zM248.5 75.9h2.15v2.15h-2.15zM245.4 81.2h2.15v2.15h-2.15zM247.5 81.2h2.15v2.15h-2.15zM112.6 620.7h2.15v2.15h-2.15zM129.0 620.7h2.15v2.15h-2.15zM107.5 622.5h2.15v2.15h-2.15zM123.9 622.5h2.15v2.15h-2.15zM102.4 624.2h2.15v2.15h-2.15zM115.7 626.0h2.15v2.15h-2.15zM119.8 626.0h2.15v2.15h-2.15zM123.9 626.0h2.15v2.15h-2.15zM98.3 627.8h2.15v2.15h-2.15zM100.3 627.8h2.15v2.15h-2.15zM116.7 627.8h2.15v2.15h-2.15zM124.9 627.8h2.15v2.15h-2.15zM131.1 627.8h2.15v2.15h-2.15zM91.1 629.6h2.15v2.15h-2.15zM95.2 629.6h2.15v2.15h-2.15zM103.4 629.6h2.15v2.15h-2.15zM111.6 629.6h2.15v2.15h-2.15zM100.3 631.3h2.15v2.15h-2.15zM102.4 631.3h2.15v2.15h-2.15zM114.7 631.3h2.15v2.15h-2.15zM116.7 631.3h2.15v2.15h-2.15zM120.8 631.3h2.15v2.15h-2.15zM84.9 633.1h2.15v2.15h-2.15zM101.3 633.1h2.15v2.15h-2.15zM103.4 633.1h2.15v2.15h-2.15zM109.5 633.1h2.15v2.15h-2.15zM113.6 633.1h2.15v2.15h-2.15zM92.1 634.9h2.15v2.15h-2.15zM98.3 634.9h2.15v2.15h-2.15zM122.9 634.9h2.15v2.15h-2.15zM115.7 636.7h2.15v2.15h-2.15zM123.9 636.7h2.15v2.15h-2.15zM79.8 638.4h2.15v2.15h-2.15zM92.1 638.4h2.15v2.15h-2.15zM108.5 638.4h2.15v2.15h-2.15zM116.7 638.4h2.15v2.15h-2.15zM120.8 638.4h2.15v2.15h-2.15zM89.0 640.2h2.15v2.15h-2.15zM99.3 640.2h2.15v2.15h-2.15zM115.7 640.2h2.15v2.15h-2.15zM86.0 642.0h2.15v2.15h-2.15zM106.5 642.0h2.15v2.15h-2.15zM112.6 642.0h2.15v2.15h-2.15zM114.7 642.0h2.15v2.15h-2.15zM116.7 642.0h2.15v2.15h-2.15zM78.8 643.8h2.15v2.15h-2.15zM87.0 643.8h2.15v2.15h-2.15zM89.0 643.8h2.15v2.15h-2.15zM93.1 643.8h2.15v2.15h-2.15zM109.5 643.8h2.15v2.15h-2.15zM88.0 645.5h2.15v2.15h-2.15zM114.7 645.5h2.15v2.15h-2.15zM93.1 647.3h2.15v2.15h-2.15zM103.4 647.3h2.15v2.15h-2.15zM115.7 647.3h2.15v2.15h-2.15zM79.8 649.1h2.15v2.15h-2.15zM90.1 649.1h2.15v2.15h-2.15zM82.9 650.9h2.15v2.15h-2.15zM87.0 650.9h2.15v2.15h-2.15zM97.2 650.9h2.15v2.15h-2.15zM103.4 650.9h2.15v2.15h-2.15zM81.9 652.6h2.15v2.15h-2.15zM86.0 652.6h2.15v2.15h-2.15zM94.2 652.6h2.15v2.15h-2.15zM102.4 652.6h2.15v2.15h-2.15zM78.8 654.4h2.15v2.15h-2.15zM93.1 654.4h2.15v2.15h-2.15zM95.2 654.4h2.15v2.15h-2.15zM97.2 654.4h2.15v2.15h-2.15zM100.3 656.2h2.15v2.15h-2.15zM90.1 659.7h2.15v2.15h-2.15zM105.4 665.1h2.15v2.15h-2.15zM107.5 668.6h2.15v2.15h-2.15zM106.5 670.4h2.15v2.15h-2.15zM108.5 670.4h2.15v2.15h-2.15zM112.6 673.9h2.15v2.15h-2.15zM117.7 686.4h2.15v2.15h-2.15zM121.8 686.4h2.15v2.15h-2.15zM224.0 645.2h2.15v2.15h-2.15zM226.1 645.2h2.15v2.15h-2.15zM223.0 647.0h2.15v2.15h-2.15zM225.0 647.0h2.15v2.15h-2.15zM224.0 648.8h2.15v2.15h-2.15zM228.1 648.8h2.15v2.15h-2.15zM242.5 648.8h2.15v2.15h-2.15zM248.6 648.8h2.15v2.15h-2.15zM250.7 648.8h2.15v2.15h-2.15zM212.7 650.5h2.15v2.15h-2.15zM218.9 650.5h2.15v2.15h-2.15zM231.2 650.5h2.15v2.15h-2.15zM235.3 650.5h2.15v2.15h-2.15zM241.4 650.5h2.15v2.15h-2.15zM219.9 652.3h2.15v2.15h-2.15zM222.0 652.3h2.15v2.15h-2.15zM226.1 652.3h2.15v2.15h-2.15zM238.4 652.3h2.15v2.15h-2.15zM246.6 652.3h2.15v2.15h-2.15zM248.6 652.3h2.15v2.15h-2.15zM250.7 652.3h2.15v2.15h-2.15zM252.7 652.3h2.15v2.15h-2.15zM216.8 654.1h2.15v2.15h-2.15zM249.6 654.1h2.15v2.15h-2.15zM222.0 655.9h2.15v2.15h-2.15zM226.1 655.9h2.15v2.15h-2.15zM234.3 655.9h2.15v2.15h-2.15zM238.4 655.9h2.15v2.15h-2.15zM240.4 655.9h2.15v2.15h-2.15zM208.6 657.6h2.15v2.15h-2.15zM233.2 657.6h2.15v2.15h-2.15zM237.3 657.6h2.15v2.15h-2.15zM243.5 657.6h2.15v2.15h-2.15zM247.6 657.6h2.15v2.15h-2.15zM203.5 659.4h2.15v2.15h-2.15zM207.6 659.4h2.15v2.15h-2.15zM219.9 659.4h2.15v2.15h-2.15zM234.3 659.4h2.15v2.15h-2.15zM242.5 659.4h2.15v2.15h-2.15zM246.6 659.4h2.15v2.15h-2.15zM252.7 659.4h2.15v2.15h-2.15zM258.9 659.4h2.15v2.15h-2.15zM202.5 661.2h2.15v2.15h-2.15zM208.6 661.2h2.15v2.15h-2.15zM212.7 661.2h2.15v2.15h-2.15zM241.4 661.2h2.15v2.15h-2.15zM247.6 661.2h2.15v2.15h-2.15zM205.6 663.0h2.15v2.15h-2.15zM215.8 663.0h2.15v2.15h-2.15zM246.6 663.0h2.15v2.15h-2.15zM252.7 663.0h2.15v2.15h-2.15zM254.8 663.0h2.15v2.15h-2.15zM258.9 663.0h2.15v2.15h-2.15zM204.5 664.7h2.15v2.15h-2.15zM239.4 664.7h2.15v2.15h-2.15zM253.7 664.7h2.15v2.15h-2.15zM257.8 664.7h2.15v2.15h-2.15zM264.0 664.7h2.15v2.15h-2.15zM266.0 664.7h2.15v2.15h-2.15zM205.6 666.5h2.15v2.15h-2.15zM207.6 666.5h2.15v2.15h-2.15zM219.9 666.5h2.15v2.15h-2.15zM226.1 666.5h2.15v2.15h-2.15zM258.9 666.5h2.15v2.15h-2.15zM260.9 666.5h2.15v2.15h-2.15zM263.0 666.5h2.15v2.15h-2.15zM216.8 668.3h2.15v2.15h-2.15zM243.5 668.3h2.15v2.15h-2.15zM247.6 668.3h2.15v2.15h-2.15zM253.7 668.3h2.15v2.15h-2.15zM259.9 668.3h2.15v2.15h-2.15zM261.9 668.3h2.15v2.15h-2.15zM205.6 670.1h2.15v2.15h-2.15zM222.0 670.1h2.15v2.15h-2.15zM234.3 670.1h2.15v2.15h-2.15zM240.4 670.1h2.15v2.15h-2.15zM254.8 670.1h2.15v2.15h-2.15zM265.0 670.1h2.15v2.15h-2.15zM206.6 671.8h2.15v2.15h-2.15zM218.9 671.8h2.15v2.15h-2.15zM247.6 671.8h2.15v2.15h-2.15zM259.9 671.8h2.15v2.15h-2.15zM201.5 673.6h2.15v2.15h-2.15zM207.6 673.6h2.15v2.15h-2.15zM222.0 673.6h2.15v2.15h-2.15zM242.5 673.6h2.15v2.15h-2.15zM248.6 673.6h2.15v2.15h-2.15zM250.7 673.6h2.15v2.15h-2.15zM252.7 673.6h2.15v2.15h-2.15zM256.8 673.6h2.15v2.15h-2.15zM258.9 673.6h2.15v2.15h-2.15zM265.0 673.6h2.15v2.15h-2.15zM269.1 673.6h2.15v2.15h-2.15zM202.5 675.4h2.15v2.15h-2.15zM220.9 675.4h2.15v2.15h-2.15zM223.0 675.4h2.15v2.15h-2.15zM231.2 675.4h2.15v2.15h-2.15zM233.2 675.4h2.15v2.15h-2.15zM235.3 675.4h2.15v2.15h-2.15zM251.7 675.4h2.15v2.15h-2.15zM259.9 675.4h2.15v2.15h-2.15zM266.0 675.4h2.15v2.15h-2.15zM219.9 677.2h2.15v2.15h-2.15zM244.5 677.2h2.15v2.15h-2.15zM252.7 677.2h2.15v2.15h-2.15zM271.2 677.2h2.15v2.15h-2.15zM210.7 678.9h2.15v2.15h-2.15zM243.5 678.9h2.15v2.15h-2.15zM272.2 678.9h2.15v2.15h-2.15zM209.7 680.7h2.15v2.15h-2.15zM222.0 680.7h2.15v2.15h-2.15zM250.7 680.7h2.15v2.15h-2.15zM267.1 680.7h2.15v2.15h-2.15zM269.1 680.7h2.15v2.15h-2.15zM273.2 680.7h2.15v2.15h-2.15zM210.7 682.5h2.15v2.15h-2.15zM212.7 682.5h2.15v2.15h-2.15zM220.9 682.5h2.15v2.15h-2.15zM229.1 682.5h2.15v2.15h-2.15zM243.5 682.5h2.15v2.15h-2.15zM270.1 682.5h2.15v2.15h-2.15zM213.8 684.3h2.15v2.15h-2.15zM242.5 684.3h2.15v2.15h-2.15zM258.9 684.3h2.15v2.15h-2.15zM273.2 684.3h2.15v2.15h-2.15zM249.6 686.0h2.15v2.15h-2.15zM255.8 686.0h2.15v2.15h-2.15zM207.6 687.8h2.15v2.15h-2.15zM211.7 687.8h2.15v2.15h-2.15zM217.9 687.8h2.15v2.15h-2.15zM250.7 687.8h2.15v2.15h-2.15zM265.0 687.8h2.15v2.15h-2.15zM275.3 687.8h2.15v2.15h-2.15zM225.0 689.6h2.15v2.15h-2.15zM278.3 689.6h2.15v2.15h-2.15zM205.6 691.4h2.15v2.15h-2.15zM217.9 691.4h2.15v2.15h-2.15zM228.1 691.4h2.15v2.15h-2.15zM254.8 691.4h2.15v2.15h-2.15zM267.1 691.4h2.15v2.15h-2.15zM214.8 693.1h2.15v2.15h-2.15zM241.4 693.1h2.15v2.15h-2.15zM270.1 693.1h2.15v2.15h-2.15zM246.6 694.9h2.15v2.15h-2.15zM248.6 694.9h2.15v2.15h-2.15zM265.0 694.9h2.15v2.15h-2.15zM202.5 696.7h2.15v2.15h-2.15zM247.6 696.7h2.15v2.15h-2.15zM278.3 696.7h2.15v2.15h-2.15zM234.3 698.5h2.15v2.15h-2.15zM258.9 698.5h2.15v2.15h-2.15zM273.2 698.5h2.15v2.15h-2.15zM214.8 700.2h2.15v2.15h-2.15zM223.0 700.2h2.15v2.15h-2.15zM203.5 702.0h2.15v2.15h-2.15zM228.1 702.0h2.15v2.15h-2.15zM265.0 702.0h2.15v2.15h-2.15zM259.9 703.8h2.15v2.15h-2.15zM222.0 705.6h2.15v2.15h-2.15zM202.5 707.3h2.15v2.15h-2.15zM207.6 709.1h2.15v2.15h-2.15zM238.4 709.1h2.15v2.15h-2.15zM218.9 710.9h2.15v2.15h-2.15zM264.0 718.0h2.15v2.15h-2.15zM220.1 764.7h2.15v2.15h-2.15zM221.1 766.5h2.15v2.15h-2.15zM222.1 789.6h2.15v2.15h-2.15zM218.0 803.8h2.15v2.15h-2.15zM220.1 803.8h2.15v2.15h-2.15zM51.9 742.6h2.15v2.15h-2.15zM48.8 744.4h2.15v2.15h-2.15zM50.8 744.4h2.15v2.15h-2.15zM49.8 749.7h2.15v2.15h-2.15zM53.9 749.7h2.15v2.15h-2.15zM48.8 751.5h2.15v2.15h-2.15zM57.0 751.5h2.15v2.15h-2.15zM47.8 753.2h2.15v2.15h-2.15zM58.0 753.2h2.15v2.15h-2.15zM60.1 753.2h2.15v2.15h-2.15zM50.8 755.0h2.15v2.15h-2.15zM54.9 755.0h2.15v2.15h-2.15zM57.0 758.6h2.15v2.15h-2.15zM101.0 756.5h2.15v2.15h-2.15zM108.1 758.3h2.15v2.15h-2.15zM110.2 758.3h2.15v2.15h-2.15zM115.3 760.0h2.15v2.15h-2.15zM108.1 761.8h2.15v2.15h-2.15zM112.2 761.8h2.15v2.15h-2.15zM101.0 763.6h2.15v2.15h-2.15zM141.0 789.6h2.15v2.15h-2.15zM153.3 789.6h2.15v2.15h-2.15zM146.2 791.4h2.15v2.15h-2.15zM162.6 791.4h2.15v2.15h-2.15zM161.5 793.1h2.15v2.15h-2.15zM160.5 794.9h2.15v2.15h-2.15zM162.6 794.9h2.15v2.15h-2.15zM145.1 796.7h2.15v2.15h-2.15zM149.2 796.7h2.15v2.15h-2.15zM151.3 796.7h2.15v2.15h-2.15zM157.4 796.7h2.15v2.15h-2.15zM159.5 796.7h2.15v2.15h-2.15zM163.6 796.7h2.15v2.15h-2.15zM164.6 798.5h2.15v2.15h-2.15zM150.3 802.0h2.15v2.15h-2.15zM152.3 802.0h2.15v2.15h-2.15zM154.4 802.0h2.15v2.15h-2.15zM147.2 803.8h2.15v2.15h-2.15zM151.3 803.8h2.15v2.15h-2.15zM157.4 803.8h2.15v2.15h-2.15zM159.5 803.8h2.15v2.15h-2.15zM161.5 803.8h2.15v2.15h-2.15zM150.3 809.1h2.15v2.15h-2.15zM158.5 809.1h2.15v2.15h-2.15zM170.8 809.1h2.15v2.15h-2.15zM157.4 810.9h2.15v2.15h-2.15zM159.5 810.9h2.15v2.15h-2.15zM169.7 810.9h2.15v2.15h-2.15zM162.6 812.7h2.15v2.15h-2.15zM153.3 814.4h2.15v2.15h-2.15zM152.3 816.2h2.15v2.15h-2.15zM154.4 816.2h2.15v2.15h-2.15zM159.5 818.0h2.15v2.15h-2.15zM163.6 821.5h2.15v2.15h-2.15zM154.4 823.3h2.15v2.15h-2.15z"/>
<path fill="#eecbc2" d="M103.7 20.7h2.15v2.15h-2.15zM110.9 22.5h2.15v2.15h-2.15zM111.9 24.3h2.15v2.15h-2.15zM118.0 24.3h2.15v2.15h-2.15zM104.7 26.0h2.15v2.15h-2.15zM115.0 26.0h2.15v2.15h-2.15zM117.0 26.0h2.15v2.15h-2.15zM119.1 26.0h2.15v2.15h-2.15zM127.3 26.0h2.15v2.15h-2.15zM129.3 26.0h2.15v2.15h-2.15zM116.0 27.8h2.15v2.15h-2.15zM104.7 29.6h2.15v2.15h-2.15zM125.2 29.6h2.15v2.15h-2.15zM93.5 31.4h2.15v2.15h-2.15zM97.5 31.4h2.15v2.15h-2.15zM101.6 31.4h2.15v2.15h-2.15zM105.7 31.4h2.15v2.15h-2.15zM120.1 31.4h2.15v2.15h-2.15zM98.6 36.7h2.15v2.15h-2.15zM115.0 36.7h2.15v2.15h-2.15zM119.1 36.7h2.15v2.15h-2.15zM117.0 40.2h2.15v2.15h-2.15zM123.2 40.2h2.15v2.15h-2.15zM137.2 51.0h2.15v2.15h-2.15zM141.3 51.0h2.15v2.15h-2.15zM155.7 51.0h2.15v2.15h-2.15zM138.3 52.8h2.15v2.15h-2.15zM149.5 54.6h2.15v2.15h-2.15zM153.6 54.6h2.15v2.15h-2.15zM140.3 56.4h2.15v2.15h-2.15zM141.3 58.1h2.15v2.15h-2.15zM145.4 58.1h2.15v2.15h-2.15zM147.5 58.1h2.15v2.15h-2.15zM146.5 59.9h2.15v2.15h-2.15zM154.1 37.2h2.15v2.15h-2.15zM149.0 39.0h2.15v2.15h-2.15zM159.2 39.0h2.15v2.15h-2.15zM154.1 44.3h2.15v2.15h-2.15zM157.2 46.1h2.15v2.15h-2.15zM158.2 47.9h2.15v2.15h-2.15zM53.0 78.6h2.15v2.15h-2.15zM54.1 80.4h2.15v2.15h-2.15zM53.0 89.3h2.15v2.15h-2.15zM51.0 92.8h2.15v2.15h-2.15zM54.1 94.6h2.15v2.15h-2.15zM58.2 94.6h2.15v2.15h-2.15zM62.3 94.6h2.15v2.15h-2.15zM66.4 94.6h2.15v2.15h-2.15zM48.9 96.4h2.15v2.15h-2.15zM62.3 98.1h2.15v2.15h-2.15zM114.2 92.0h2.15v2.15h-2.15zM115.2 93.8h2.15v2.15h-2.15zM112.2 95.5h2.15v2.15h-2.15zM116.3 95.5h2.15v2.15h-2.15zM122.4 95.5h2.15v2.15h-2.15zM130.6 95.5h2.15v2.15h-2.15zM132.7 95.5h2.15v2.15h-2.15zM107.0 97.3h2.15v2.15h-2.15zM123.4 97.3h2.15v2.15h-2.15zM127.5 97.3h2.15v2.15h-2.15zM131.7 97.3h2.15v2.15h-2.15zM150.4 107.7h2.15v2.15h-2.15zM147.3 123.7h2.15v2.15h-2.15zM153.5 123.7h2.15v2.15h-2.15zM152.5 125.5h2.15v2.15h-2.15zM147.3 127.2h2.15v2.15h-2.15zM152.5 129.0h2.15v2.15h-2.15zM96.1 130.8h2.15v2.15h-2.15zM98.1 130.8h2.15v2.15h-2.15zM100.2 130.8h2.15v2.15h-2.15zM110.4 130.8h2.15v2.15h-2.15zM149.4 130.8h2.15v2.15h-2.15zM90.9 132.6h2.15v2.15h-2.15zM115.5 132.6h2.15v2.15h-2.15zM144.3 132.6h2.15v2.15h-2.15zM154.5 132.6h2.15v2.15h-2.15zM87.9 134.3h2.15v2.15h-2.15zM110.4 134.3h2.15v2.15h-2.15zM112.5 134.3h2.15v2.15h-2.15zM114.5 134.3h2.15v2.15h-2.15zM153.5 134.3h2.15v2.15h-2.15zM74.5 136.1h2.15v2.15h-2.15zM88.9 136.1h2.15v2.15h-2.15zM111.4 136.1h2.15v2.15h-2.15zM160.7 136.1h2.15v2.15h-2.15zM75.6 137.9h2.15v2.15h-2.15zM77.6 137.9h2.15v2.15h-2.15zM81.7 137.9h2.15v2.15h-2.15zM100.2 137.9h2.15v2.15h-2.15zM102.2 137.9h2.15v2.15h-2.15zM110.4 137.9h2.15v2.15h-2.15zM114.5 137.9h2.15v2.15h-2.15zM141.2 137.9h2.15v2.15h-2.15zM145.3 137.9h2.15v2.15h-2.15zM163.7 137.9h2.15v2.15h-2.15zM72.5 139.7h2.15v2.15h-2.15zM93.0 139.7h2.15v2.15h-2.15zM109.4 139.7h2.15v2.15h-2.15zM119.6 139.7h2.15v2.15h-2.15zM121.7 139.7h2.15v2.15h-2.15zM134.0 139.7h2.15v2.15h-2.15zM150.4 139.7h2.15v2.15h-2.15zM173.0 139.7h2.15v2.15h-2.15zM175.0 139.7h2.15v2.15h-2.15zM83.8 141.4h2.15v2.15h-2.15zM118.6 141.4h2.15v2.15h-2.15zM128.9 141.4h2.15v2.15h-2.15zM143.2 141.4h2.15v2.15h-2.15zM167.8 141.4h2.15v2.15h-2.15zM90.9 143.2h2.15v2.15h-2.15zM99.1 143.2h2.15v2.15h-2.15zM107.3 143.2h2.15v2.15h-2.15zM119.6 143.2h2.15v2.15h-2.15zM134.0 143.2h2.15v2.15h-2.15zM140.2 143.2h2.15v2.15h-2.15zM150.4 143.2h2.15v2.15h-2.15zM152.5 143.2h2.15v2.15h-2.15zM154.5 143.2h2.15v2.15h-2.15zM81.7 145.0h2.15v2.15h-2.15zM96.1 145.0h2.15v2.15h-2.15zM106.3 145.0h2.15v2.15h-2.15zM118.6 145.0h2.15v2.15h-2.15zM141.2 145.0h2.15v2.15h-2.15zM155.5 145.0h2.15v2.15h-2.15zM157.6 145.0h2.15v2.15h-2.15zM161.7 145.0h2.15v2.15h-2.15zM167.8 145.0h2.15v2.15h-2.15zM84.8 146.8h2.15v2.15h-2.15zM88.9 146.8h2.15v2.15h-2.15zM103.2 146.8h2.15v2.15h-2.15zM109.4 146.8h2.15v2.15h-2.15zM123.7 146.8h2.15v2.15h-2.15zM142.2 146.8h2.15v2.15h-2.15zM148.4 146.8h2.15v2.15h-2.15zM150.4 146.8h2.15v2.15h-2.15zM102.2 148.5h2.15v2.15h-2.15zM110.4 148.5h2.15v2.15h-2.15zM124.8 148.5h2.15v2.15h-2.15zM137.1 148.5h2.15v2.15h-2.15zM139.1 148.5h2.15v2.15h-2.15zM101.2 150.3h2.15v2.15h-2.15zM121.7 150.3h2.15v2.15h-2.15zM125.8 150.3h2.15v2.15h-2.15zM129.9 150.3h2.15v2.15h-2.15zM136.0 150.3h2.15v2.15h-2.15zM148.4 150.3h2.15v2.15h-2.15zM122.7 152.1h2.15v2.15h-2.15zM126.8 152.1h2.15v2.15h-2.15zM113.5 153.9h2.15v2.15h-2.15zM125.8 153.9h2.15v2.15h-2.15zM127.8 153.9h2.15v2.15h-2.15zM108.4 155.6h2.15v2.15h-2.15zM116.6 155.6h2.15v2.15h-2.15zM122.7 155.6h2.15v2.15h-2.15zM126.8 155.6h2.15v2.15h-2.15zM137.1 155.6h2.15v2.15h-2.15zM127.8 157.4h2.15v2.15h-2.15zM138.1 157.4h2.15v2.15h-2.15zM140.2 157.4h2.15v2.15h-2.15zM128.9 159.2h2.15v2.15h-2.15zM111.4 161.0h2.15v2.15h-2.15zM115.5 161.0h2.15v2.15h-2.15zM148.4 161.0h2.15v2.15h-2.15zM120.7 162.7h2.15v2.15h-2.15zM133.0 162.7h2.15v2.15h-2.15zM141.2 162.7h2.15v2.15h-2.15zM144.3 164.5h2.15v2.15h-2.15zM112.5 166.3h2.15v2.15h-2.15zM118.6 166.3h2.15v2.15h-2.15zM135.0 166.3h2.15v2.15h-2.15zM141.2 166.3h2.15v2.15h-2.15zM125.8 168.1h2.15v2.15h-2.15zM127.8 168.1h2.15v2.15h-2.15zM110.4 169.8h2.15v2.15h-2.15zM112.5 169.8h2.15v2.15h-2.15zM118.6 169.8h2.15v2.15h-2.15zM135.0 169.8h2.15v2.15h-2.15zM109.4 171.6h2.15v2.15h-2.15zM127.8 171.6h2.15v2.15h-2.15zM114.5 173.4h2.15v2.15h-2.15zM133.0 173.4h2.15v2.15h-2.15zM125.8 175.2h2.15v2.15h-2.15zM131.9 175.2h2.15v2.15h-2.15zM116.6 176.9h2.15v2.15h-2.15zM126.8 176.9h2.15v2.15h-2.15zM111.4 178.7h2.15v2.15h-2.15zM123.7 178.7h2.15v2.15h-2.15zM114.5 180.5h2.15v2.15h-2.15zM116.6 180.5h2.15v2.15h-2.15zM124.8 180.5h2.15v2.15h-2.15zM113.5 182.3h2.15v2.15h-2.15zM115.5 182.3h2.15v2.15h-2.15zM123.7 185.8h2.15v2.15h-2.15zM125.8 185.8h2.15v2.15h-2.15zM127.8 185.8h2.15v2.15h-2.15zM118.6 187.6h2.15v2.15h-2.15zM195.4 122.1h2.15v2.15h-2.15zM186.2 127.4h2.15v2.15h-2.15zM188.2 127.4h2.15v2.15h-2.15zM192.3 127.4h2.15v2.15h-2.15zM195.4 129.2h2.15v2.15h-2.15zM188.2 131.0h2.15v2.15h-2.15zM190.3 131.0h2.15v2.15h-2.15zM192.3 131.0h2.15v2.15h-2.15zM202.6 131.0h2.15v2.15h-2.15zM189.3 132.8h2.15v2.15h-2.15zM209.8 132.8h2.15v2.15h-2.15zM211.8 132.8h2.15v2.15h-2.15zM186.2 134.5h2.15v2.15h-2.15zM188.2 134.5h2.15v2.15h-2.15zM210.8 134.5h2.15v2.15h-2.15zM214.9 134.5h2.15v2.15h-2.15zM220.0 136.3h2.15v2.15h-2.15zM210.8 138.1h2.15v2.15h-2.15zM221.0 138.1h2.15v2.15h-2.15zM179.0 139.9h2.15v2.15h-2.15zM209.8 139.9h2.15v2.15h-2.15zM213.9 139.9h2.15v2.15h-2.15zM228.2 139.9h2.15v2.15h-2.15zM232.3 139.9h2.15v2.15h-2.15zM178.0 141.6h2.15v2.15h-2.15zM180.0 141.6h2.15v2.15h-2.15zM200.5 141.6h2.15v2.15h-2.15zM202.6 141.6h2.15v2.15h-2.15zM208.7 141.6h2.15v2.15h-2.15zM210.8 141.6h2.15v2.15h-2.15zM221.0 141.6h2.15v2.15h-2.15zM229.2 141.6h2.15v2.15h-2.15zM235.4 141.6h2.15v2.15h-2.15zM205.7 143.4h2.15v2.15h-2.15zM220.0 143.4h2.15v2.15h-2.15zM232.3 143.4h2.15v2.15h-2.15zM234.4 143.4h2.15v2.15h-2.15zM202.6 145.2h2.15v2.15h-2.15zM210.8 145.2h2.15v2.15h-2.15zM220.0 147.0h2.15v2.15h-2.15zM222.1 147.0h2.15v2.15h-2.15zM200.5 148.7h2.15v2.15h-2.15zM206.7 148.7h2.15v2.15h-2.15zM210.8 148.7h2.15v2.15h-2.15zM216.9 148.7h2.15v2.15h-2.15zM221.0 148.7h2.15v2.15h-2.15zM211.8 150.5h2.15v2.15h-2.15zM202.6 152.3h2.15v2.15h-2.15zM206.7 152.3h2.15v2.15h-2.15zM213.9 154.1h2.15v2.15h-2.15zM222.1 154.1h2.15v2.15h-2.15zM219.0 155.8h2.15v2.15h-2.15zM221.0 155.8h2.15v2.15h-2.15zM220.0 157.6h2.15v2.15h-2.15zM221.0 159.4h2.15v2.15h-2.15zM227.2 159.4h2.15v2.15h-2.15zM205.7 161.2h2.15v2.15h-2.15zM215.9 161.2h2.15v2.15h-2.15zM224.1 161.2h2.15v2.15h-2.15zM216.9 162.9h2.15v2.15h-2.15zM237.4 162.9h2.15v2.15h-2.15zM243.6 162.9h2.15v2.15h-2.15zM215.9 164.7h2.15v2.15h-2.15zM226.2 164.7h2.15v2.15h-2.15zM230.3 164.7h2.15v2.15h-2.15zM238.5 164.7h2.15v2.15h-2.15zM242.6 164.7h2.15v2.15h-2.15zM221.0 166.5h2.15v2.15h-2.15zM223.1 166.5h2.15v2.15h-2.15zM227.2 166.5h2.15v2.15h-2.15zM235.4 166.5h2.15v2.15h-2.15zM234.4 168.3h2.15v2.15h-2.15zM242.6 168.3h2.15v2.15h-2.15zM247.5 84.8h2.15v2.15h-2.15zM102.4 620.7h2.15v2.15h-2.15zM131.1 620.7h2.15v2.15h-2.15zM99.3 622.5h2.15v2.15h-2.15zM101.3 622.5h2.15v2.15h-2.15zM113.6 622.5h2.15v2.15h-2.15zM117.7 622.5h2.15v2.15h-2.15zM121.8 622.5h2.15v2.15h-2.15zM100.3 624.2h2.15v2.15h-2.15zM116.7 624.2h2.15v2.15h-2.15zM118.8 624.2h2.15v2.15h-2.15zM127.0 624.2h2.15v2.15h-2.15zM99.3 626.0h2.15v2.15h-2.15zM101.3 626.0h2.15v2.15h-2.15zM113.6 626.0h2.15v2.15h-2.15zM121.8 626.0h2.15v2.15h-2.15zM104.4 627.8h2.15v2.15h-2.15zM114.7 627.8h2.15v2.15h-2.15zM89.0 629.6h2.15v2.15h-2.15zM97.2 629.6h2.15v2.15h-2.15zM101.3 629.6h2.15v2.15h-2.15zM107.5 629.6h2.15v2.15h-2.15zM115.7 629.6h2.15v2.15h-2.15zM117.7 629.6h2.15v2.15h-2.15zM119.8 629.6h2.15v2.15h-2.15zM108.5 631.3h2.15v2.15h-2.15zM118.8 631.3h2.15v2.15h-2.15zM127.0 631.3h2.15v2.15h-2.15zM87.0 633.1h2.15v2.15h-2.15zM117.7 633.1h2.15v2.15h-2.15zM119.8 633.1h2.15v2.15h-2.15zM88.0 634.9h2.15v2.15h-2.15zM90.1 634.9h2.15v2.15h-2.15zM114.7 634.9h2.15v2.15h-2.15zM91.1 636.7h2.15v2.15h-2.15zM93.1 636.7h2.15v2.15h-2.15zM101.3 636.7h2.15v2.15h-2.15zM107.5 636.7h2.15v2.15h-2.15zM111.6 636.7h2.15v2.15h-2.15zM113.6 636.7h2.15v2.15h-2.15zM117.7 636.7h2.15v2.15h-2.15zM119.8 636.7h2.15v2.15h-2.15zM83.9 638.4h2.15v2.15h-2.15zM98.3 638.4h2.15v2.15h-2.15zM118.8 638.4h2.15v2.15h-2.15zM87.0 640.2h2.15v2.15h-2.15zM101.3 640.2h2.15v2.15h-2.15zM105.4 640.2h2.15v2.15h-2.15zM119.8 640.2h2.15v2.15h-2.15zM92.1 642.0h2.15v2.15h-2.15zM100.3 642.0h2.15v2.15h-2.15zM82.9 643.8h2.15v2.15h-2.15zM91.1 643.8h2.15v2.15h-2.15zM95.2 643.8h2.15v2.15h-2.15zM101.3 643.8h2.15v2.15h-2.15zM105.4 643.8h2.15v2.15h-2.15zM77.8 645.5h2.15v2.15h-2.15zM79.8 645.5h2.15v2.15h-2.15zM90.1 645.5h2.15v2.15h-2.15zM98.3 645.5h2.15v2.15h-2.15zM100.3 645.5h2.15v2.15h-2.15zM116.7 645.5h2.15v2.15h-2.15zM76.8 647.3h2.15v2.15h-2.15zM78.8 647.3h2.15v2.15h-2.15zM80.8 647.3h2.15v2.15h-2.15zM82.9 647.3h2.15v2.15h-2.15zM101.3 647.3h2.15v2.15h-2.15zM105.4 647.3h2.15v2.15h-2.15zM107.5 647.3h2.15v2.15h-2.15zM109.5 647.3h2.15v2.15h-2.15zM96.2 649.1h2.15v2.15h-2.15zM98.3 649.1h2.15v2.15h-2.15zM104.4 649.1h2.15v2.15h-2.15zM112.6 649.1h2.15v2.15h-2.15zM80.8 650.9h2.15v2.15h-2.15zM89.0 650.9h2.15v2.15h-2.15zM93.1 650.9h2.15v2.15h-2.15zM95.2 650.9h2.15v2.15h-2.15zM112.6 652.6h2.15v2.15h-2.15zM101.3 654.4h2.15v2.15h-2.15zM83.9 656.2h2.15v2.15h-2.15zM96.2 656.2h2.15v2.15h-2.15zM108.5 656.2h2.15v2.15h-2.15zM84.9 658.0h2.15v2.15h-2.15zM93.1 658.0h2.15v2.15h-2.15zM101.3 658.0h2.15v2.15h-2.15zM103.4 658.0h2.15v2.15h-2.15zM105.4 658.0h2.15v2.15h-2.15zM98.3 659.7h2.15v2.15h-2.15zM100.3 659.7h2.15v2.15h-2.15zM102.4 659.7h2.15v2.15h-2.15zM106.5 659.7h2.15v2.15h-2.15zM93.1 661.5h2.15v2.15h-2.15zM101.3 661.5h2.15v2.15h-2.15zM103.4 661.5h2.15v2.15h-2.15zM101.3 665.1h2.15v2.15h-2.15zM105.4 668.6h2.15v2.15h-2.15zM108.5 673.9h2.15v2.15h-2.15zM113.6 675.7h2.15v2.15h-2.15zM114.7 681.0h2.15v2.15h-2.15zM120.8 684.6h2.15v2.15h-2.15zM123.9 686.4h2.15v2.15h-2.15zM130.0 689.9h2.15v2.15h-2.15zM129.0 691.7h2.15v2.15h-2.15zM128.0 693.5h2.15v2.15h-2.15zM132.1 693.5h2.15v2.15h-2.15zM133.1 695.2h2.15v2.15h-2.15zM219.9 645.2h2.15v2.15h-2.15zM232.2 645.2h2.15v2.15h-2.15zM234.3 645.2h2.15v2.15h-2.15zM236.3 645.2h2.15v2.15h-2.15zM238.4 645.2h2.15v2.15h-2.15zM214.8 647.0h2.15v2.15h-2.15zM227.1 647.0h2.15v2.15h-2.15zM235.3 647.0h2.15v2.15h-2.15zM237.3 647.0h2.15v2.15h-2.15zM211.7 648.8h2.15v2.15h-2.15zM213.8 648.8h2.15v2.15h-2.15zM219.9 648.8h2.15v2.15h-2.15zM226.1 648.8h2.15v2.15h-2.15zM234.3 648.8h2.15v2.15h-2.15zM236.3 648.8h2.15v2.15h-2.15zM240.4 648.8h2.15v2.15h-2.15zM220.9 650.5h2.15v2.15h-2.15zM243.5 650.5h2.15v2.15h-2.15zM247.6 650.5h2.15v2.15h-2.15zM251.7 650.5h2.15v2.15h-2.15zM209.7 652.3h2.15v2.15h-2.15zM230.2 652.3h2.15v2.15h-2.15zM212.7 654.1h2.15v2.15h-2.15zM218.9 654.1h2.15v2.15h-2.15zM220.9 654.1h2.15v2.15h-2.15zM223.0 654.1h2.15v2.15h-2.15zM233.2 654.1h2.15v2.15h-2.15zM247.6 654.1h2.15v2.15h-2.15zM255.8 654.1h2.15v2.15h-2.15zM205.6 655.9h2.15v2.15h-2.15zM209.7 655.9h2.15v2.15h-2.15zM219.9 655.9h2.15v2.15h-2.15zM248.6 655.9h2.15v2.15h-2.15zM254.8 655.9h2.15v2.15h-2.15zM258.9 655.9h2.15v2.15h-2.15zM212.7 657.6h2.15v2.15h-2.15zM214.8 657.6h2.15v2.15h-2.15zM218.9 657.6h2.15v2.15h-2.15zM235.3 657.6h2.15v2.15h-2.15zM239.4 657.6h2.15v2.15h-2.15zM241.4 657.6h2.15v2.15h-2.15zM255.8 657.6h2.15v2.15h-2.15zM257.8 657.6h2.15v2.15h-2.15zM209.7 659.4h2.15v2.15h-2.15zM260.9 659.4h2.15v2.15h-2.15zM204.5 661.2h2.15v2.15h-2.15zM220.9 661.2h2.15v2.15h-2.15zM229.1 661.2h2.15v2.15h-2.15zM231.2 661.2h2.15v2.15h-2.15zM239.4 661.2h2.15v2.15h-2.15zM249.6 661.2h2.15v2.15h-2.15zM251.7 661.2h2.15v2.15h-2.15zM253.7 661.2h2.15v2.15h-2.15zM259.9 661.2h2.15v2.15h-2.15zM203.5 663.0h2.15v2.15h-2.15zM219.9 663.0h2.15v2.15h-2.15zM226.1 663.0h2.15v2.15h-2.15zM248.6 663.0h2.15v2.15h-2.15zM256.8 663.0h2.15v2.15h-2.15zM265.0 663.0h2.15v2.15h-2.15zM206.6 664.7h2.15v2.15h-2.15zM212.7 664.7h2.15v2.15h-2.15zM223.0 664.7h2.15v2.15h-2.15zM249.6 664.7h2.15v2.15h-2.15zM203.5 666.5h2.15v2.15h-2.15zM211.7 666.5h2.15v2.15h-2.15zM228.1 666.5h2.15v2.15h-2.15zM232.2 666.5h2.15v2.15h-2.15zM236.3 666.5h2.15v2.15h-2.15zM246.6 666.5h2.15v2.15h-2.15zM252.7 666.5h2.15v2.15h-2.15zM254.8 666.5h2.15v2.15h-2.15zM208.6 668.3h2.15v2.15h-2.15zM218.9 668.3h2.15v2.15h-2.15zM220.9 668.3h2.15v2.15h-2.15zM225.0 668.3h2.15v2.15h-2.15zM207.6 670.1h2.15v2.15h-2.15zM215.8 670.1h2.15v2.15h-2.15zM224.0 670.1h2.15v2.15h-2.15zM226.1 670.1h2.15v2.15h-2.15zM230.2 670.1h2.15v2.15h-2.15zM242.5 670.1h2.15v2.15h-2.15zM269.1 670.1h2.15v2.15h-2.15zM223.0 671.8h2.15v2.15h-2.15zM237.3 671.8h2.15v2.15h-2.15zM245.5 671.8h2.15v2.15h-2.15zM264.0 671.8h2.15v2.15h-2.15zM268.1 671.8h2.15v2.15h-2.15zM203.5 673.6h2.15v2.15h-2.15zM209.7 673.6h2.15v2.15h-2.15zM217.9 673.6h2.15v2.15h-2.15zM238.4 673.6h2.15v2.15h-2.15zM244.5 673.6h2.15v2.15h-2.15zM260.9 673.6h2.15v2.15h-2.15zM267.1 673.6h2.15v2.15h-2.15zM229.1 675.4h2.15v2.15h-2.15zM239.4 675.4h2.15v2.15h-2.15zM249.6 675.4h2.15v2.15h-2.15zM253.7 675.4h2.15v2.15h-2.15zM264.0 675.4h2.15v2.15h-2.15zM268.1 675.4h2.15v2.15h-2.15zM201.5 677.2h2.15v2.15h-2.15zM205.6 677.2h2.15v2.15h-2.15zM213.8 677.2h2.15v2.15h-2.15zM215.8 677.2h2.15v2.15h-2.15zM217.9 677.2h2.15v2.15h-2.15zM234.3 677.2h2.15v2.15h-2.15zM263.0 677.2h2.15v2.15h-2.15zM200.4 678.9h2.15v2.15h-2.15zM202.5 678.9h2.15v2.15h-2.15zM227.1 678.9h2.15v2.15h-2.15zM235.3 678.9h2.15v2.15h-2.15zM251.7 678.9h2.15v2.15h-2.15zM253.7 678.9h2.15v2.15h-2.15zM270.1 678.9h2.15v2.15h-2.15zM203.5 680.7h2.15v2.15h-2.15zM213.8 680.7h2.15v2.15h-2.15zM234.3 680.7h2.15v2.15h-2.15zM236.3 680.7h2.15v2.15h-2.15zM271.2 680.7h2.15v2.15h-2.15zM214.8 682.5h2.15v2.15h-2.15zM223.0 682.5h2.15v2.15h-2.15zM237.3 682.5h2.15v2.15h-2.15zM245.5 682.5h2.15v2.15h-2.15zM257.8 682.5h2.15v2.15h-2.15zM272.2 682.5h2.15v2.15h-2.15zM276.3 682.5h2.15v2.15h-2.15zM201.5 684.3h2.15v2.15h-2.15zM203.5 684.3h2.15v2.15h-2.15zM211.7 684.3h2.15v2.15h-2.15zM222.0 684.3h2.15v2.15h-2.15zM238.4 684.3h2.15v2.15h-2.15zM252.7 684.3h2.15v2.15h-2.15zM263.0 684.3h2.15v2.15h-2.15zM267.1 684.3h2.15v2.15h-2.15zM212.7 686.0h2.15v2.15h-2.15zM239.4 686.0h2.15v2.15h-2.15zM241.4 686.0h2.15v2.15h-2.15zM245.5 686.0h2.15v2.15h-2.15zM247.6 686.0h2.15v2.15h-2.15zM259.9 686.0h2.15v2.15h-2.15zM268.1 686.0h2.15v2.15h-2.15zM272.2 686.0h2.15v2.15h-2.15zM276.3 686.0h2.15v2.15h-2.15zM201.5 687.8h2.15v2.15h-2.15zM203.5 687.8h2.15v2.15h-2.15zM209.7 687.8h2.15v2.15h-2.15zM224.0 687.8h2.15v2.15h-2.15zM228.1 687.8h2.15v2.15h-2.15zM236.3 687.8h2.15v2.15h-2.15zM248.6 687.8h2.15v2.15h-2.15zM252.7 687.8h2.15v2.15h-2.15zM258.9 687.8h2.15v2.15h-2.15zM267.1 687.8h2.15v2.15h-2.15zM273.2 687.8h2.15v2.15h-2.15zM212.7 689.6h2.15v2.15h-2.15zM218.9 689.6h2.15v2.15h-2.15zM223.0 689.6h2.15v2.15h-2.15zM237.3 689.6h2.15v2.15h-2.15zM245.5 689.6h2.15v2.15h-2.15zM247.6 689.6h2.15v2.15h-2.15zM253.7 689.6h2.15v2.15h-2.15zM259.9 689.6h2.15v2.15h-2.15zM201.5 691.4h2.15v2.15h-2.15zM203.5 691.4h2.15v2.15h-2.15zM224.0 691.4h2.15v2.15h-2.15zM246.6 691.4h2.15v2.15h-2.15zM206.6 693.1h2.15v2.15h-2.15zM212.7 693.1h2.15v2.15h-2.15zM218.9 693.1h2.15v2.15h-2.15zM257.8 693.1h2.15v2.15h-2.15zM266.0 693.1h2.15v2.15h-2.15zM272.2 693.1h2.15v2.15h-2.15zM274.2 693.1h2.15v2.15h-2.15zM278.3 693.1h2.15v2.15h-2.15zM224.0 694.9h2.15v2.15h-2.15zM234.3 694.9h2.15v2.15h-2.15zM244.5 694.9h2.15v2.15h-2.15zM250.7 694.9h2.15v2.15h-2.15zM263.0 694.9h2.15v2.15h-2.15zM269.1 694.9h2.15v2.15h-2.15zM208.6 696.7h2.15v2.15h-2.15zM227.1 696.7h2.15v2.15h-2.15zM239.4 696.7h2.15v2.15h-2.15zM241.4 696.7h2.15v2.15h-2.15zM238.4 698.5h2.15v2.15h-2.15zM240.4 698.5h2.15v2.15h-2.15zM256.8 698.5h2.15v2.15h-2.15zM260.9 698.5h2.15v2.15h-2.15zM279.4 698.5h2.15v2.15h-2.15zM212.7 700.2h2.15v2.15h-2.15zM237.3 700.2h2.15v2.15h-2.15zM247.6 700.2h2.15v2.15h-2.15zM251.7 700.2h2.15v2.15h-2.15zM259.9 700.2h2.15v2.15h-2.15zM205.6 702.0h2.15v2.15h-2.15zM213.8 702.0h2.15v2.15h-2.15zM246.6 702.0h2.15v2.15h-2.15zM248.6 702.0h2.15v2.15h-2.15zM254.8 702.0h2.15v2.15h-2.15zM208.6 703.8h2.15v2.15h-2.15zM218.9 703.8h2.15v2.15h-2.15zM239.4 703.8h2.15v2.15h-2.15zM251.7 703.8h2.15v2.15h-2.15zM201.5 705.6h2.15v2.15h-2.15zM209.7 705.6h2.15v2.15h-2.15zM224.0 705.6h2.15v2.15h-2.15zM244.5 705.6h2.15v2.15h-2.15zM252.7 705.6h2.15v2.15h-2.15zM227.1 707.3h2.15v2.15h-2.15zM229.1 707.3h2.15v2.15h-2.15zM274.2 707.3h2.15v2.15h-2.15zM209.7 709.1h2.15v2.15h-2.15zM224.0 709.1h2.15v2.15h-2.15zM244.5 709.1h2.15v2.15h-2.15zM252.7 709.1h2.15v2.15h-2.15zM206.6 710.9h2.15v2.15h-2.15zM223.0 710.9h2.15v2.15h-2.15zM261.9 710.9h2.15v2.15h-2.15zM203.5 712.7h2.15v2.15h-2.15zM205.6 712.7h2.15v2.15h-2.15zM213.8 712.7h2.15v2.15h-2.15zM209.7 716.2h2.15v2.15h-2.15zM244.5 716.2h2.15v2.15h-2.15zM250.7 716.2h2.15v2.15h-2.15zM247.6 718.0h2.15v2.15h-2.15zM254.8 719.8h2.15v2.15h-2.15zM227.1 721.5h2.15v2.15h-2.15zM230.2 723.3h2.15v2.15h-2.15zM221.1 777.1h2.15v2.15h-2.15zM220.1 778.9h2.15v2.15h-2.15zM221.1 780.7h2.15v2.15h-2.15zM221.1 784.2h2.15v2.15h-2.15zM222.1 793.1h2.15v2.15h-2.15zM222.1 800.2h2.15v2.15h-2.15zM219.0 802.0h2.15v2.15h-2.15zM216.0 807.3h2.15v2.15h-2.15zM217.0 809.1h2.15v2.15h-2.15zM65.2 740.8h2.15v2.15h-2.15zM47.8 746.1h2.15v2.15h-2.15zM58.0 746.1h2.15v2.15h-2.15zM52.9 747.9h2.15v2.15h-2.15zM61.1 747.9h2.15v2.15h-2.15zM51.9 749.7h2.15v2.15h-2.15zM56.0 749.7h2.15v2.15h-2.15zM62.1 749.7h2.15v2.15h-2.15zM53.9 753.2h2.15v2.15h-2.15zM61.1 755.0h2.15v2.15h-2.15zM49.8 756.8h2.15v2.15h-2.15zM51.9 756.8h2.15v2.15h-2.15zM53.9 756.8h2.15v2.15h-2.15zM56.0 760.3h2.15v2.15h-2.15zM58.0 763.9h2.15v2.15h-2.15zM112.4 728.9h2.15v2.15h-2.15zM20.3 691.5h2.15v2.15h-2.15zM106.1 754.7h2.15v2.15h-2.15zM109.2 756.5h2.15v2.15h-2.15zM100.0 758.3h2.15v2.15h-2.15zM104.0 758.3h2.15v2.15h-2.15zM105.1 760.0h2.15v2.15h-2.15zM107.1 760.0h2.15v2.15h-2.15zM113.3 760.0h2.15v2.15h-2.15zM114.3 761.8h2.15v2.15h-2.15zM116.3 761.8h2.15v2.15h-2.15zM109.2 763.6h2.15v2.15h-2.15zM102.0 765.4h2.15v2.15h-2.15zM138.0 780.7h2.15v2.15h-2.15zM150.3 784.3h2.15v2.15h-2.15zM155.4 789.6h2.15v2.15h-2.15zM157.4 789.6h2.15v2.15h-2.15zM144.1 791.4h2.15v2.15h-2.15zM155.4 793.1h2.15v2.15h-2.15zM157.4 793.1h2.15v2.15h-2.15zM150.3 794.9h2.15v2.15h-2.15zM152.3 794.9h2.15v2.15h-2.15zM164.6 794.9h2.15v2.15h-2.15zM147.2 796.7h2.15v2.15h-2.15zM155.4 796.7h2.15v2.15h-2.15zM150.3 798.5h2.15v2.15h-2.15zM152.3 798.5h2.15v2.15h-2.15zM151.3 800.2h2.15v2.15h-2.15zM167.7 800.2h2.15v2.15h-2.15zM164.6 802.0h2.15v2.15h-2.15zM160.5 805.6h2.15v2.15h-2.15zM162.6 805.6h2.15v2.15h-2.15zM149.2 807.3h2.15v2.15h-2.15zM153.3 807.3h2.15v2.15h-2.15zM157.4 807.3h2.15v2.15h-2.15zM167.7 807.3h2.15v2.15h-2.15zM171.8 807.3h2.15v2.15h-2.15zM166.7 809.1h2.15v2.15h-2.15zM153.3 810.9h2.15v2.15h-2.15zM154.4 812.7h2.15v2.15h-2.15zM156.4 812.7h2.15v2.15h-2.15zM160.5 812.7h2.15v2.15h-2.15zM155.4 814.4h2.15v2.15h-2.15zM163.6 814.4h2.15v2.15h-2.15zM158.5 816.2h2.15v2.15h-2.15zM164.6 816.2h2.15v2.15h-2.15zM155.4 818.0h2.15v2.15h-2.15zM163.6 818.0h2.15v2.15h-2.15zM165.6 818.0h2.15v2.15h-2.15zM152.3 819.8h2.15v2.15h-2.15zM154.4 819.8h2.15v2.15h-2.15zM158.5 819.8h2.15v2.15h-2.15zM162.6 819.8h2.15v2.15h-2.15zM153.3 821.5h2.15v2.15h-2.15zM155.4 825.1h2.15v2.15h-2.15zM163.6 828.6h2.15v2.15h-2.15zM162.6 830.4h2.15v2.15h-2.15zM158.5 834.0h2.15v2.15h-2.15z"/>
<path fill="#eac1b6" d="M109.8 20.7h2.15v2.15h-2.15zM112.9 22.5h2.15v2.15h-2.15zM103.7 24.3h2.15v2.15h-2.15zM113.9 24.3h2.15v2.15h-2.15zM130.3 27.8h2.15v2.15h-2.15zM132.4 27.8h2.15v2.15h-2.15zM94.5 29.6h2.15v2.15h-2.15zM94.5 33.1h2.15v2.15h-2.15zM98.6 33.1h2.15v2.15h-2.15zM117.0 33.1h2.15v2.15h-2.15zM104.7 36.7h2.15v2.15h-2.15zM110.9 36.7h2.15v2.15h-2.15zM105.7 38.5h2.15v2.15h-2.15zM109.8 38.5h2.15v2.15h-2.15zM122.1 42.0h2.15v2.15h-2.15zM124.2 42.0h2.15v2.15h-2.15zM155.7 47.5h2.15v2.15h-2.15zM153.6 51.0h2.15v2.15h-2.15zM150.6 52.8h2.15v2.15h-2.15zM150.6 56.4h2.15v2.15h-2.15zM152.6 56.4h2.15v2.15h-2.15zM154.7 56.4h2.15v2.15h-2.15zM137.2 58.1h2.15v2.15h-2.15zM139.3 58.1h2.15v2.15h-2.15zM143.4 58.1h2.15v2.15h-2.15zM142.4 59.9h2.15v2.15h-2.15zM144.4 59.9h2.15v2.15h-2.15zM153.1 39.0h2.15v2.15h-2.15zM157.2 42.5h2.15v2.15h-2.15zM159.2 42.5h2.15v2.15h-2.15zM55.1 78.6h2.15v2.15h-2.15zM54.1 83.9h2.15v2.15h-2.15zM55.1 85.7h2.15v2.15h-2.15zM66.4 87.5h2.15v2.15h-2.15zM64.3 91.0h2.15v2.15h-2.15zM66.4 91.0h2.15v2.15h-2.15zM48.9 92.8h2.15v2.15h-2.15zM59.2 92.8h2.15v2.15h-2.15zM47.9 94.6h2.15v2.15h-2.15zM52.0 94.6h2.15v2.15h-2.15zM55.1 96.4h2.15v2.15h-2.15zM52.0 98.1h2.15v2.15h-2.15zM48.9 99.9h2.15v2.15h-2.15zM57.1 99.9h2.15v2.15h-2.15zM110.1 92.0h2.15v2.15h-2.15zM130.6 92.0h2.15v2.15h-2.15zM127.5 93.8h2.15v2.15h-2.15zM129.6 93.8h2.15v2.15h-2.15zM108.1 95.5h2.15v2.15h-2.15zM110.1 95.5h2.15v2.15h-2.15zM134.7 95.5h2.15v2.15h-2.15zM139.9 97.3h2.15v2.15h-2.15zM132.7 99.1h2.15v2.15h-2.15zM151.4 120.1h2.15v2.15h-2.15zM155.5 120.1h2.15v2.15h-2.15zM149.4 127.2h2.15v2.15h-2.15zM151.4 127.2h2.15v2.15h-2.15zM153.5 127.2h2.15v2.15h-2.15zM104.3 130.8h2.15v2.15h-2.15zM106.3 130.8h2.15v2.15h-2.15zM108.4 130.8h2.15v2.15h-2.15zM145.3 130.8h2.15v2.15h-2.15zM151.4 130.8h2.15v2.15h-2.15zM95.0 132.6h2.15v2.15h-2.15zM105.3 132.6h2.15v2.15h-2.15zM109.4 132.6h2.15v2.15h-2.15zM111.4 132.6h2.15v2.15h-2.15zM117.6 132.6h2.15v2.15h-2.15zM146.3 132.6h2.15v2.15h-2.15zM158.6 132.6h2.15v2.15h-2.15zM160.7 132.6h2.15v2.15h-2.15zM100.2 134.3h2.15v2.15h-2.15zM118.6 134.3h2.15v2.15h-2.15zM126.8 134.3h2.15v2.15h-2.15zM128.9 134.3h2.15v2.15h-2.15zM141.2 134.3h2.15v2.15h-2.15zM147.3 134.3h2.15v2.15h-2.15zM165.8 134.3h2.15v2.15h-2.15zM171.9 134.3h2.15v2.15h-2.15zM174.0 134.3h2.15v2.15h-2.15zM76.6 136.1h2.15v2.15h-2.15zM109.4 136.1h2.15v2.15h-2.15zM123.7 136.1h2.15v2.15h-2.15zM125.8 136.1h2.15v2.15h-2.15zM127.8 136.1h2.15v2.15h-2.15zM129.9 136.1h2.15v2.15h-2.15zM148.4 136.1h2.15v2.15h-2.15zM162.7 136.1h2.15v2.15h-2.15zM166.8 136.1h2.15v2.15h-2.15zM170.9 136.1h2.15v2.15h-2.15zM85.8 137.9h2.15v2.15h-2.15zM94.0 137.9h2.15v2.15h-2.15zM118.6 137.9h2.15v2.15h-2.15zM120.7 137.9h2.15v2.15h-2.15zM128.9 137.9h2.15v2.15h-2.15zM133.0 137.9h2.15v2.15h-2.15zM143.2 137.9h2.15v2.15h-2.15zM161.7 137.9h2.15v2.15h-2.15zM84.8 139.7h2.15v2.15h-2.15zM86.8 139.7h2.15v2.15h-2.15zM97.1 139.7h2.15v2.15h-2.15zM107.3 139.7h2.15v2.15h-2.15zM160.7 139.7h2.15v2.15h-2.15zM162.7 139.7h2.15v2.15h-2.15zM166.8 139.7h2.15v2.15h-2.15zM170.9 139.7h2.15v2.15h-2.15zM130.9 141.4h2.15v2.15h-2.15zM137.1 141.4h2.15v2.15h-2.15zM145.3 141.4h2.15v2.15h-2.15zM149.4 141.4h2.15v2.15h-2.15zM153.5 141.4h2.15v2.15h-2.15zM159.6 141.4h2.15v2.15h-2.15zM161.7 141.4h2.15v2.15h-2.15zM169.9 141.4h2.15v2.15h-2.15zM171.9 141.4h2.15v2.15h-2.15zM76.6 143.2h2.15v2.15h-2.15zM86.8 143.2h2.15v2.15h-2.15zM101.2 143.2h2.15v2.15h-2.15zM129.9 143.2h2.15v2.15h-2.15zM146.3 143.2h2.15v2.15h-2.15zM158.6 143.2h2.15v2.15h-2.15zM170.9 143.2h2.15v2.15h-2.15zM79.7 145.0h2.15v2.15h-2.15zM92.0 145.0h2.15v2.15h-2.15zM102.2 145.0h2.15v2.15h-2.15zM104.3 145.0h2.15v2.15h-2.15zM112.5 145.0h2.15v2.15h-2.15zM114.5 145.0h2.15v2.15h-2.15zM120.7 145.0h2.15v2.15h-2.15zM122.7 145.0h2.15v2.15h-2.15zM124.8 145.0h2.15v2.15h-2.15zM126.8 145.0h2.15v2.15h-2.15zM130.9 145.0h2.15v2.15h-2.15zM133.0 145.0h2.15v2.15h-2.15zM139.1 145.0h2.15v2.15h-2.15zM149.4 145.0h2.15v2.15h-2.15zM151.4 145.0h2.15v2.15h-2.15zM90.9 146.8h2.15v2.15h-2.15zM121.7 146.8h2.15v2.15h-2.15zM138.1 146.8h2.15v2.15h-2.15zM152.5 146.8h2.15v2.15h-2.15zM94.0 148.5h2.15v2.15h-2.15zM106.3 148.5h2.15v2.15h-2.15zM108.4 148.5h2.15v2.15h-2.15zM112.5 148.5h2.15v2.15h-2.15zM118.6 148.5h2.15v2.15h-2.15zM149.4 148.5h2.15v2.15h-2.15zM159.6 148.5h2.15v2.15h-2.15zM105.3 150.3h2.15v2.15h-2.15zM142.2 150.3h2.15v2.15h-2.15zM108.4 152.1h2.15v2.15h-2.15zM110.4 152.1h2.15v2.15h-2.15zM118.6 152.1h2.15v2.15h-2.15zM139.1 152.1h2.15v2.15h-2.15zM147.3 152.1h2.15v2.15h-2.15zM119.6 153.9h2.15v2.15h-2.15zM138.1 153.9h2.15v2.15h-2.15zM148.4 153.9h2.15v2.15h-2.15zM118.6 155.6h2.15v2.15h-2.15zM133.0 155.6h2.15v2.15h-2.15zM141.2 155.6h2.15v2.15h-2.15zM147.3 155.6h2.15v2.15h-2.15zM121.7 157.4h2.15v2.15h-2.15zM134.0 157.4h2.15v2.15h-2.15zM136.0 157.4h2.15v2.15h-2.15zM142.2 157.4h2.15v2.15h-2.15zM112.5 159.2h2.15v2.15h-2.15zM133.0 159.2h2.15v2.15h-2.15zM135.0 159.2h2.15v2.15h-2.15zM139.1 159.2h2.15v2.15h-2.15zM143.2 159.2h2.15v2.15h-2.15zM145.3 159.2h2.15v2.15h-2.15zM121.7 161.0h2.15v2.15h-2.15zM123.7 161.0h2.15v2.15h-2.15zM131.9 161.0h2.15v2.15h-2.15zM146.3 161.0h2.15v2.15h-2.15zM110.4 162.7h2.15v2.15h-2.15zM126.8 162.7h2.15v2.15h-2.15zM139.1 162.7h2.15v2.15h-2.15zM145.3 162.7h2.15v2.15h-2.15zM115.5 164.5h2.15v2.15h-2.15zM119.6 164.5h2.15v2.15h-2.15zM121.7 164.5h2.15v2.15h-2.15zM123.7 164.5h2.15v2.15h-2.15zM136.0 164.5h2.15v2.15h-2.15zM140.2 164.5h2.15v2.15h-2.15zM142.2 164.5h2.15v2.15h-2.15zM126.8 166.3h2.15v2.15h-2.15zM137.1 166.3h2.15v2.15h-2.15zM113.5 168.1h2.15v2.15h-2.15zM117.6 168.1h2.15v2.15h-2.15zM133.0 169.8h2.15v2.15h-2.15zM113.5 171.6h2.15v2.15h-2.15zM123.7 171.6h2.15v2.15h-2.15zM129.9 171.6h2.15v2.15h-2.15zM110.4 173.4h2.15v2.15h-2.15zM109.4 175.2h2.15v2.15h-2.15zM115.5 175.2h2.15v2.15h-2.15zM121.7 175.2h2.15v2.15h-2.15zM123.7 175.2h2.15v2.15h-2.15zM112.5 176.9h2.15v2.15h-2.15zM114.5 176.9h2.15v2.15h-2.15zM133.0 176.9h2.15v2.15h-2.15zM129.9 178.7h2.15v2.15h-2.15zM134.0 178.7h2.15v2.15h-2.15zM112.5 180.5h2.15v2.15h-2.15zM120.7 180.5h2.15v2.15h-2.15zM122.7 180.5h2.15v2.15h-2.15zM121.7 182.3h2.15v2.15h-2.15zM114.5 184.0h2.15v2.15h-2.15zM118.6 184.0h2.15v2.15h-2.15zM122.7 184.0h2.15v2.15h-2.15zM115.5 185.8h2.15v2.15h-2.15zM116.6 187.6h2.15v2.15h-2.15zM199.5 122.1h2.15v2.15h-2.15zM198.5 123.9h2.15v2.15h-2.15zM202.6 123.9h2.15v2.15h-2.15zM204.6 123.9h2.15v2.15h-2.15zM197.5 125.7h2.15v2.15h-2.15zM201.6 125.7h2.15v2.15h-2.15zM205.7 125.7h2.15v2.15h-2.15zM190.3 127.4h2.15v2.15h-2.15zM198.5 127.4h2.15v2.15h-2.15zM183.1 129.2h2.15v2.15h-2.15zM189.3 129.2h2.15v2.15h-2.15zM193.4 129.2h2.15v2.15h-2.15zM199.5 129.2h2.15v2.15h-2.15zM196.4 131.0h2.15v2.15h-2.15zM206.7 131.0h2.15v2.15h-2.15zM183.1 132.8h2.15v2.15h-2.15zM185.2 132.8h2.15v2.15h-2.15zM195.4 132.8h2.15v2.15h-2.15zM197.5 132.8h2.15v2.15h-2.15zM178.0 134.5h2.15v2.15h-2.15zM206.7 134.5h2.15v2.15h-2.15zM219.0 134.5h2.15v2.15h-2.15zM189.3 136.3h2.15v2.15h-2.15zM203.6 136.3h2.15v2.15h-2.15zM207.7 136.3h2.15v2.15h-2.15zM218.0 136.3h2.15v2.15h-2.15zM198.5 138.1h2.15v2.15h-2.15zM219.0 138.1h2.15v2.15h-2.15zM225.1 138.1h2.15v2.15h-2.15zM187.2 139.9h2.15v2.15h-2.15zM191.3 139.9h2.15v2.15h-2.15zM193.4 139.9h2.15v2.15h-2.15zM197.5 139.9h2.15v2.15h-2.15zM199.5 139.9h2.15v2.15h-2.15zM211.8 139.9h2.15v2.15h-2.15zM218.0 139.9h2.15v2.15h-2.15zM220.0 139.9h2.15v2.15h-2.15zM204.6 141.6h2.15v2.15h-2.15zM189.3 143.4h2.15v2.15h-2.15zM203.6 143.4h2.15v2.15h-2.15zM222.1 143.4h2.15v2.15h-2.15zM224.1 143.4h2.15v2.15h-2.15zM206.7 145.2h2.15v2.15h-2.15zM219.0 145.2h2.15v2.15h-2.15zM221.0 145.2h2.15v2.15h-2.15zM223.1 145.2h2.15v2.15h-2.15zM227.2 145.2h2.15v2.15h-2.15zM233.3 145.2h2.15v2.15h-2.15zM207.7 147.0h2.15v2.15h-2.15zM209.8 147.0h2.15v2.15h-2.15zM224.1 147.0h2.15v2.15h-2.15zM202.6 148.7h2.15v2.15h-2.15zM204.6 148.7h2.15v2.15h-2.15zM208.7 148.7h2.15v2.15h-2.15zM208.7 152.3h2.15v2.15h-2.15zM214.9 152.3h2.15v2.15h-2.15zM209.8 154.1h2.15v2.15h-2.15zM204.6 155.8h2.15v2.15h-2.15zM208.7 155.8h2.15v2.15h-2.15zM223.1 155.8h2.15v2.15h-2.15zM214.9 159.4h2.15v2.15h-2.15zM229.2 159.4h2.15v2.15h-2.15zM231.3 159.4h2.15v2.15h-2.15zM235.4 159.4h2.15v2.15h-2.15zM207.7 161.2h2.15v2.15h-2.15zM228.2 161.2h2.15v2.15h-2.15zM232.3 161.2h2.15v2.15h-2.15zM221.0 162.9h2.15v2.15h-2.15zM227.2 162.9h2.15v2.15h-2.15zM222.1 164.7h2.15v2.15h-2.15zM234.4 164.7h2.15v2.15h-2.15zM240.5 164.7h2.15v2.15h-2.15zM231.3 166.5h2.15v2.15h-2.15zM241.5 166.5h2.15v2.15h-2.15zM228.2 168.3h2.15v2.15h-2.15zM239.3 70.6h2.15v2.15h-2.15zM109.5 618.9h2.15v2.15h-2.15zM119.8 618.9h2.15v2.15h-2.15zM123.9 618.9h2.15v2.15h-2.15zM108.5 620.7h2.15v2.15h-2.15zM118.8 620.7h2.15v2.15h-2.15zM128.0 622.5h2.15v2.15h-2.15zM132.1 622.5h2.15v2.15h-2.15zM105.4 626.0h2.15v2.15h-2.15zM107.5 626.0h2.15v2.15h-2.15zM90.1 627.8h2.15v2.15h-2.15zM92.1 627.8h2.15v2.15h-2.15zM94.2 627.8h2.15v2.15h-2.15zM106.5 627.8h2.15v2.15h-2.15zM118.8 627.8h2.15v2.15h-2.15zM122.9 627.8h2.15v2.15h-2.15zM129.0 627.8h2.15v2.15h-2.15zM93.1 629.6h2.15v2.15h-2.15zM99.3 629.6h2.15v2.15h-2.15zM105.4 629.6h2.15v2.15h-2.15zM121.8 629.6h2.15v2.15h-2.15zM92.1 631.3h2.15v2.15h-2.15zM94.2 631.3h2.15v2.15h-2.15zM96.2 631.3h2.15v2.15h-2.15zM98.3 631.3h2.15v2.15h-2.15zM104.4 631.3h2.15v2.15h-2.15zM99.3 633.1h2.15v2.15h-2.15zM111.6 633.1h2.15v2.15h-2.15zM94.2 634.9h2.15v2.15h-2.15zM96.2 634.9h2.15v2.15h-2.15zM104.4 634.9h2.15v2.15h-2.15zM106.5 634.9h2.15v2.15h-2.15zM108.5 634.9h2.15v2.15h-2.15zM118.8 634.9h2.15v2.15h-2.15zM89.0 636.7h2.15v2.15h-2.15zM94.2 638.4h2.15v2.15h-2.15zM102.4 638.4h2.15v2.15h-2.15zM104.4 638.4h2.15v2.15h-2.15zM106.5 638.4h2.15v2.15h-2.15zM84.9 640.2h2.15v2.15h-2.15zM95.2 640.2h2.15v2.15h-2.15zM97.2 640.2h2.15v2.15h-2.15zM107.5 640.2h2.15v2.15h-2.15zM121.8 640.2h2.15v2.15h-2.15zM79.8 642.0h2.15v2.15h-2.15zM90.1 642.0h2.15v2.15h-2.15zM94.2 642.0h2.15v2.15h-2.15zM111.6 643.8h2.15v2.15h-2.15zM117.7 643.8h2.15v2.15h-2.15zM94.2 645.5h2.15v2.15h-2.15zM96.2 645.5h2.15v2.15h-2.15zM104.4 645.5h2.15v2.15h-2.15zM97.2 647.3h2.15v2.15h-2.15zM113.6 647.3h2.15v2.15h-2.15zM106.5 649.1h2.15v2.15h-2.15zM84.9 650.9h2.15v2.15h-2.15zM105.4 650.9h2.15v2.15h-2.15zM109.5 650.9h2.15v2.15h-2.15zM111.6 650.9h2.15v2.15h-2.15zM77.8 652.6h2.15v2.15h-2.15zM83.9 652.6h2.15v2.15h-2.15zM82.9 654.4h2.15v2.15h-2.15zM84.9 654.4h2.15v2.15h-2.15zM105.4 654.4h2.15v2.15h-2.15zM81.9 656.2h2.15v2.15h-2.15zM94.2 656.2h2.15v2.15h-2.15zM107.5 658.0h2.15v2.15h-2.15zM86.0 659.7h2.15v2.15h-2.15zM88.0 659.7h2.15v2.15h-2.15zM104.4 659.7h2.15v2.15h-2.15zM106.5 663.3h2.15v2.15h-2.15zM108.5 663.3h2.15v2.15h-2.15zM110.6 670.4h2.15v2.15h-2.15zM111.6 672.2h2.15v2.15h-2.15zM112.6 677.5h2.15v2.15h-2.15zM115.7 679.3h2.15v2.15h-2.15zM119.8 686.4h2.15v2.15h-2.15zM122.9 688.1h2.15v2.15h-2.15zM124.9 688.1h2.15v2.15h-2.15zM121.8 689.9h2.15v2.15h-2.15zM123.9 689.9h2.15v2.15h-2.15zM133.1 691.7h2.15v2.15h-2.15zM134.1 693.5h2.15v2.15h-2.15zM232.2 648.8h2.15v2.15h-2.15zM246.6 648.8h2.15v2.15h-2.15zM210.7 650.5h2.15v2.15h-2.15zM229.1 650.5h2.15v2.15h-2.15zM239.4 650.5h2.15v2.15h-2.15zM207.6 652.3h2.15v2.15h-2.15zM215.8 652.3h2.15v2.15h-2.15zM208.6 654.1h2.15v2.15h-2.15zM231.2 654.1h2.15v2.15h-2.15zM237.3 654.1h2.15v2.15h-2.15zM241.4 654.1h2.15v2.15h-2.15zM243.5 654.1h2.15v2.15h-2.15zM203.5 655.9h2.15v2.15h-2.15zM211.7 655.9h2.15v2.15h-2.15zM215.8 655.9h2.15v2.15h-2.15zM242.5 655.9h2.15v2.15h-2.15zM250.7 655.9h2.15v2.15h-2.15zM252.7 655.9h2.15v2.15h-2.15zM229.1 657.6h2.15v2.15h-2.15zM245.5 657.6h2.15v2.15h-2.15zM253.7 657.6h2.15v2.15h-2.15zM259.9 657.6h2.15v2.15h-2.15zM230.2 659.4h2.15v2.15h-2.15zM256.8 659.4h2.15v2.15h-2.15zM206.6 661.2h2.15v2.15h-2.15zM210.7 661.2h2.15v2.15h-2.15zM225.0 661.2h2.15v2.15h-2.15zM237.3 661.2h2.15v2.15h-2.15zM211.7 663.0h2.15v2.15h-2.15zM217.9 663.0h2.15v2.15h-2.15zM236.3 663.0h2.15v2.15h-2.15zM244.5 663.0h2.15v2.15h-2.15zM263.0 663.0h2.15v2.15h-2.15zM208.6 664.7h2.15v2.15h-2.15zM229.1 664.7h2.15v2.15h-2.15zM233.2 664.7h2.15v2.15h-2.15zM235.3 664.7h2.15v2.15h-2.15zM237.3 664.7h2.15v2.15h-2.15zM251.7 664.7h2.15v2.15h-2.15zM261.9 664.7h2.15v2.15h-2.15zM209.7 666.5h2.15v2.15h-2.15zM215.8 666.5h2.15v2.15h-2.15zM222.0 666.5h2.15v2.15h-2.15zM234.3 666.5h2.15v2.15h-2.15zM240.4 666.5h2.15v2.15h-2.15zM206.6 668.3h2.15v2.15h-2.15zM210.7 668.3h2.15v2.15h-2.15zM227.1 668.3h2.15v2.15h-2.15zM245.5 668.3h2.15v2.15h-2.15zM257.8 668.3h2.15v2.15h-2.15zM201.5 670.1h2.15v2.15h-2.15zM203.5 670.1h2.15v2.15h-2.15zM219.9 670.1h2.15v2.15h-2.15zM228.1 670.1h2.15v2.15h-2.15zM236.3 670.1h2.15v2.15h-2.15zM238.4 670.1h2.15v2.15h-2.15zM252.7 670.1h2.15v2.15h-2.15zM204.5 671.8h2.15v2.15h-2.15zM212.7 671.8h2.15v2.15h-2.15zM214.8 671.8h2.15v2.15h-2.15zM216.8 671.8h2.15v2.15h-2.15zM220.9 671.8h2.15v2.15h-2.15zM235.3 671.8h2.15v2.15h-2.15zM241.4 671.8h2.15v2.15h-2.15zM243.5 671.8h2.15v2.15h-2.15zM257.8 671.8h2.15v2.15h-2.15zM215.8 673.6h2.15v2.15h-2.15zM228.1 673.6h2.15v2.15h-2.15zM232.2 673.6h2.15v2.15h-2.15zM246.6 673.6h2.15v2.15h-2.15zM200.4 675.4h2.15v2.15h-2.15zM204.5 675.4h2.15v2.15h-2.15zM206.6 675.4h2.15v2.15h-2.15zM214.8 675.4h2.15v2.15h-2.15zM218.9 675.4h2.15v2.15h-2.15zM225.0 675.4h2.15v2.15h-2.15zM227.1 675.4h2.15v2.15h-2.15zM243.5 675.4h2.15v2.15h-2.15zM247.6 675.4h2.15v2.15h-2.15zM261.9 675.4h2.15v2.15h-2.15zM270.1 675.4h2.15v2.15h-2.15zM203.5 677.2h2.15v2.15h-2.15zM207.6 677.2h2.15v2.15h-2.15zM209.7 677.2h2.15v2.15h-2.15zM224.0 677.2h2.15v2.15h-2.15zM230.2 677.2h2.15v2.15h-2.15zM232.2 677.2h2.15v2.15h-2.15zM238.4 677.2h2.15v2.15h-2.15zM246.6 677.2h2.15v2.15h-2.15zM254.8 677.2h2.15v2.15h-2.15zM256.8 677.2h2.15v2.15h-2.15zM258.9 677.2h2.15v2.15h-2.15zM273.2 677.2h2.15v2.15h-2.15zM206.6 678.9h2.15v2.15h-2.15zM208.6 678.9h2.15v2.15h-2.15zM212.7 678.9h2.15v2.15h-2.15zM220.9 678.9h2.15v2.15h-2.15zM223.0 678.9h2.15v2.15h-2.15zM225.0 678.9h2.15v2.15h-2.15zM229.1 678.9h2.15v2.15h-2.15zM231.2 678.9h2.15v2.15h-2.15zM245.5 678.9h2.15v2.15h-2.15zM249.6 678.9h2.15v2.15h-2.15zM264.0 678.9h2.15v2.15h-2.15zM268.1 678.9h2.15v2.15h-2.15zM274.2 678.9h2.15v2.15h-2.15zM201.5 680.7h2.15v2.15h-2.15zM205.6 680.7h2.15v2.15h-2.15zM217.9 680.7h2.15v2.15h-2.15zM230.2 680.7h2.15v2.15h-2.15zM232.2 680.7h2.15v2.15h-2.15zM238.4 680.7h2.15v2.15h-2.15zM244.5 680.7h2.15v2.15h-2.15zM252.7 680.7h2.15v2.15h-2.15zM254.8 680.7h2.15v2.15h-2.15zM263.0 680.7h2.15v2.15h-2.15zM265.0 680.7h2.15v2.15h-2.15zM204.5 682.5h2.15v2.15h-2.15zM233.2 682.5h2.15v2.15h-2.15zM235.3 682.5h2.15v2.15h-2.15zM249.6 682.5h2.15v2.15h-2.15zM259.9 682.5h2.15v2.15h-2.15zM274.2 682.5h2.15v2.15h-2.15zM219.9 684.3h2.15v2.15h-2.15zM226.1 684.3h2.15v2.15h-2.15zM234.3 684.3h2.15v2.15h-2.15zM244.5 684.3h2.15v2.15h-2.15zM260.9 684.3h2.15v2.15h-2.15zM269.1 684.3h2.15v2.15h-2.15zM275.3 684.3h2.15v2.15h-2.15zM206.6 686.0h2.15v2.15h-2.15zM208.6 686.0h2.15v2.15h-2.15zM214.8 686.0h2.15v2.15h-2.15zM227.1 686.0h2.15v2.15h-2.15zM233.2 686.0h2.15v2.15h-2.15zM235.3 686.0h2.15v2.15h-2.15zM257.8 686.0h2.15v2.15h-2.15zM215.8 687.8h2.15v2.15h-2.15zM232.2 687.8h2.15v2.15h-2.15zM246.6 687.8h2.15v2.15h-2.15zM254.8 687.8h2.15v2.15h-2.15zM263.0 687.8h2.15v2.15h-2.15zM202.5 689.6h2.15v2.15h-2.15zM210.7 689.6h2.15v2.15h-2.15zM214.8 689.6h2.15v2.15h-2.15zM216.8 689.6h2.15v2.15h-2.15zM229.1 689.6h2.15v2.15h-2.15zM231.2 689.6h2.15v2.15h-2.15zM235.3 689.6h2.15v2.15h-2.15zM241.4 689.6h2.15v2.15h-2.15zM243.5 689.6h2.15v2.15h-2.15zM270.1 689.6h2.15v2.15h-2.15zM207.6 691.4h2.15v2.15h-2.15zM219.9 691.4h2.15v2.15h-2.15zM242.5 691.4h2.15v2.15h-2.15zM250.7 691.4h2.15v2.15h-2.15zM260.9 691.4h2.15v2.15h-2.15zM265.0 691.4h2.15v2.15h-2.15zM202.5 693.1h2.15v2.15h-2.15zM216.8 693.1h2.15v2.15h-2.15zM223.0 693.1h2.15v2.15h-2.15zM225.0 693.1h2.15v2.15h-2.15zM233.2 693.1h2.15v2.15h-2.15zM235.3 693.1h2.15v2.15h-2.15zM243.5 693.1h2.15v2.15h-2.15zM245.5 693.1h2.15v2.15h-2.15zM249.6 693.1h2.15v2.15h-2.15zM264.0 693.1h2.15v2.15h-2.15zM268.1 693.1h2.15v2.15h-2.15zM201.5 694.9h2.15v2.15h-2.15zM205.6 694.9h2.15v2.15h-2.15zM211.7 694.9h2.15v2.15h-2.15zM217.9 694.9h2.15v2.15h-2.15zM226.1 694.9h2.15v2.15h-2.15zM238.4 694.9h2.15v2.15h-2.15zM240.4 694.9h2.15v2.15h-2.15zM256.8 694.9h2.15v2.15h-2.15zM258.9 694.9h2.15v2.15h-2.15zM260.9 694.9h2.15v2.15h-2.15zM277.3 694.9h2.15v2.15h-2.15zM210.7 696.7h2.15v2.15h-2.15zM212.7 696.7h2.15v2.15h-2.15zM231.2 696.7h2.15v2.15h-2.15zM235.3 696.7h2.15v2.15h-2.15zM245.5 696.7h2.15v2.15h-2.15zM274.2 696.7h2.15v2.15h-2.15zM280.4 696.7h2.15v2.15h-2.15zM217.9 698.5h2.15v2.15h-2.15zM248.6 698.5h2.15v2.15h-2.15zM250.7 698.5h2.15v2.15h-2.15zM267.1 698.5h2.15v2.15h-2.15zM220.9 700.2h2.15v2.15h-2.15zM225.0 700.2h2.15v2.15h-2.15zM229.1 700.2h2.15v2.15h-2.15zM231.2 700.2h2.15v2.15h-2.15zM235.3 700.2h2.15v2.15h-2.15zM239.4 700.2h2.15v2.15h-2.15zM243.5 700.2h2.15v2.15h-2.15zM253.7 700.2h2.15v2.15h-2.15zM268.1 700.2h2.15v2.15h-2.15zM276.3 700.2h2.15v2.15h-2.15zM209.7 702.0h2.15v2.15h-2.15zM217.9 702.0h2.15v2.15h-2.15zM263.0 702.0h2.15v2.15h-2.15zM206.6 703.8h2.15v2.15h-2.15zM223.0 703.8h2.15v2.15h-2.15zM231.2 703.8h2.15v2.15h-2.15zM247.6 703.8h2.15v2.15h-2.15zM274.2 703.8h2.15v2.15h-2.15zM248.6 705.6h2.15v2.15h-2.15zM250.7 705.6h2.15v2.15h-2.15zM260.9 705.6h2.15v2.15h-2.15zM263.0 705.6h2.15v2.15h-2.15zM271.2 705.6h2.15v2.15h-2.15zM273.2 705.6h2.15v2.15h-2.15zM210.7 707.3h2.15v2.15h-2.15zM245.5 707.3h2.15v2.15h-2.15zM251.7 707.3h2.15v2.15h-2.15zM255.8 707.3h2.15v2.15h-2.15zM270.1 707.3h2.15v2.15h-2.15zM205.6 709.1h2.15v2.15h-2.15zM232.2 709.1h2.15v2.15h-2.15zM240.4 709.1h2.15v2.15h-2.15zM271.2 709.1h2.15v2.15h-2.15zM202.5 710.9h2.15v2.15h-2.15zM208.6 710.9h2.15v2.15h-2.15zM231.2 710.9h2.15v2.15h-2.15zM241.4 710.9h2.15v2.15h-2.15zM243.5 710.9h2.15v2.15h-2.15zM266.0 710.9h2.15v2.15h-2.15zM207.6 712.7h2.15v2.15h-2.15zM209.7 712.7h2.15v2.15h-2.15zM222.0 712.7h2.15v2.15h-2.15zM232.2 712.7h2.15v2.15h-2.15zM263.0 712.7h2.15v2.15h-2.15zM218.9 714.4h2.15v2.15h-2.15zM247.6 714.4h2.15v2.15h-2.15zM266.0 714.4h2.15v2.15h-2.15zM211.7 716.2h2.15v2.15h-2.15zM228.1 716.2h2.15v2.15h-2.15zM232.2 716.2h2.15v2.15h-2.15zM220.9 718.0h2.15v2.15h-2.15zM239.4 718.0h2.15v2.15h-2.15zM217.9 719.8h2.15v2.15h-2.15zM258.9 719.8h2.15v2.15h-2.15zM210.7 721.5h2.15v2.15h-2.15zM212.7 721.5h2.15v2.15h-2.15zM211.7 723.3h2.15v2.15h-2.15zM216.8 725.1h2.15v2.15h-2.15zM222.1 782.5h2.15v2.15h-2.15zM220.1 796.7h2.15v2.15h-2.15zM221.1 798.4h2.15v2.15h-2.15zM219.0 805.5h2.15v2.15h-2.15zM218.0 807.3h2.15v2.15h-2.15zM54.9 740.8h2.15v2.15h-2.15zM57.0 740.8h2.15v2.15h-2.15zM73.4 740.8h2.15v2.15h-2.15zM49.8 742.6h2.15v2.15h-2.15zM58.0 742.6h2.15v2.15h-2.15zM60.1 742.6h2.15v2.15h-2.15zM56.0 746.1h2.15v2.15h-2.15zM48.8 747.9h2.15v2.15h-2.15zM58.0 749.7h2.15v2.15h-2.15zM57.0 755.0h2.15v2.15h-2.15zM59.0 755.0h2.15v2.15h-2.15zM56.0 756.8h2.15v2.15h-2.15zM60.1 756.8h2.15v2.15h-2.15zM52.9 758.6h2.15v2.15h-2.15zM54.9 758.6h2.15v2.15h-2.15zM51.9 760.3h2.15v2.15h-2.15zM58.0 760.3h2.15v2.15h-2.15zM54.9 762.1h2.15v2.15h-2.15zM57.0 762.1h2.15v2.15h-2.15zM108.3 721.8h2.15v2.15h-2.15zM103.0 760.0h2.15v2.15h-2.15zM103.0 763.6h2.15v2.15h-2.15zM107.1 763.6h2.15v2.15h-2.15zM104.0 768.9h2.15v2.15h-2.15zM108.1 768.9h2.15v2.15h-2.15zM145.1 786.0h2.15v2.15h-2.15zM147.2 786.0h2.15v2.15h-2.15zM140.0 787.8h2.15v2.15h-2.15zM150.3 787.8h2.15v2.15h-2.15zM156.4 787.8h2.15v2.15h-2.15zM143.1 789.6h2.15v2.15h-2.15zM159.5 789.6h2.15v2.15h-2.15zM160.5 791.4h2.15v2.15h-2.15zM163.6 793.1h2.15v2.15h-2.15zM146.2 794.9h2.15v2.15h-2.15zM162.6 798.5h2.15v2.15h-2.15zM168.7 798.5h2.15v2.15h-2.15zM149.2 800.2h2.15v2.15h-2.15zM155.4 800.2h2.15v2.15h-2.15zM163.6 800.2h2.15v2.15h-2.15zM165.6 800.2h2.15v2.15h-2.15zM160.5 802.0h2.15v2.15h-2.15zM162.6 802.0h2.15v2.15h-2.15zM166.7 802.0h2.15v2.15h-2.15zM169.7 803.8h2.15v2.15h-2.15zM156.4 805.6h2.15v2.15h-2.15zM166.7 805.6h2.15v2.15h-2.15zM163.6 807.3h2.15v2.15h-2.15zM165.6 807.3h2.15v2.15h-2.15zM160.5 809.1h2.15v2.15h-2.15zM168.7 812.7h2.15v2.15h-2.15zM170.8 812.7h2.15v2.15h-2.15zM161.5 818.0h2.15v2.15h-2.15zM167.7 818.0h2.15v2.15h-2.15zM156.4 826.9h2.15v2.15h-2.15zM155.4 828.6h2.15v2.15h-2.15z"/>
<path fill="#e6b6ab" d="M125.2 26.0h2.15v2.15h-2.15zM128.3 27.8h2.15v2.15h-2.15zM102.7 29.6h2.15v2.15h-2.15zM123.2 29.6h2.15v2.15h-2.15zM124.2 31.4h2.15v2.15h-2.15zM96.5 33.1h2.15v2.15h-2.15zM119.1 33.1h2.15v2.15h-2.15zM121.1 33.1h2.15v2.15h-2.15zM107.8 38.5h2.15v2.15h-2.15zM120.1 38.5h2.15v2.15h-2.15zM121.1 40.2h2.15v2.15h-2.15zM123.2 43.8h2.15v2.15h-2.15zM153.6 47.5h2.15v2.15h-2.15zM142.4 52.8h2.15v2.15h-2.15zM135.2 54.6h2.15v2.15h-2.15zM139.3 54.6h2.15v2.15h-2.15zM143.4 54.6h2.15v2.15h-2.15zM149.5 58.1h2.15v2.15h-2.15zM151.6 58.1h2.15v2.15h-2.15zM138.3 59.9h2.15v2.15h-2.15zM51.0 78.6h2.15v2.15h-2.15zM55.1 92.8h2.15v2.15h-2.15zM50.0 98.1h2.15v2.15h-2.15zM56.1 98.1h2.15v2.15h-2.15zM51.0 99.9h2.15v2.15h-2.15zM115.2 90.2h2.15v2.15h-2.15zM106.0 92.0h2.15v2.15h-2.15zM108.1 92.0h2.15v2.15h-2.15zM121.4 93.8h2.15v2.15h-2.15zM133.7 93.8h2.15v2.15h-2.15zM106.0 95.5h2.15v2.15h-2.15zM137.8 97.3h2.15v2.15h-2.15zM152.5 118.4h2.15v2.15h-2.15zM153.5 120.1h2.15v2.15h-2.15zM152.5 121.9h2.15v2.15h-2.15zM146.3 129.0h2.15v2.15h-2.15zM138.1 132.6h2.15v2.15h-2.15zM150.4 132.6h2.15v2.15h-2.15zM83.8 134.3h2.15v2.15h-2.15zM122.7 134.3h2.15v2.15h-2.15zM139.1 134.3h2.15v2.15h-2.15zM145.3 134.3h2.15v2.15h-2.15zM151.4 134.3h2.15v2.15h-2.15zM155.5 134.3h2.15v2.15h-2.15zM161.7 134.3h2.15v2.15h-2.15zM93.0 136.1h2.15v2.15h-2.15zM99.1 136.1h2.15v2.15h-2.15zM101.2 136.1h2.15v2.15h-2.15zM103.2 136.1h2.15v2.15h-2.15zM121.7 136.1h2.15v2.15h-2.15zM138.1 136.1h2.15v2.15h-2.15zM173.0 136.1h2.15v2.15h-2.15zM104.3 137.9h2.15v2.15h-2.15zM122.7 137.9h2.15v2.15h-2.15zM139.1 137.9h2.15v2.15h-2.15zM147.3 137.9h2.15v2.15h-2.15zM153.5 137.9h2.15v2.15h-2.15zM165.8 137.9h2.15v2.15h-2.15zM171.9 137.9h2.15v2.15h-2.15zM103.2 139.7h2.15v2.15h-2.15zM123.7 139.7h2.15v2.15h-2.15zM125.8 139.7h2.15v2.15h-2.15zM136.0 139.7h2.15v2.15h-2.15zM144.3 139.7h2.15v2.15h-2.15zM146.3 139.7h2.15v2.15h-2.15zM158.6 139.7h2.15v2.15h-2.15zM164.8 139.7h2.15v2.15h-2.15zM71.5 141.4h2.15v2.15h-2.15zM87.9 141.4h2.15v2.15h-2.15zM94.0 141.4h2.15v2.15h-2.15zM96.1 141.4h2.15v2.15h-2.15zM110.4 141.4h2.15v2.15h-2.15zM126.8 141.4h2.15v2.15h-2.15zM155.5 141.4h2.15v2.15h-2.15zM84.8 143.2h2.15v2.15h-2.15zM95.0 143.2h2.15v2.15h-2.15zM121.7 143.2h2.15v2.15h-2.15zM123.7 143.2h2.15v2.15h-2.15zM138.1 143.2h2.15v2.15h-2.15zM144.3 143.2h2.15v2.15h-2.15zM116.6 145.0h2.15v2.15h-2.15zM128.9 145.0h2.15v2.15h-2.15zM163.7 145.0h2.15v2.15h-2.15zM111.4 146.8h2.15v2.15h-2.15zM113.5 146.8h2.15v2.15h-2.15zM125.8 146.8h2.15v2.15h-2.15zM127.8 146.8h2.15v2.15h-2.15zM134.0 146.8h2.15v2.15h-2.15zM136.0 146.8h2.15v2.15h-2.15zM140.2 146.8h2.15v2.15h-2.15zM146.3 146.8h2.15v2.15h-2.15zM98.1 148.5h2.15v2.15h-2.15zM100.2 148.5h2.15v2.15h-2.15zM104.3 148.5h2.15v2.15h-2.15zM114.5 148.5h2.15v2.15h-2.15zM126.8 148.5h2.15v2.15h-2.15zM133.0 148.5h2.15v2.15h-2.15zM143.2 148.5h2.15v2.15h-2.15zM157.6 148.5h2.15v2.15h-2.15zM115.5 150.3h2.15v2.15h-2.15zM119.6 150.3h2.15v2.15h-2.15zM131.9 150.3h2.15v2.15h-2.15zM145.3 152.1h2.15v2.15h-2.15zM115.5 153.9h2.15v2.15h-2.15zM121.7 153.9h2.15v2.15h-2.15zM110.4 155.6h2.15v2.15h-2.15zM120.7 155.6h2.15v2.15h-2.15zM139.1 155.6h2.15v2.15h-2.15zM149.4 155.6h2.15v2.15h-2.15zM109.4 157.4h2.15v2.15h-2.15zM113.5 157.4h2.15v2.15h-2.15zM115.5 157.4h2.15v2.15h-2.15zM110.4 159.2h2.15v2.15h-2.15zM137.1 159.2h2.15v2.15h-2.15zM129.9 161.0h2.15v2.15h-2.15zM114.5 162.7h2.15v2.15h-2.15zM116.6 162.7h2.15v2.15h-2.15zM118.6 162.7h2.15v2.15h-2.15zM122.7 162.7h2.15v2.15h-2.15zM147.3 162.7h2.15v2.15h-2.15zM116.6 166.3h2.15v2.15h-2.15zM133.0 166.3h2.15v2.15h-2.15zM139.1 166.3h2.15v2.15h-2.15zM109.4 168.1h2.15v2.15h-2.15zM119.6 168.1h2.15v2.15h-2.15zM131.9 168.1h2.15v2.15h-2.15zM111.4 171.6h2.15v2.15h-2.15zM138.1 171.6h2.15v2.15h-2.15zM120.7 173.4h2.15v2.15h-2.15zM122.7 173.4h2.15v2.15h-2.15zM111.4 175.2h2.15v2.15h-2.15zM136.0 175.2h2.15v2.15h-2.15zM111.4 182.3h2.15v2.15h-2.15zM120.7 184.0h2.15v2.15h-2.15zM113.5 185.8h2.15v2.15h-2.15zM119.6 185.8h2.15v2.15h-2.15zM191.3 125.7h2.15v2.15h-2.15zM200.5 127.4h2.15v2.15h-2.15zM202.6 127.4h2.15v2.15h-2.15zM206.7 127.4h2.15v2.15h-2.15zM201.6 129.2h2.15v2.15h-2.15zM205.7 129.2h2.15v2.15h-2.15zM209.8 129.2h2.15v2.15h-2.15zM208.7 131.0h2.15v2.15h-2.15zM210.8 131.0h2.15v2.15h-2.15zM213.9 132.8h2.15v2.15h-2.15zM184.1 134.5h2.15v2.15h-2.15zM196.4 134.5h2.15v2.15h-2.15zM202.6 134.5h2.15v2.15h-2.15zM205.7 136.3h2.15v2.15h-2.15zM178.0 138.1h2.15v2.15h-2.15zM196.4 138.1h2.15v2.15h-2.15zM204.6 138.1h2.15v2.15h-2.15zM216.9 138.1h2.15v2.15h-2.15zM227.2 138.1h2.15v2.15h-2.15zM231.3 138.1h2.15v2.15h-2.15zM189.3 139.9h2.15v2.15h-2.15zM195.4 139.9h2.15v2.15h-2.15zM205.7 139.9h2.15v2.15h-2.15zM222.1 139.9h2.15v2.15h-2.15zM182.1 141.6h2.15v2.15h-2.15zM184.1 141.6h2.15v2.15h-2.15zM196.4 141.6h2.15v2.15h-2.15zM198.5 141.6h2.15v2.15h-2.15zM227.2 141.6h2.15v2.15h-2.15zM231.3 141.6h2.15v2.15h-2.15zM187.2 143.4h2.15v2.15h-2.15zM191.3 143.4h2.15v2.15h-2.15zM199.5 143.4h2.15v2.15h-2.15zM208.7 145.2h2.15v2.15h-2.15zM229.2 145.2h2.15v2.15h-2.15zM201.6 147.0h2.15v2.15h-2.15zM196.4 148.7h2.15v2.15h-2.15zM197.5 150.5h2.15v2.15h-2.15zM201.6 150.5h2.15v2.15h-2.15zM207.7 150.5h2.15v2.15h-2.15zM218.0 150.5h2.15v2.15h-2.15zM222.1 150.5h2.15v2.15h-2.15zM210.8 152.3h2.15v2.15h-2.15zM215.9 154.1h2.15v2.15h-2.15zM206.7 155.8h2.15v2.15h-2.15zM214.9 155.8h2.15v2.15h-2.15zM216.9 155.8h2.15v2.15h-2.15zM227.2 155.8h2.15v2.15h-2.15zM203.6 157.6h2.15v2.15h-2.15zM211.8 157.6h2.15v2.15h-2.15zM204.6 159.4h2.15v2.15h-2.15zM206.7 159.4h2.15v2.15h-2.15zM213.9 161.2h2.15v2.15h-2.15zM218.0 161.2h2.15v2.15h-2.15zM220.0 161.2h2.15v2.15h-2.15zM222.1 161.2h2.15v2.15h-2.15zM212.8 162.9h2.15v2.15h-2.15zM219.0 162.9h2.15v2.15h-2.15zM225.1 162.9h2.15v2.15h-2.15zM233.3 162.9h2.15v2.15h-2.15zM209.8 164.7h2.15v2.15h-2.15zM211.8 164.7h2.15v2.15h-2.15zM220.0 164.7h2.15v2.15h-2.15zM236.4 164.7h2.15v2.15h-2.15zM244.6 164.7h2.15v2.15h-2.15zM229.2 166.5h2.15v2.15h-2.15zM232.3 168.3h2.15v2.15h-2.15zM107.5 618.9h2.15v2.15h-2.15zM111.6 618.9h2.15v2.15h-2.15zM113.6 618.9h2.15v2.15h-2.15zM115.7 618.9h2.15v2.15h-2.15zM117.7 618.9h2.15v2.15h-2.15zM104.4 620.7h2.15v2.15h-2.15zM110.6 620.7h2.15v2.15h-2.15zM114.7 620.7h2.15v2.15h-2.15zM97.2 622.5h2.15v2.15h-2.15zM115.7 622.5h2.15v2.15h-2.15zM119.8 622.5h2.15v2.15h-2.15zM130.0 622.5h2.15v2.15h-2.15zM96.2 624.2h2.15v2.15h-2.15zM106.5 624.2h2.15v2.15h-2.15zM108.5 624.2h2.15v2.15h-2.15zM110.6 624.2h2.15v2.15h-2.15zM114.7 624.2h2.15v2.15h-2.15zM122.9 624.2h2.15v2.15h-2.15zM97.2 626.0h2.15v2.15h-2.15zM103.4 626.0h2.15v2.15h-2.15zM125.9 626.0h2.15v2.15h-2.15zM130.0 626.0h2.15v2.15h-2.15zM96.2 627.8h2.15v2.15h-2.15zM108.5 627.8h2.15v2.15h-2.15zM113.6 629.6h2.15v2.15h-2.15zM123.9 629.6h2.15v2.15h-2.15zM125.9 629.6h2.15v2.15h-2.15zM130.0 629.6h2.15v2.15h-2.15zM86.0 631.3h2.15v2.15h-2.15zM88.0 631.3h2.15v2.15h-2.15zM90.1 631.3h2.15v2.15h-2.15zM106.5 631.3h2.15v2.15h-2.15zM82.9 633.1h2.15v2.15h-2.15zM89.0 633.1h2.15v2.15h-2.15zM105.4 633.1h2.15v2.15h-2.15zM107.5 633.1h2.15v2.15h-2.15zM123.9 633.1h2.15v2.15h-2.15zM125.9 633.1h2.15v2.15h-2.15zM100.3 634.9h2.15v2.15h-2.15zM102.4 634.9h2.15v2.15h-2.15zM112.6 634.9h2.15v2.15h-2.15zM120.8 634.9h2.15v2.15h-2.15zM124.9 634.9h2.15v2.15h-2.15zM97.2 636.7h2.15v2.15h-2.15zM109.5 636.7h2.15v2.15h-2.15zM81.9 638.4h2.15v2.15h-2.15zM110.6 638.4h2.15v2.15h-2.15zM124.9 638.4h2.15v2.15h-2.15zM80.8 640.2h2.15v2.15h-2.15zM93.1 640.2h2.15v2.15h-2.15zM113.6 640.2h2.15v2.15h-2.15zM117.7 640.2h2.15v2.15h-2.15zM88.0 642.0h2.15v2.15h-2.15zM110.6 642.0h2.15v2.15h-2.15zM80.8 643.8h2.15v2.15h-2.15zM84.9 643.8h2.15v2.15h-2.15zM103.4 643.8h2.15v2.15h-2.15zM107.5 643.8h2.15v2.15h-2.15zM115.7 643.8h2.15v2.15h-2.15zM86.0 645.5h2.15v2.15h-2.15zM108.5 645.5h2.15v2.15h-2.15zM95.2 647.3h2.15v2.15h-2.15zM83.9 649.1h2.15v2.15h-2.15zM88.0 649.1h2.15v2.15h-2.15zM100.3 649.1h2.15v2.15h-2.15zM114.7 649.1h2.15v2.15h-2.15zM91.1 650.9h2.15v2.15h-2.15zM90.1 652.6h2.15v2.15h-2.15zM98.3 652.6h2.15v2.15h-2.15zM100.3 652.6h2.15v2.15h-2.15zM104.4 652.6h2.15v2.15h-2.15zM110.6 652.6h2.15v2.15h-2.15zM80.8 654.4h2.15v2.15h-2.15zM99.3 654.4h2.15v2.15h-2.15zM98.3 656.2h2.15v2.15h-2.15zM104.4 656.2h2.15v2.15h-2.15zM106.5 656.2h2.15v2.15h-2.15zM110.6 656.2h2.15v2.15h-2.15zM80.8 658.0h2.15v2.15h-2.15zM87.0 658.0h2.15v2.15h-2.15zM91.1 658.0h2.15v2.15h-2.15zM96.2 659.7h2.15v2.15h-2.15zM89.0 661.5h2.15v2.15h-2.15zM91.1 661.5h2.15v2.15h-2.15zM98.3 663.3h2.15v2.15h-2.15zM103.4 665.1h2.15v2.15h-2.15zM108.5 666.8h2.15v2.15h-2.15zM114.7 677.5h2.15v2.15h-2.15zM117.7 682.8h2.15v2.15h-2.15zM119.8 682.8h2.15v2.15h-2.15zM127.0 688.1h2.15v2.15h-2.15zM216.8 647.0h2.15v2.15h-2.15zM218.9 647.0h2.15v2.15h-2.15zM231.2 647.0h2.15v2.15h-2.15zM233.2 647.0h2.15v2.15h-2.15zM247.6 647.0h2.15v2.15h-2.15zM217.9 648.8h2.15v2.15h-2.15zM230.2 648.8h2.15v2.15h-2.15zM217.9 652.3h2.15v2.15h-2.15zM228.1 655.9h2.15v2.15h-2.15zM204.5 657.6h2.15v2.15h-2.15zM227.1 657.6h2.15v2.15h-2.15zM251.7 657.6h2.15v2.15h-2.15zM205.6 659.4h2.15v2.15h-2.15zM215.8 659.4h2.15v2.15h-2.15zM244.5 659.4h2.15v2.15h-2.15zM216.8 661.2h2.15v2.15h-2.15zM218.9 661.2h2.15v2.15h-2.15zM233.2 661.2h2.15v2.15h-2.15zM245.5 661.2h2.15v2.15h-2.15zM255.8 661.2h2.15v2.15h-2.15zM257.8 661.2h2.15v2.15h-2.15zM201.5 663.0h2.15v2.15h-2.15zM213.8 663.0h2.15v2.15h-2.15zM230.2 663.0h2.15v2.15h-2.15zM250.7 663.0h2.15v2.15h-2.15zM216.8 664.7h2.15v2.15h-2.15zM225.0 664.7h2.15v2.15h-2.15zM231.2 664.7h2.15v2.15h-2.15zM243.5 664.7h2.15v2.15h-2.15zM224.0 666.5h2.15v2.15h-2.15zM242.5 666.5h2.15v2.15h-2.15zM244.5 666.5h2.15v2.15h-2.15zM248.6 666.5h2.15v2.15h-2.15zM256.8 666.5h2.15v2.15h-2.15zM267.1 666.5h2.15v2.15h-2.15zM235.3 668.3h2.15v2.15h-2.15zM239.4 668.3h2.15v2.15h-2.15zM249.6 668.3h2.15v2.15h-2.15zM251.7 668.3h2.15v2.15h-2.15zM217.9 670.1h2.15v2.15h-2.15zM244.5 670.1h2.15v2.15h-2.15zM260.9 670.1h2.15v2.15h-2.15zM202.5 671.8h2.15v2.15h-2.15zM208.6 671.8h2.15v2.15h-2.15zM210.7 671.8h2.15v2.15h-2.15zM225.0 671.8h2.15v2.15h-2.15zM227.1 671.8h2.15v2.15h-2.15zM233.2 671.8h2.15v2.15h-2.15zM249.6 671.8h2.15v2.15h-2.15zM266.0 671.8h2.15v2.15h-2.15zM270.1 671.8h2.15v2.15h-2.15zM219.9 673.6h2.15v2.15h-2.15zM224.0 673.6h2.15v2.15h-2.15zM236.3 673.6h2.15v2.15h-2.15zM254.8 673.6h2.15v2.15h-2.15zM263.0 673.6h2.15v2.15h-2.15zM212.7 675.4h2.15v2.15h-2.15zM216.8 675.4h2.15v2.15h-2.15zM241.4 675.4h2.15v2.15h-2.15zM245.5 675.4h2.15v2.15h-2.15zM222.0 677.2h2.15v2.15h-2.15zM226.1 677.2h2.15v2.15h-2.15zM248.6 677.2h2.15v2.15h-2.15zM260.9 677.2h2.15v2.15h-2.15zM216.8 678.9h2.15v2.15h-2.15zM233.2 678.9h2.15v2.15h-2.15zM259.9 678.9h2.15v2.15h-2.15zM211.7 680.7h2.15v2.15h-2.15zM228.1 680.7h2.15v2.15h-2.15zM248.6 680.7h2.15v2.15h-2.15zM256.8 680.7h2.15v2.15h-2.15zM258.9 680.7h2.15v2.15h-2.15zM200.4 682.5h2.15v2.15h-2.15zM202.5 682.5h2.15v2.15h-2.15zM216.8 682.5h2.15v2.15h-2.15zM218.9 682.5h2.15v2.15h-2.15zM231.2 682.5h2.15v2.15h-2.15zM255.8 682.5h2.15v2.15h-2.15zM264.0 682.5h2.15v2.15h-2.15zM205.6 684.3h2.15v2.15h-2.15zM209.7 684.3h2.15v2.15h-2.15zM215.8 684.3h2.15v2.15h-2.15zM217.9 684.3h2.15v2.15h-2.15zM230.2 684.3h2.15v2.15h-2.15zM232.2 684.3h2.15v2.15h-2.15zM236.3 684.3h2.15v2.15h-2.15zM240.4 684.3h2.15v2.15h-2.15zM271.2 684.3h2.15v2.15h-2.15zM200.4 686.0h2.15v2.15h-2.15zM202.5 686.0h2.15v2.15h-2.15zM220.9 686.0h2.15v2.15h-2.15zM229.1 686.0h2.15v2.15h-2.15zM237.3 686.0h2.15v2.15h-2.15zM243.5 686.0h2.15v2.15h-2.15zM251.7 686.0h2.15v2.15h-2.15zM253.7 686.0h2.15v2.15h-2.15zM264.0 686.0h2.15v2.15h-2.15zM205.6 687.8h2.15v2.15h-2.15zM219.9 687.8h2.15v2.15h-2.15zM222.0 687.8h2.15v2.15h-2.15zM234.3 687.8h2.15v2.15h-2.15zM238.4 687.8h2.15v2.15h-2.15zM242.5 687.8h2.15v2.15h-2.15zM256.8 687.8h2.15v2.15h-2.15zM260.9 687.8h2.15v2.15h-2.15zM204.5 689.6h2.15v2.15h-2.15zM220.9 689.6h2.15v2.15h-2.15zM227.1 689.6h2.15v2.15h-2.15zM255.8 689.6h2.15v2.15h-2.15zM261.9 689.6h2.15v2.15h-2.15zM264.0 689.6h2.15v2.15h-2.15zM272.2 689.6h2.15v2.15h-2.15zM276.3 689.6h2.15v2.15h-2.15zM209.7 691.4h2.15v2.15h-2.15zM215.8 691.4h2.15v2.15h-2.15zM238.4 691.4h2.15v2.15h-2.15zM240.4 691.4h2.15v2.15h-2.15zM271.2 691.4h2.15v2.15h-2.15zM277.3 691.4h2.15v2.15h-2.15zM210.7 693.1h2.15v2.15h-2.15zM220.9 693.1h2.15v2.15h-2.15zM227.1 693.1h2.15v2.15h-2.15zM229.1 693.1h2.15v2.15h-2.15zM237.3 693.1h2.15v2.15h-2.15zM251.7 693.1h2.15v2.15h-2.15zM255.8 693.1h2.15v2.15h-2.15zM261.9 693.1h2.15v2.15h-2.15zM203.5 694.9h2.15v2.15h-2.15zM213.8 694.9h2.15v2.15h-2.15zM228.1 694.9h2.15v2.15h-2.15zM230.2 694.9h2.15v2.15h-2.15zM204.5 696.7h2.15v2.15h-2.15zM206.6 696.7h2.15v2.15h-2.15zM214.8 696.7h2.15v2.15h-2.15zM216.8 696.7h2.15v2.15h-2.15zM220.9 696.7h2.15v2.15h-2.15zM225.0 696.7h2.15v2.15h-2.15zM229.1 696.7h2.15v2.15h-2.15zM237.3 696.7h2.15v2.15h-2.15zM249.6 696.7h2.15v2.15h-2.15zM251.7 696.7h2.15v2.15h-2.15zM255.8 696.7h2.15v2.15h-2.15zM257.8 696.7h2.15v2.15h-2.15zM261.9 696.7h2.15v2.15h-2.15zM270.1 696.7h2.15v2.15h-2.15zM201.5 698.5h2.15v2.15h-2.15zM203.5 698.5h2.15v2.15h-2.15zM205.6 698.5h2.15v2.15h-2.15zM207.6 698.5h2.15v2.15h-2.15zM209.7 698.5h2.15v2.15h-2.15zM215.8 698.5h2.15v2.15h-2.15zM224.0 698.5h2.15v2.15h-2.15zM228.1 698.5h2.15v2.15h-2.15zM230.2 698.5h2.15v2.15h-2.15zM236.3 698.5h2.15v2.15h-2.15zM244.5 698.5h2.15v2.15h-2.15zM246.6 698.5h2.15v2.15h-2.15zM254.8 698.5h2.15v2.15h-2.15zM275.3 698.5h2.15v2.15h-2.15zM202.5 700.2h2.15v2.15h-2.15zM210.7 700.2h2.15v2.15h-2.15zM233.2 700.2h2.15v2.15h-2.15zM249.6 700.2h2.15v2.15h-2.15zM257.8 700.2h2.15v2.15h-2.15zM261.9 700.2h2.15v2.15h-2.15zM266.0 700.2h2.15v2.15h-2.15zM272.2 700.2h2.15v2.15h-2.15zM274.2 700.2h2.15v2.15h-2.15zM280.4 700.2h2.15v2.15h-2.15zM211.7 702.0h2.15v2.15h-2.15zM219.9 702.0h2.15v2.15h-2.15zM238.4 702.0h2.15v2.15h-2.15zM250.7 702.0h2.15v2.15h-2.15zM260.9 702.0h2.15v2.15h-2.15zM267.1 702.0h2.15v2.15h-2.15zM210.7 703.8h2.15v2.15h-2.15zM216.8 703.8h2.15v2.15h-2.15zM229.1 703.8h2.15v2.15h-2.15zM243.5 703.8h2.15v2.15h-2.15zM249.6 703.8h2.15v2.15h-2.15zM261.9 703.8h2.15v2.15h-2.15zM272.2 703.8h2.15v2.15h-2.15zM276.3 703.8h2.15v2.15h-2.15zM203.5 705.6h2.15v2.15h-2.15zM205.6 705.6h2.15v2.15h-2.15zM217.9 705.6h2.15v2.15h-2.15zM219.9 705.6h2.15v2.15h-2.15zM226.1 705.6h2.15v2.15h-2.15zM234.3 705.6h2.15v2.15h-2.15zM238.4 705.6h2.15v2.15h-2.15zM246.6 705.6h2.15v2.15h-2.15zM254.8 705.6h2.15v2.15h-2.15zM256.8 705.6h2.15v2.15h-2.15zM265.0 705.6h2.15v2.15h-2.15zM267.1 705.6h2.15v2.15h-2.15zM269.1 705.6h2.15v2.15h-2.15zM275.3 705.6h2.15v2.15h-2.15zM277.3 705.6h2.15v2.15h-2.15zM214.8 707.3h2.15v2.15h-2.15zM216.8 707.3h2.15v2.15h-2.15zM218.9 707.3h2.15v2.15h-2.15zM225.0 707.3h2.15v2.15h-2.15zM239.4 707.3h2.15v2.15h-2.15zM241.4 707.3h2.15v2.15h-2.15zM253.7 707.3h2.15v2.15h-2.15zM259.9 707.3h2.15v2.15h-2.15zM268.1 707.3h2.15v2.15h-2.15zM276.3 707.3h2.15v2.15h-2.15zM211.7 709.1h2.15v2.15h-2.15zM213.8 709.1h2.15v2.15h-2.15zM217.9 709.1h2.15v2.15h-2.15zM219.9 709.1h2.15v2.15h-2.15zM226.1 709.1h2.15v2.15h-2.15zM242.5 709.1h2.15v2.15h-2.15zM260.9 709.1h2.15v2.15h-2.15zM265.0 709.1h2.15v2.15h-2.15zM210.7 710.9h2.15v2.15h-2.15zM237.3 710.9h2.15v2.15h-2.15zM245.5 710.9h2.15v2.15h-2.15zM211.7 712.7h2.15v2.15h-2.15zM219.9 712.7h2.15v2.15h-2.15zM228.1 712.7h2.15v2.15h-2.15zM230.2 712.7h2.15v2.15h-2.15zM240.4 712.7h2.15v2.15h-2.15zM242.5 712.7h2.15v2.15h-2.15zM244.5 712.7h2.15v2.15h-2.15zM254.8 712.7h2.15v2.15h-2.15zM258.9 712.7h2.15v2.15h-2.15zM265.0 712.7h2.15v2.15h-2.15zM216.8 714.4h2.15v2.15h-2.15zM223.0 714.4h2.15v2.15h-2.15zM225.0 714.4h2.15v2.15h-2.15zM229.1 714.4h2.15v2.15h-2.15zM235.3 714.4h2.15v2.15h-2.15zM245.5 714.4h2.15v2.15h-2.15zM268.1 714.4h2.15v2.15h-2.15zM205.6 716.2h2.15v2.15h-2.15zM207.6 716.2h2.15v2.15h-2.15zM222.0 716.2h2.15v2.15h-2.15zM230.2 716.2h2.15v2.15h-2.15zM240.4 716.2h2.15v2.15h-2.15zM246.6 716.2h2.15v2.15h-2.15zM256.8 716.2h2.15v2.15h-2.15zM260.9 716.2h2.15v2.15h-2.15zM265.0 716.2h2.15v2.15h-2.15zM233.2 718.0h2.15v2.15h-2.15zM205.6 719.8h2.15v2.15h-2.15zM211.7 719.8h2.15v2.15h-2.15zM213.8 719.8h2.15v2.15h-2.15zM226.1 719.8h2.15v2.15h-2.15zM232.2 719.8h2.15v2.15h-2.15zM238.4 719.8h2.15v2.15h-2.15zM229.1 721.5h2.15v2.15h-2.15zM239.4 721.5h2.15v2.15h-2.15zM255.8 721.5h2.15v2.15h-2.15zM209.7 723.3h2.15v2.15h-2.15zM226.1 723.3h2.15v2.15h-2.15zM228.1 723.3h2.15v2.15h-2.15zM232.2 723.3h2.15v2.15h-2.15zM220.9 725.1h2.15v2.15h-2.15zM225.0 725.1h2.15v2.15h-2.15zM235.3 725.1h2.15v2.15h-2.15zM205.6 726.9h2.15v2.15h-2.15zM242.5 726.9h2.15v2.15h-2.15zM225.0 728.6h2.15v2.15h-2.15zM229.1 728.6h2.15v2.15h-2.15zM224.0 730.4h2.15v2.15h-2.15zM236.3 730.4h2.15v2.15h-2.15zM221.1 773.6h2.15v2.15h-2.15zM220.1 800.2h2.15v2.15h-2.15zM221.1 802.0h2.15v2.15h-2.15zM217.0 805.5h2.15v2.15h-2.15zM64.2 742.6h2.15v2.15h-2.15zM52.9 744.4h2.15v2.15h-2.15zM51.9 746.1h2.15v2.15h-2.15zM50.8 747.9h2.15v2.15h-2.15zM54.9 747.9h2.15v2.15h-2.15zM57.0 747.9h2.15v2.15h-2.15zM47.8 749.7h2.15v2.15h-2.15zM46.7 751.5h2.15v2.15h-2.15zM46.7 755.0h2.15v2.15h-2.15zM58.0 756.8h2.15v2.15h-2.15zM50.8 758.6h2.15v2.15h-2.15zM56.0 763.9h2.15v2.15h-2.15zM109.3 727.1h2.15v2.15h-2.15zM151.9 741.9h2.15v2.15h-2.15zM109.2 760.0h2.15v2.15h-2.15zM111.2 760.0h2.15v2.15h-2.15zM111.2 763.6h2.15v2.15h-2.15zM103.0 767.1h2.15v2.15h-2.15zM105.1 767.1h2.15v2.15h-2.15zM102.0 768.9h2.15v2.15h-2.15zM106.1 768.9h2.15v2.15h-2.15zM138.0 784.3h2.15v2.15h-2.15zM148.2 784.3h2.15v2.15h-2.15zM139.0 786.0h2.15v2.15h-2.15zM141.0 786.0h2.15v2.15h-2.15zM146.2 787.8h2.15v2.15h-2.15zM152.3 787.8h2.15v2.15h-2.15zM161.5 789.6h2.15v2.15h-2.15zM150.3 791.4h2.15v2.15h-2.15zM151.3 793.1h2.15v2.15h-2.15zM159.5 793.1h2.15v2.15h-2.15zM156.4 794.9h2.15v2.15h-2.15zM146.2 798.5h2.15v2.15h-2.15zM156.4 798.5h2.15v2.15h-2.15zM166.7 798.5h2.15v2.15h-2.15zM148.2 802.0h2.15v2.15h-2.15zM156.4 802.0h2.15v2.15h-2.15zM149.2 803.8h2.15v2.15h-2.15zM150.3 805.6h2.15v2.15h-2.15zM164.6 805.6h2.15v2.15h-2.15zM162.6 809.1h2.15v2.15h-2.15zM164.6 809.1h2.15v2.15h-2.15zM165.6 810.9h2.15v2.15h-2.15zM167.7 810.9h2.15v2.15h-2.15zM150.3 812.7h2.15v2.15h-2.15zM166.7 812.7h2.15v2.15h-2.15zM157.4 818.0h2.15v2.15h-2.15zM160.5 823.3h2.15v2.15h-2.15zM157.4 825.1h2.15v2.15h-2.15z"/>
<path fill="#e2ac9f" d="M151.6 47.5h2.15v2.15h-2.15zM128.0 49.3h2.15v2.15h-2.15zM130.1 49.3h2.15v2.15h-2.15zM152.6 49.3h2.15v2.15h-2.15zM131.1 51.0h2.15v2.15h-2.15zM139.3 51.0h2.15v2.15h-2.15zM140.3 52.8h2.15v2.15h-2.15zM154.7 52.8h2.15v2.15h-2.15zM137.2 54.6h2.15v2.15h-2.15zM155.7 54.6h2.15v2.15h-2.15zM136.2 56.4h2.15v2.15h-2.15zM140.3 59.9h2.15v2.15h-2.15zM53.0 82.2h2.15v2.15h-2.15zM56.1 83.9h2.15v2.15h-2.15zM50.0 91.0h2.15v2.15h-2.15zM52.0 91.0h2.15v2.15h-2.15zM50.0 94.6h2.15v2.15h-2.15zM54.1 98.1h2.15v2.15h-2.15zM53.0 99.9h2.15v2.15h-2.15zM111.1 93.8h2.15v2.15h-2.15zM104.0 95.5h2.15v2.15h-2.15zM133.7 97.3h2.15v2.15h-2.15zM134.7 99.1h2.15v2.15h-2.15zM151.4 116.6h2.15v2.15h-2.15zM150.4 118.4h2.15v2.15h-2.15zM149.4 120.1h2.15v2.15h-2.15zM150.4 125.5h2.15v2.15h-2.15zM113.5 132.6h2.15v2.15h-2.15zM152.5 132.6h2.15v2.15h-2.15zM164.8 132.6h2.15v2.15h-2.15zM130.9 134.3h2.15v2.15h-2.15zM169.9 134.3h2.15v2.15h-2.15zM119.6 136.1h2.15v2.15h-2.15zM140.2 136.1h2.15v2.15h-2.15zM150.4 136.1h2.15v2.15h-2.15zM158.6 136.1h2.15v2.15h-2.15zM164.8 136.1h2.15v2.15h-2.15zM124.8 137.9h2.15v2.15h-2.15zM126.8 137.9h2.15v2.15h-2.15zM130.9 137.9h2.15v2.15h-2.15zM135.0 137.9h2.15v2.15h-2.15zM76.6 139.7h2.15v2.15h-2.15zM156.6 139.7h2.15v2.15h-2.15zM89.9 141.4h2.15v2.15h-2.15zM98.1 141.4h2.15v2.15h-2.15zM104.3 141.4h2.15v2.15h-2.15zM114.5 141.4h2.15v2.15h-2.15zM141.2 141.4h2.15v2.15h-2.15zM151.4 141.4h2.15v2.15h-2.15zM125.8 143.2h2.15v2.15h-2.15zM136.0 143.2h2.15v2.15h-2.15zM160.7 143.2h2.15v2.15h-2.15zM166.8 143.2h2.15v2.15h-2.15zM135.0 145.0h2.15v2.15h-2.15zM137.1 145.0h2.15v2.15h-2.15zM143.2 145.0h2.15v2.15h-2.15zM119.6 146.8h2.15v2.15h-2.15zM151.4 148.5h2.15v2.15h-2.15zM123.7 150.3h2.15v2.15h-2.15zM133.0 152.1h2.15v2.15h-2.15zM151.4 152.1h2.15v2.15h-2.15zM111.4 153.9h2.15v2.15h-2.15zM117.6 153.9h2.15v2.15h-2.15zM134.0 153.9h2.15v2.15h-2.15zM144.3 153.9h2.15v2.15h-2.15zM128.9 155.6h2.15v2.15h-2.15zM130.9 155.6h2.15v2.15h-2.15zM141.2 159.2h2.15v2.15h-2.15zM149.4 159.2h2.15v2.15h-2.15zM119.6 161.0h2.15v2.15h-2.15zM140.2 161.0h2.15v2.15h-2.15zM144.3 161.0h2.15v2.15h-2.15zM143.2 162.7h2.15v2.15h-2.15zM117.6 164.5h2.15v2.15h-2.15zM125.8 171.6h2.15v2.15h-2.15zM119.6 178.7h2.15v2.15h-2.15zM187.2 125.7h2.15v2.15h-2.15zM185.2 129.2h2.15v2.15h-2.15zM184.1 131.0h2.15v2.15h-2.15zM179.0 132.8h2.15v2.15h-2.15zM187.2 132.8h2.15v2.15h-2.15zM191.3 132.8h2.15v2.15h-2.15zM192.3 134.5h2.15v2.15h-2.15zM208.7 134.5h2.15v2.15h-2.15zM191.3 136.3h2.15v2.15h-2.15zM195.4 136.3h2.15v2.15h-2.15zM201.6 136.3h2.15v2.15h-2.15zM180.0 138.1h2.15v2.15h-2.15zM188.2 138.1h2.15v2.15h-2.15zM192.3 138.1h2.15v2.15h-2.15zM200.5 138.1h2.15v2.15h-2.15zM206.7 138.1h2.15v2.15h-2.15zM185.2 139.9h2.15v2.15h-2.15zM234.4 139.9h2.15v2.15h-2.15zM188.2 141.6h2.15v2.15h-2.15zM207.7 143.4h2.15v2.15h-2.15zM192.3 145.2h2.15v2.15h-2.15zM196.4 145.2h2.15v2.15h-2.15zM204.6 145.2h2.15v2.15h-2.15zM231.3 145.2h2.15v2.15h-2.15zM198.5 148.7h2.15v2.15h-2.15zM203.6 150.5h2.15v2.15h-2.15zM205.7 150.5h2.15v2.15h-2.15zM213.9 150.5h2.15v2.15h-2.15zM200.5 152.3h2.15v2.15h-2.15zM219.0 152.3h2.15v2.15h-2.15zM226.2 154.1h2.15v2.15h-2.15zM202.6 155.8h2.15v2.15h-2.15zM229.2 155.8h2.15v2.15h-2.15zM209.8 157.6h2.15v2.15h-2.15zM215.9 157.6h2.15v2.15h-2.15zM230.3 157.6h2.15v2.15h-2.15zM208.7 159.4h2.15v2.15h-2.15zM212.8 159.4h2.15v2.15h-2.15zM219.0 159.4h2.15v2.15h-2.15zM225.1 166.5h2.15v2.15h-2.15zM233.3 166.5h2.15v2.15h-2.15zM127.0 620.7h2.15v2.15h-2.15zM98.3 624.2h2.15v2.15h-2.15zM131.1 624.2h2.15v2.15h-2.15zM117.7 626.0h2.15v2.15h-2.15zM127.0 627.8h2.15v2.15h-2.15zM109.5 629.6h2.15v2.15h-2.15zM122.9 631.3h2.15v2.15h-2.15zM124.9 631.3h2.15v2.15h-2.15zM129.0 631.3h2.15v2.15h-2.15zM110.6 634.9h2.15v2.15h-2.15zM80.8 636.7h2.15v2.15h-2.15zM105.4 636.7h2.15v2.15h-2.15zM90.1 638.4h2.15v2.15h-2.15zM100.3 638.4h2.15v2.15h-2.15zM112.6 638.4h2.15v2.15h-2.15zM103.4 640.2h2.15v2.15h-2.15zM109.5 640.2h2.15v2.15h-2.15zM111.6 640.2h2.15v2.15h-2.15zM98.3 642.0h2.15v2.15h-2.15zM104.4 642.0h2.15v2.15h-2.15zM108.5 642.0h2.15v2.15h-2.15zM99.3 643.8h2.15v2.15h-2.15zM102.4 645.5h2.15v2.15h-2.15zM77.8 649.1h2.15v2.15h-2.15zM81.9 649.1h2.15v2.15h-2.15zM86.0 649.1h2.15v2.15h-2.15zM92.1 649.1h2.15v2.15h-2.15zM102.4 649.1h2.15v2.15h-2.15zM110.6 649.1h2.15v2.15h-2.15zM76.8 650.9h2.15v2.15h-2.15zM99.3 650.9h2.15v2.15h-2.15zM101.3 650.9h2.15v2.15h-2.15zM106.5 652.6h2.15v2.15h-2.15zM91.1 654.4h2.15v2.15h-2.15zM103.4 654.4h2.15v2.15h-2.15zM107.5 654.4h2.15v2.15h-2.15zM109.5 654.4h2.15v2.15h-2.15zM88.0 656.2h2.15v2.15h-2.15zM89.0 658.0h2.15v2.15h-2.15zM97.2 658.0h2.15v2.15h-2.15zM97.2 661.5h2.15v2.15h-2.15zM99.3 661.5h2.15v2.15h-2.15zM105.4 661.5h2.15v2.15h-2.15zM107.5 661.5h2.15v2.15h-2.15zM100.3 663.3h2.15v2.15h-2.15zM104.4 663.3h2.15v2.15h-2.15zM107.5 665.1h2.15v2.15h-2.15zM102.4 666.8h2.15v2.15h-2.15zM111.6 675.7h2.15v2.15h-2.15zM115.7 682.8h2.15v2.15h-2.15zM118.8 684.6h2.15v2.15h-2.15zM128.0 689.9h2.15v2.15h-2.15zM131.1 691.7h2.15v2.15h-2.15zM239.4 647.0h2.15v2.15h-2.15zM222.0 648.8h2.15v2.15h-2.15zM223.0 650.5h2.15v2.15h-2.15zM244.5 652.3h2.15v2.15h-2.15zM214.8 654.1h2.15v2.15h-2.15zM225.0 654.1h2.15v2.15h-2.15zM236.3 655.9h2.15v2.15h-2.15zM256.8 655.9h2.15v2.15h-2.15zM254.8 659.4h2.15v2.15h-2.15zM261.9 661.2h2.15v2.15h-2.15zM264.0 661.2h2.15v2.15h-2.15zM214.8 664.7h2.15v2.15h-2.15zM245.5 664.7h2.15v2.15h-2.15zM238.4 666.5h2.15v2.15h-2.15zM268.1 668.3h2.15v2.15h-2.15zM246.6 670.1h2.15v2.15h-2.15zM248.6 670.1h2.15v2.15h-2.15zM230.2 673.6h2.15v2.15h-2.15zM234.3 673.6h2.15v2.15h-2.15zM271.2 673.6h2.15v2.15h-2.15zM210.7 675.4h2.15v2.15h-2.15zM237.3 675.4h2.15v2.15h-2.15zM255.8 675.4h2.15v2.15h-2.15zM272.2 675.4h2.15v2.15h-2.15zM228.1 677.2h2.15v2.15h-2.15zM265.0 677.2h2.15v2.15h-2.15zM204.5 678.9h2.15v2.15h-2.15zM214.8 678.9h2.15v2.15h-2.15zM218.9 678.9h2.15v2.15h-2.15zM255.8 678.9h2.15v2.15h-2.15zM266.0 678.9h2.15v2.15h-2.15zM219.9 680.7h2.15v2.15h-2.15zM226.1 680.7h2.15v2.15h-2.15zM240.4 680.7h2.15v2.15h-2.15zM242.5 680.7h2.15v2.15h-2.15zM246.6 680.7h2.15v2.15h-2.15zM275.3 680.7h2.15v2.15h-2.15zM239.4 682.5h2.15v2.15h-2.15zM241.4 682.5h2.15v2.15h-2.15zM253.7 682.5h2.15v2.15h-2.15zM207.6 684.3h2.15v2.15h-2.15zM224.0 684.3h2.15v2.15h-2.15zM228.1 684.3h2.15v2.15h-2.15zM248.6 684.3h2.15v2.15h-2.15zM254.8 684.3h2.15v2.15h-2.15zM223.0 686.0h2.15v2.15h-2.15zM225.0 686.0h2.15v2.15h-2.15zM231.2 686.0h2.15v2.15h-2.15zM266.0 686.0h2.15v2.15h-2.15zM226.1 687.8h2.15v2.15h-2.15zM271.2 687.8h2.15v2.15h-2.15zM206.6 689.6h2.15v2.15h-2.15zM251.7 689.6h2.15v2.15h-2.15zM274.2 689.6h2.15v2.15h-2.15zM211.7 691.4h2.15v2.15h-2.15zM226.1 691.4h2.15v2.15h-2.15zM232.2 691.4h2.15v2.15h-2.15zM236.3 691.4h2.15v2.15h-2.15zM248.6 691.4h2.15v2.15h-2.15zM263.0 691.4h2.15v2.15h-2.15zM204.5 693.1h2.15v2.15h-2.15zM247.6 693.1h2.15v2.15h-2.15zM253.7 693.1h2.15v2.15h-2.15zM209.7 694.9h2.15v2.15h-2.15zM215.8 694.9h2.15v2.15h-2.15zM219.9 694.9h2.15v2.15h-2.15zM236.3 694.9h2.15v2.15h-2.15zM242.5 694.9h2.15v2.15h-2.15zM252.7 694.9h2.15v2.15h-2.15zM273.2 694.9h2.15v2.15h-2.15zM275.3 694.9h2.15v2.15h-2.15zM279.4 694.9h2.15v2.15h-2.15zM272.2 696.7h2.15v2.15h-2.15zM219.9 698.5h2.15v2.15h-2.15zM226.1 698.5h2.15v2.15h-2.15zM252.7 698.5h2.15v2.15h-2.15zM265.0 698.5h2.15v2.15h-2.15zM271.2 698.5h2.15v2.15h-2.15zM277.3 698.5h2.15v2.15h-2.15zM208.6 700.2h2.15v2.15h-2.15zM255.8 700.2h2.15v2.15h-2.15zM270.1 700.2h2.15v2.15h-2.15zM278.3 700.2h2.15v2.15h-2.15zM201.5 702.0h2.15v2.15h-2.15zM215.8 702.0h2.15v2.15h-2.15zM222.0 702.0h2.15v2.15h-2.15zM224.0 702.0h2.15v2.15h-2.15zM226.1 702.0h2.15v2.15h-2.15zM230.2 702.0h2.15v2.15h-2.15zM240.4 702.0h2.15v2.15h-2.15zM242.5 702.0h2.15v2.15h-2.15zM244.5 702.0h2.15v2.15h-2.15zM220.9 703.8h2.15v2.15h-2.15zM225.0 703.8h2.15v2.15h-2.15zM227.1 703.8h2.15v2.15h-2.15zM235.3 703.8h2.15v2.15h-2.15zM237.3 703.8h2.15v2.15h-2.15zM241.4 703.8h2.15v2.15h-2.15zM253.7 703.8h2.15v2.15h-2.15zM255.8 703.8h2.15v2.15h-2.15zM264.0 703.8h2.15v2.15h-2.15zM266.0 703.8h2.15v2.15h-2.15zM211.7 705.6h2.15v2.15h-2.15zM213.8 705.6h2.15v2.15h-2.15zM228.1 705.6h2.15v2.15h-2.15zM230.2 705.6h2.15v2.15h-2.15zM240.4 705.6h2.15v2.15h-2.15zM279.4 705.6h2.15v2.15h-2.15zM204.5 707.3h2.15v2.15h-2.15zM220.9 707.3h2.15v2.15h-2.15zM223.0 707.3h2.15v2.15h-2.15zM231.2 707.3h2.15v2.15h-2.15zM237.3 707.3h2.15v2.15h-2.15zM257.8 707.3h2.15v2.15h-2.15zM261.9 707.3h2.15v2.15h-2.15zM264.0 707.3h2.15v2.15h-2.15zM266.0 707.3h2.15v2.15h-2.15zM215.8 709.1h2.15v2.15h-2.15zM222.0 709.1h2.15v2.15h-2.15zM230.2 709.1h2.15v2.15h-2.15zM246.6 709.1h2.15v2.15h-2.15zM256.8 709.1h2.15v2.15h-2.15zM263.0 709.1h2.15v2.15h-2.15zM225.0 710.9h2.15v2.15h-2.15zM229.1 710.9h2.15v2.15h-2.15zM235.3 710.9h2.15v2.15h-2.15zM259.9 710.9h2.15v2.15h-2.15zM270.1 710.9h2.15v2.15h-2.15zM217.9 712.7h2.15v2.15h-2.15zM224.0 712.7h2.15v2.15h-2.15zM248.6 712.7h2.15v2.15h-2.15zM256.8 712.7h2.15v2.15h-2.15zM267.1 712.7h2.15v2.15h-2.15zM206.6 714.4h2.15v2.15h-2.15zM208.6 714.4h2.15v2.15h-2.15zM212.7 714.4h2.15v2.15h-2.15zM227.1 714.4h2.15v2.15h-2.15zM237.3 714.4h2.15v2.15h-2.15zM239.4 714.4h2.15v2.15h-2.15zM241.4 714.4h2.15v2.15h-2.15zM243.5 714.4h2.15v2.15h-2.15zM249.6 714.4h2.15v2.15h-2.15zM251.7 714.4h2.15v2.15h-2.15zM253.7 714.4h2.15v2.15h-2.15zM255.8 714.4h2.15v2.15h-2.15zM257.8 714.4h2.15v2.15h-2.15zM270.1 714.4h2.15v2.15h-2.15zM272.2 714.4h2.15v2.15h-2.15zM217.9 716.2h2.15v2.15h-2.15zM219.9 716.2h2.15v2.15h-2.15zM234.3 716.2h2.15v2.15h-2.15zM242.5 716.2h2.15v2.15h-2.15zM248.6 716.2h2.15v2.15h-2.15zM204.5 718.0h2.15v2.15h-2.15zM210.7 718.0h2.15v2.15h-2.15zM214.8 718.0h2.15v2.15h-2.15zM216.8 718.0h2.15v2.15h-2.15zM218.9 718.0h2.15v2.15h-2.15zM235.3 718.0h2.15v2.15h-2.15zM241.4 718.0h2.15v2.15h-2.15zM251.7 718.0h2.15v2.15h-2.15zM255.8 718.0h2.15v2.15h-2.15zM257.8 718.0h2.15v2.15h-2.15zM209.7 719.8h2.15v2.15h-2.15zM215.8 719.8h2.15v2.15h-2.15zM219.9 719.8h2.15v2.15h-2.15zM222.0 719.8h2.15v2.15h-2.15zM224.0 719.8h2.15v2.15h-2.15zM228.1 719.8h2.15v2.15h-2.15zM230.2 719.8h2.15v2.15h-2.15zM234.3 719.8h2.15v2.15h-2.15zM248.6 719.8h2.15v2.15h-2.15zM206.6 721.5h2.15v2.15h-2.15zM218.9 721.5h2.15v2.15h-2.15zM220.9 721.5h2.15v2.15h-2.15zM235.3 721.5h2.15v2.15h-2.15zM249.6 721.5h2.15v2.15h-2.15zM251.7 721.5h2.15v2.15h-2.15zM207.6 723.3h2.15v2.15h-2.15zM215.8 723.3h2.15v2.15h-2.15zM222.0 723.3h2.15v2.15h-2.15zM224.0 723.3h2.15v2.15h-2.15zM244.5 723.3h2.15v2.15h-2.15zM204.5 725.1h2.15v2.15h-2.15zM210.7 725.1h2.15v2.15h-2.15zM214.8 725.1h2.15v2.15h-2.15zM233.2 725.1h2.15v2.15h-2.15zM237.3 725.1h2.15v2.15h-2.15zM241.4 725.1h2.15v2.15h-2.15zM247.6 725.1h2.15v2.15h-2.15zM215.8 726.9h2.15v2.15h-2.15zM230.2 726.9h2.15v2.15h-2.15zM233.2 728.6h2.15v2.15h-2.15zM241.4 728.6h2.15v2.15h-2.15zM211.7 730.4h2.15v2.15h-2.15zM213.8 730.4h2.15v2.15h-2.15zM219.9 730.4h2.15v2.15h-2.15zM220.1 768.3h2.15v2.15h-2.15zM220.1 782.5h2.15v2.15h-2.15zM220.1 786.0h2.15v2.15h-2.15zM221.1 791.3h2.15v2.15h-2.15zM223.1 798.4h2.15v2.15h-2.15zM87.7 726.6h2.15v2.15h-2.15zM84.7 731.9h2.15v2.15h-2.15zM67.2 740.8h2.15v2.15h-2.15zM53.9 742.6h2.15v2.15h-2.15zM56.0 742.6h2.15v2.15h-2.15zM59.0 744.4h2.15v2.15h-2.15zM48.8 755.0h2.15v2.15h-2.15zM59.0 758.6h2.15v2.15h-2.15zM108.3 725.3h2.15v2.15h-2.15zM114.3 758.3h2.15v2.15h-2.15zM110.2 761.8h2.15v2.15h-2.15zM108.1 765.4h2.15v2.15h-2.15zM107.1 767.1h2.15v2.15h-2.15zM144.1 784.3h2.15v2.15h-2.15zM151.3 786.0h2.15v2.15h-2.15zM153.3 786.0h2.15v2.15h-2.15zM144.1 787.8h2.15v2.15h-2.15zM145.1 789.6h2.15v2.15h-2.15zM151.3 789.6h2.15v2.15h-2.15zM154.4 791.4h2.15v2.15h-2.15zM153.3 793.1h2.15v2.15h-2.15zM144.1 794.9h2.15v2.15h-2.15zM153.3 796.7h2.15v2.15h-2.15zM167.7 796.7h2.15v2.15h-2.15zM147.2 800.2h2.15v2.15h-2.15zM153.3 803.8h2.15v2.15h-2.15zM151.3 810.9h2.15v2.15h-2.15zM152.3 812.7h2.15v2.15h-2.15zM166.7 816.2h2.15v2.15h-2.15z"/>
<path fill="#dda294" d="M117.0 22.5h2.15v2.15h-2.15zM154.7 45.7h2.15v2.15h-2.15zM129.0 47.5h2.15v2.15h-2.15zM135.2 51.0h2.15v2.15h-2.15zM149.5 51.0h2.15v2.15h-2.15zM151.6 51.0h2.15v2.15h-2.15zM130.1 52.8h2.15v2.15h-2.15zM134.2 52.8h2.15v2.15h-2.15zM136.2 52.8h2.15v2.15h-2.15zM133.1 54.6h2.15v2.15h-2.15zM147.5 54.6h2.15v2.15h-2.15zM151.6 54.6h2.15v2.15h-2.15zM134.2 56.4h2.15v2.15h-2.15zM144.4 56.4h2.15v2.15h-2.15zM146.5 56.4h2.15v2.15h-2.15zM148.0 37.2h2.15v2.15h-2.15zM53.0 92.8h2.15v2.15h-2.15zM53.0 96.4h2.15v2.15h-2.15zM63.3 96.4h2.15v2.15h-2.15zM105.0 93.8h2.15v2.15h-2.15zM107.0 93.8h2.15v2.15h-2.15zM162.7 114.8h2.15v2.15h-2.15zM154.5 118.4h2.15v2.15h-2.15zM147.3 130.8h2.15v2.15h-2.15zM155.5 130.8h2.15v2.15h-2.15zM148.4 132.6h2.15v2.15h-2.15zM156.6 132.6h2.15v2.15h-2.15zM137.1 134.3h2.15v2.15h-2.15zM84.8 136.1h2.15v2.15h-2.15zM131.9 136.1h2.15v2.15h-2.15zM142.2 136.1h2.15v2.15h-2.15zM144.3 136.1h2.15v2.15h-2.15zM154.5 136.1h2.15v2.15h-2.15zM149.4 137.9h2.15v2.15h-2.15zM151.4 137.9h2.15v2.15h-2.15zM127.8 139.7h2.15v2.15h-2.15zM138.1 139.7h2.15v2.15h-2.15zM168.9 139.7h2.15v2.15h-2.15zM122.7 141.4h2.15v2.15h-2.15zM163.7 141.4h2.15v2.15h-2.15zM82.7 143.2h2.15v2.15h-2.15zM111.4 143.2h2.15v2.15h-2.15zM113.5 143.2h2.15v2.15h-2.15zM131.9 143.2h2.15v2.15h-2.15zM87.9 145.0h2.15v2.15h-2.15zM89.9 145.0h2.15v2.15h-2.15zM129.9 146.8h2.15v2.15h-2.15zM120.7 148.5h2.15v2.15h-2.15zM130.9 148.5h2.15v2.15h-2.15zM141.2 148.5h2.15v2.15h-2.15zM140.2 150.3h2.15v2.15h-2.15zM106.3 152.1h2.15v2.15h-2.15zM128.9 152.1h2.15v2.15h-2.15zM131.9 153.9h2.15v2.15h-2.15zM146.3 153.9h2.15v2.15h-2.15zM114.5 155.6h2.15v2.15h-2.15zM123.7 157.4h2.15v2.15h-2.15zM144.3 157.4h2.15v2.15h-2.15zM142.2 161.0h2.15v2.15h-2.15zM143.2 166.3h2.15v2.15h-2.15zM135.0 173.4h2.15v2.15h-2.15zM119.6 175.2h2.15v2.15h-2.15zM200.5 123.9h2.15v2.15h-2.15zM193.4 125.7h2.15v2.15h-2.15zM195.4 125.7h2.15v2.15h-2.15zM204.6 127.4h2.15v2.15h-2.15zM207.7 129.2h2.15v2.15h-2.15zM186.2 131.0h2.15v2.15h-2.15zM198.5 131.0h2.15v2.15h-2.15zM190.3 134.5h2.15v2.15h-2.15zM194.4 134.5h2.15v2.15h-2.15zM181.1 136.3h2.15v2.15h-2.15zM183.1 136.3h2.15v2.15h-2.15zM185.2 136.3h2.15v2.15h-2.15zM193.4 136.3h2.15v2.15h-2.15zM182.1 138.1h2.15v2.15h-2.15zM194.4 138.1h2.15v2.15h-2.15zM183.1 139.9h2.15v2.15h-2.15zM194.4 141.6h2.15v2.15h-2.15zM225.1 141.6h2.15v2.15h-2.15zM193.4 143.4h2.15v2.15h-2.15zM195.4 143.4h2.15v2.15h-2.15zM198.5 145.2h2.15v2.15h-2.15zM195.4 147.0h2.15v2.15h-2.15zM219.0 148.7h2.15v2.15h-2.15zM209.8 150.5h2.15v2.15h-2.15zM204.6 152.3h2.15v2.15h-2.15zM221.0 152.3h2.15v2.15h-2.15zM207.7 154.1h2.15v2.15h-2.15zM207.7 157.6h2.15v2.15h-2.15zM225.1 159.4h2.15v2.15h-2.15zM240.5 161.2h2.15v2.15h-2.15zM243.6 166.5h2.15v2.15h-2.15zM125.9 618.9h2.15v2.15h-2.15zM120.8 620.7h2.15v2.15h-2.15zM111.6 622.5h2.15v2.15h-2.15zM120.8 624.2h2.15v2.15h-2.15zM132.1 626.0h2.15v2.15h-2.15zM128.0 629.6h2.15v2.15h-2.15zM110.6 631.3h2.15v2.15h-2.15zM115.7 633.1h2.15v2.15h-2.15zM121.8 633.1h2.15v2.15h-2.15zM81.9 634.9h2.15v2.15h-2.15zM83.9 634.9h2.15v2.15h-2.15zM86.0 634.9h2.15v2.15h-2.15zM87.0 636.7h2.15v2.15h-2.15zM86.0 638.4h2.15v2.15h-2.15zM78.8 640.2h2.15v2.15h-2.15zM102.4 642.0h2.15v2.15h-2.15zM97.2 643.8h2.15v2.15h-2.15zM112.6 645.5h2.15v2.15h-2.15zM89.0 647.3h2.15v2.15h-2.15zM108.5 652.6h2.15v2.15h-2.15zM90.1 656.2h2.15v2.15h-2.15zM109.5 658.0h2.15v2.15h-2.15zM92.1 659.7h2.15v2.15h-2.15zM94.2 659.7h2.15v2.15h-2.15zM104.4 666.8h2.15v2.15h-2.15zM109.5 668.6h2.15v2.15h-2.15zM125.9 689.9h2.15v2.15h-2.15zM210.7 657.6h2.15v2.15h-2.15zM232.2 663.0h2.15v2.15h-2.15zM259.9 664.7h2.15v2.15h-2.15zM250.7 666.5h2.15v2.15h-2.15zM231.2 668.3h2.15v2.15h-2.15zM253.7 671.8h2.15v2.15h-2.15zM211.7 673.6h2.15v2.15h-2.15zM236.3 677.2h2.15v2.15h-2.15zM269.1 677.2h2.15v2.15h-2.15zM239.4 678.9h2.15v2.15h-2.15zM257.8 678.9h2.15v2.15h-2.15zM215.8 680.7h2.15v2.15h-2.15zM251.7 682.5h2.15v2.15h-2.15zM261.9 682.5h2.15v2.15h-2.15zM266.0 682.5h2.15v2.15h-2.15zM256.8 684.3h2.15v2.15h-2.15zM270.1 686.0h2.15v2.15h-2.15zM269.1 687.8h2.15v2.15h-2.15zM249.6 689.6h2.15v2.15h-2.15zM268.1 689.6h2.15v2.15h-2.15zM213.8 691.4h2.15v2.15h-2.15zM222.0 691.4h2.15v2.15h-2.15zM230.2 691.4h2.15v2.15h-2.15zM258.9 691.4h2.15v2.15h-2.15zM269.1 691.4h2.15v2.15h-2.15zM275.3 691.4h2.15v2.15h-2.15zM207.6 694.9h2.15v2.15h-2.15zM233.2 696.7h2.15v2.15h-2.15zM253.7 696.7h2.15v2.15h-2.15zM259.9 696.7h2.15v2.15h-2.15zM264.0 696.7h2.15v2.15h-2.15zM266.0 696.7h2.15v2.15h-2.15zM268.1 696.7h2.15v2.15h-2.15zM276.3 696.7h2.15v2.15h-2.15zM263.0 698.5h2.15v2.15h-2.15zM269.1 698.5h2.15v2.15h-2.15zM204.5 700.2h2.15v2.15h-2.15zM206.6 700.2h2.15v2.15h-2.15zM245.5 700.2h2.15v2.15h-2.15zM264.0 700.2h2.15v2.15h-2.15zM207.6 702.0h2.15v2.15h-2.15zM232.2 702.0h2.15v2.15h-2.15zM234.3 702.0h2.15v2.15h-2.15zM252.7 702.0h2.15v2.15h-2.15zM269.1 702.0h2.15v2.15h-2.15zM271.2 702.0h2.15v2.15h-2.15zM273.2 702.0h2.15v2.15h-2.15zM277.3 702.0h2.15v2.15h-2.15zM279.4 702.0h2.15v2.15h-2.15zM233.2 703.8h2.15v2.15h-2.15zM270.1 703.8h2.15v2.15h-2.15zM278.3 703.8h2.15v2.15h-2.15zM207.6 705.6h2.15v2.15h-2.15zM215.8 705.6h2.15v2.15h-2.15zM242.5 705.6h2.15v2.15h-2.15zM258.9 705.6h2.15v2.15h-2.15zM206.6 707.3h2.15v2.15h-2.15zM233.2 707.3h2.15v2.15h-2.15zM243.5 707.3h2.15v2.15h-2.15zM272.2 707.3h2.15v2.15h-2.15zM278.3 707.3h2.15v2.15h-2.15zM203.5 709.1h2.15v2.15h-2.15zM236.3 709.1h2.15v2.15h-2.15zM254.8 709.1h2.15v2.15h-2.15zM269.1 709.1h2.15v2.15h-2.15zM273.2 709.1h2.15v2.15h-2.15zM277.3 709.1h2.15v2.15h-2.15zM212.7 710.9h2.15v2.15h-2.15zM216.8 710.9h2.15v2.15h-2.15zM220.9 710.9h2.15v2.15h-2.15zM227.1 710.9h2.15v2.15h-2.15zM233.2 710.9h2.15v2.15h-2.15zM239.4 710.9h2.15v2.15h-2.15zM249.6 710.9h2.15v2.15h-2.15zM251.7 710.9h2.15v2.15h-2.15zM255.8 710.9h2.15v2.15h-2.15zM264.0 710.9h2.15v2.15h-2.15zM268.1 710.9h2.15v2.15h-2.15zM272.2 710.9h2.15v2.15h-2.15zM274.2 710.9h2.15v2.15h-2.15zM215.8 712.7h2.15v2.15h-2.15zM226.1 712.7h2.15v2.15h-2.15zM234.3 712.7h2.15v2.15h-2.15zM236.3 712.7h2.15v2.15h-2.15zM238.4 712.7h2.15v2.15h-2.15zM246.6 712.7h2.15v2.15h-2.15zM250.7 712.7h2.15v2.15h-2.15zM273.2 712.7h2.15v2.15h-2.15zM204.5 714.4h2.15v2.15h-2.15zM210.7 714.4h2.15v2.15h-2.15zM231.2 714.4h2.15v2.15h-2.15zM233.2 714.4h2.15v2.15h-2.15zM261.9 714.4h2.15v2.15h-2.15zM252.7 716.2h2.15v2.15h-2.15zM258.9 716.2h2.15v2.15h-2.15zM263.0 716.2h2.15v2.15h-2.15zM269.1 716.2h2.15v2.15h-2.15zM206.6 718.0h2.15v2.15h-2.15zM208.6 718.0h2.15v2.15h-2.15zM223.0 718.0h2.15v2.15h-2.15zM225.0 718.0h2.15v2.15h-2.15zM229.1 718.0h2.15v2.15h-2.15zM243.5 718.0h2.15v2.15h-2.15zM245.5 718.0h2.15v2.15h-2.15zM253.7 718.0h2.15v2.15h-2.15zM270.1 718.0h2.15v2.15h-2.15zM207.6 719.8h2.15v2.15h-2.15zM267.1 719.8h2.15v2.15h-2.15zM269.1 719.8h2.15v2.15h-2.15zM225.0 721.5h2.15v2.15h-2.15zM237.3 721.5h2.15v2.15h-2.15zM241.4 721.5h2.15v2.15h-2.15zM253.7 721.5h2.15v2.15h-2.15zM257.8 721.5h2.15v2.15h-2.15zM234.3 723.3h2.15v2.15h-2.15zM236.3 723.3h2.15v2.15h-2.15zM250.7 723.3h2.15v2.15h-2.15zM252.7 723.3h2.15v2.15h-2.15zM212.7 725.1h2.15v2.15h-2.15zM218.9 725.1h2.15v2.15h-2.15zM223.0 725.1h2.15v2.15h-2.15zM227.1 725.1h2.15v2.15h-2.15zM229.1 725.1h2.15v2.15h-2.15zM231.2 725.1h2.15v2.15h-2.15zM251.7 725.1h2.15v2.15h-2.15zM255.8 725.1h2.15v2.15h-2.15zM257.8 725.1h2.15v2.15h-2.15zM207.6 726.9h2.15v2.15h-2.15zM209.7 726.9h2.15v2.15h-2.15zM224.0 726.9h2.15v2.15h-2.15zM232.2 726.9h2.15v2.15h-2.15zM236.3 726.9h2.15v2.15h-2.15zM238.4 726.9h2.15v2.15h-2.15zM212.7 728.6h2.15v2.15h-2.15zM227.1 728.6h2.15v2.15h-2.15zM231.2 728.6h2.15v2.15h-2.15zM235.3 728.6h2.15v2.15h-2.15zM247.6 728.6h2.15v2.15h-2.15zM225.0 732.2h2.15v2.15h-2.15zM220.1 771.8h2.15v2.15h-2.15zM222.1 786.0h2.15v2.15h-2.15zM84.7 728.4h2.15v2.15h-2.15zM86.7 728.4h2.15v2.15h-2.15zM54.9 744.4h2.15v2.15h-2.15zM61.1 751.5h2.15v2.15h-2.15zM52.9 762.1h2.15v2.15h-2.15zM107.3 723.6h2.15v2.15h-2.15zM109.3 723.6h2.15v2.15h-2.15zM110.4 725.3h2.15v2.15h-2.15zM104.0 761.8h2.15v2.15h-2.15zM105.1 763.6h2.15v2.15h-2.15zM109.2 767.1h2.15v2.15h-2.15zM149.2 789.6h2.15v2.15h-2.15zM152.3 791.4h2.15v2.15h-2.15zM154.4 794.9h2.15v2.15h-2.15zM160.5 798.5h2.15v2.15h-2.15zM154.4 805.6h2.15v2.15h-2.15zM151.3 807.3h2.15v2.15h-2.15zM165.6 814.4h2.15v2.15h-2.15zM156.4 816.2h2.15v2.15h-2.15z"/>
<path fill="#d99888" d="M122.1 38.5h2.15v2.15h-2.15zM127.0 47.5h2.15v2.15h-2.15zM148.5 49.3h2.15v2.15h-2.15zM129.0 51.0h2.15v2.15h-2.15zM147.5 51.0h2.15v2.15h-2.15zM52.0 80.4h2.15v2.15h-2.15zM53.0 85.7h2.15v2.15h-2.15zM65.3 89.3h2.15v2.15h-2.15zM118.3 92.0h2.15v2.15h-2.15zM154.5 107.7h2.15v2.15h-2.15zM151.4 123.7h2.15v2.15h-2.15zM148.4 125.5h2.15v2.15h-2.15zM124.8 134.3h2.15v2.15h-2.15zM149.4 134.3h2.15v2.15h-2.15zM134.0 136.1h2.15v2.15h-2.15zM146.3 136.1h2.15v2.15h-2.15zM83.8 137.9h2.15v2.15h-2.15zM131.9 139.7h2.15v2.15h-2.15zM108.4 141.4h2.15v2.15h-2.15zM133.0 141.4h2.15v2.15h-2.15zM139.1 141.4h2.15v2.15h-2.15zM156.6 143.2h2.15v2.15h-2.15zM164.8 143.2h2.15v2.15h-2.15zM100.2 145.0h2.15v2.15h-2.15zM86.8 146.8h2.15v2.15h-2.15zM128.9 148.5h2.15v2.15h-2.15zM127.8 150.3h2.15v2.15h-2.15zM124.8 152.1h2.15v2.15h-2.15zM150.4 153.9h2.15v2.15h-2.15zM146.3 157.4h2.15v2.15h-2.15zM148.4 157.4h2.15v2.15h-2.15zM189.3 125.7h2.15v2.15h-2.15zM194.4 127.4h2.15v2.15h-2.15zM181.1 132.8h2.15v2.15h-2.15zM207.7 132.8h2.15v2.15h-2.15zM180.0 134.5h2.15v2.15h-2.15zM177.0 136.3h2.15v2.15h-2.15zM213.9 136.3h2.15v2.15h-2.15zM184.1 138.1h2.15v2.15h-2.15zM186.2 138.1h2.15v2.15h-2.15zM186.2 141.6h2.15v2.15h-2.15zM223.1 141.6h2.15v2.15h-2.15zM193.4 147.0h2.15v2.15h-2.15zM210.8 155.8h2.15v2.15h-2.15zM224.1 157.6h2.15v2.15h-2.15zM234.4 157.6h2.15v2.15h-2.15zM122.9 620.7h2.15v2.15h-2.15zM95.2 633.1h2.15v2.15h-2.15zM122.9 638.4h2.15v2.15h-2.15zM77.8 642.0h2.15v2.15h-2.15zM92.1 645.5h2.15v2.15h-2.15zM111.6 647.3h2.15v2.15h-2.15zM113.6 650.9h2.15v2.15h-2.15zM108.5 659.7h2.15v2.15h-2.15zM118.8 681.0h2.15v2.15h-2.15zM213.8 687.8h2.15v2.15h-2.15zM257.8 689.6h2.15v2.15h-2.15zM234.3 691.4h2.15v2.15h-2.15zM232.2 694.9h2.15v2.15h-2.15zM254.8 694.9h2.15v2.15h-2.15zM222.0 698.5h2.15v2.15h-2.15zM232.2 698.5h2.15v2.15h-2.15zM216.8 700.2h2.15v2.15h-2.15zM227.1 700.2h2.15v2.15h-2.15zM256.8 702.0h2.15v2.15h-2.15zM204.5 703.8h2.15v2.15h-2.15zM245.5 703.8h2.15v2.15h-2.15zM257.8 703.8h2.15v2.15h-2.15zM232.2 705.6h2.15v2.15h-2.15zM236.3 705.6h2.15v2.15h-2.15zM208.6 707.3h2.15v2.15h-2.15zM235.3 707.3h2.15v2.15h-2.15zM247.6 707.3h2.15v2.15h-2.15zM248.6 709.1h2.15v2.15h-2.15zM258.9 709.1h2.15v2.15h-2.15zM214.8 710.9h2.15v2.15h-2.15zM247.6 710.9h2.15v2.15h-2.15zM257.8 710.9h2.15v2.15h-2.15zM276.3 710.9h2.15v2.15h-2.15zM260.9 712.7h2.15v2.15h-2.15zM214.8 714.4h2.15v2.15h-2.15zM220.9 714.4h2.15v2.15h-2.15zM259.9 714.4h2.15v2.15h-2.15zM276.3 714.4h2.15v2.15h-2.15zM213.8 716.2h2.15v2.15h-2.15zM224.0 716.2h2.15v2.15h-2.15zM226.1 716.2h2.15v2.15h-2.15zM236.3 716.2h2.15v2.15h-2.15zM238.4 716.2h2.15v2.15h-2.15zM254.8 716.2h2.15v2.15h-2.15zM212.7 718.0h2.15v2.15h-2.15zM227.1 718.0h2.15v2.15h-2.15zM231.2 718.0h2.15v2.15h-2.15zM259.9 718.0h2.15v2.15h-2.15zM261.9 718.0h2.15v2.15h-2.15zM266.0 718.0h2.15v2.15h-2.15zM236.3 719.8h2.15v2.15h-2.15zM244.5 719.8h2.15v2.15h-2.15zM246.6 719.8h2.15v2.15h-2.15zM252.7 719.8h2.15v2.15h-2.15zM260.9 719.8h2.15v2.15h-2.15zM208.6 721.5h2.15v2.15h-2.15zM216.8 721.5h2.15v2.15h-2.15zM231.2 721.5h2.15v2.15h-2.15zM247.6 721.5h2.15v2.15h-2.15zM259.9 721.5h2.15v2.15h-2.15zM268.1 721.5h2.15v2.15h-2.15zM205.6 723.3h2.15v2.15h-2.15zM217.9 723.3h2.15v2.15h-2.15zM219.9 723.3h2.15v2.15h-2.15zM238.4 723.3h2.15v2.15h-2.15zM240.4 723.3h2.15v2.15h-2.15zM263.0 723.3h2.15v2.15h-2.15zM206.6 725.1h2.15v2.15h-2.15zM243.5 725.1h2.15v2.15h-2.15zM249.6 725.1h2.15v2.15h-2.15zM261.9 725.1h2.15v2.15h-2.15zM211.7 726.9h2.15v2.15h-2.15zM217.9 726.9h2.15v2.15h-2.15zM222.0 726.9h2.15v2.15h-2.15zM226.1 726.9h2.15v2.15h-2.15zM204.5 728.6h2.15v2.15h-2.15zM216.8 728.6h2.15v2.15h-2.15zM218.9 728.6h2.15v2.15h-2.15zM223.0 728.6h2.15v2.15h-2.15zM237.3 728.6h2.15v2.15h-2.15zM207.6 730.4h2.15v2.15h-2.15zM209.7 730.4h2.15v2.15h-2.15zM226.1 730.4h2.15v2.15h-2.15zM230.2 730.4h2.15v2.15h-2.15zM238.4 730.4h2.15v2.15h-2.15zM214.8 732.2h2.15v2.15h-2.15zM231.2 732.2h2.15v2.15h-2.15zM241.4 732.2h2.15v2.15h-2.15zM241.4 735.7h2.15v2.15h-2.15zM221.1 770.0h2.15v2.15h-2.15zM85.7 726.6h2.15v2.15h-2.15zM63.1 740.8h2.15v2.15h-2.15zM105.2 720.0h2.15v2.15h-2.15zM107.3 720.0h2.15v2.15h-2.15zM105.1 756.5h2.15v2.15h-2.15zM149.2 786.0h2.15v2.15h-2.15zM142.1 791.4h2.15v2.15h-2.15zM145.1 793.1h2.15v2.15h-2.15zM149.2 793.1h2.15v2.15h-2.15zM148.2 794.9h2.15v2.15h-2.15zM167.7 803.8h2.15v2.15h-2.15z"/>
<path fill="#d48e7d" d="M95.5 27.8h2.15v2.15h-2.15zM126.0 45.7h2.15v2.15h-2.15zM143.4 51.0h2.15v2.15h-2.15zM148.5 52.8h2.15v2.15h-2.15zM145.4 54.6h2.15v2.15h-2.15zM52.0 87.5h2.15v2.15h-2.15zM45.9 91.0h2.15v2.15h-2.15zM51.0 96.4h2.15v2.15h-2.15zM135.8 97.3h2.15v2.15h-2.15zM151.4 109.5h2.15v2.15h-2.15zM161.7 116.6h2.15v2.15h-2.15zM149.4 123.7h2.15v2.15h-2.15zM119.6 132.6h2.15v2.15h-2.15zM70.5 139.7h2.15v2.15h-2.15zM152.5 139.7h2.15v2.15h-2.15zM74.5 143.2h2.15v2.15h-2.15zM131.9 146.8h2.15v2.15h-2.15zM145.3 155.6h2.15v2.15h-2.15zM111.4 164.5h2.15v2.15h-2.15zM110.4 166.3h2.15v2.15h-2.15zM119.6 182.3h2.15v2.15h-2.15zM182.1 134.5h2.15v2.15h-2.15zM179.0 136.3h2.15v2.15h-2.15zM208.7 138.1h2.15v2.15h-2.15zM181.1 139.9h2.15v2.15h-2.15zM197.5 143.4h2.15v2.15h-2.15zM209.8 161.2h2.15v2.15h-2.15zM129.0 624.2h2.15v2.15h-2.15zM133.1 624.2h2.15v2.15h-2.15zM93.1 626.0h2.15v2.15h-2.15zM111.6 654.4h2.15v2.15h-2.15zM124.9 691.7h2.15v2.15h-2.15zM224.0 680.7h2.15v2.15h-2.15zM216.8 686.0h2.15v2.15h-2.15zM218.9 686.0h2.15v2.15h-2.15zM271.2 694.9h2.15v2.15h-2.15zM281.4 702.0h2.15v2.15h-2.15zM280.4 703.8h2.15v2.15h-2.15zM281.4 705.6h2.15v2.15h-2.15zM228.1 709.1h2.15v2.15h-2.15zM234.3 709.1h2.15v2.15h-2.15zM250.7 709.1h2.15v2.15h-2.15zM267.1 709.1h2.15v2.15h-2.15zM253.7 710.9h2.15v2.15h-2.15zM269.1 712.7h2.15v2.15h-2.15zM271.2 712.7h2.15v2.15h-2.15zM264.0 714.4h2.15v2.15h-2.15zM274.2 714.4h2.15v2.15h-2.15zM237.3 718.0h2.15v2.15h-2.15zM249.6 718.0h2.15v2.15h-2.15zM242.5 719.8h2.15v2.15h-2.15zM256.8 719.8h2.15v2.15h-2.15zM271.2 719.8h2.15v2.15h-2.15zM273.2 719.8h2.15v2.15h-2.15zM243.5 721.5h2.15v2.15h-2.15zM270.1 721.5h2.15v2.15h-2.15zM213.8 723.3h2.15v2.15h-2.15zM248.6 723.3h2.15v2.15h-2.15zM254.8 723.3h2.15v2.15h-2.15zM256.8 723.3h2.15v2.15h-2.15zM258.9 723.3h2.15v2.15h-2.15zM265.0 723.3h2.15v2.15h-2.15zM208.6 725.1h2.15v2.15h-2.15zM239.4 725.1h2.15v2.15h-2.15zM245.5 725.1h2.15v2.15h-2.15zM264.0 725.1h2.15v2.15h-2.15zM213.8 726.9h2.15v2.15h-2.15zM228.1 726.9h2.15v2.15h-2.15zM234.3 726.9h2.15v2.15h-2.15zM240.4 726.9h2.15v2.15h-2.15zM246.6 726.9h2.15v2.15h-2.15zM206.6 728.6h2.15v2.15h-2.15zM208.6 728.6h2.15v2.15h-2.15zM203.5 730.4h2.15v2.15h-2.15zM217.9 730.4h2.15v2.15h-2.15zM232.2 730.4h2.15v2.15h-2.15zM204.5 732.2h2.15v2.15h-2.15zM206.6 732.2h2.15v2.15h-2.15zM210.7 732.2h2.15v2.15h-2.15zM212.7 732.2h2.15v2.15h-2.15zM213.8 734.0h2.15v2.15h-2.15zM85.7 730.2h2.15v2.15h-2.15zM85.7 733.7h2.15v2.15h-2.15zM81.6 737.3h2.15v2.15h-2.15zM110.4 728.9h2.15v2.15h-2.15zM104.0 765.4h2.15v2.15h-2.15zM106.1 765.4h2.15v2.15h-2.15zM140.0 784.3h2.15v2.15h-2.15zM142.1 784.3h2.15v2.15h-2.15zM148.2 787.8h2.15v2.15h-2.15z"/>
<path fill="#cf8472" d="M123.2 33.1h2.15v2.15h-2.15zM121.1 36.7h2.15v2.15h-2.15zM110.9 40.2h2.15v2.15h-2.15zM144.4 52.8h2.15v2.15h-2.15zM154.1 40.8h2.15v2.15h-2.15zM156.6 118.4h2.15v2.15h-2.15zM148.4 121.9h2.15v2.15h-2.15zM150.4 121.9h2.15v2.15h-2.15zM127.8 143.2h2.15v2.15h-2.15zM93.0 146.8h2.15v2.15h-2.15zM143.2 155.6h2.15v2.15h-2.15zM204.6 131.0h2.15v2.15h-2.15zM194.4 145.2h2.15v2.15h-2.15zM197.5 147.0h2.15v2.15h-2.15zM199.5 147.0h2.15v2.15h-2.15zM250.6 68.8h2.15v2.15h-2.15zM180.9 69.9h2.15v2.15h-2.15zM106.5 620.7h2.15v2.15h-2.15zM82.9 658.0h2.15v2.15h-2.15zM95.2 658.0h2.15v2.15h-2.15zM125.9 693.5h2.15v2.15h-2.15zM249.6 657.6h2.15v2.15h-2.15zM243.5 661.2h2.15v2.15h-2.15zM214.8 668.3h2.15v2.15h-2.15zM264.0 668.3h2.15v2.15h-2.15zM273.2 691.4h2.15v2.15h-2.15zM281.4 698.5h2.15v2.15h-2.15zM214.8 703.8h2.15v2.15h-2.15zM249.6 707.3h2.15v2.15h-2.15zM279.4 709.1h2.15v2.15h-2.15zM280.4 710.9h2.15v2.15h-2.15zM252.7 712.7h2.15v2.15h-2.15zM271.2 716.2h2.15v2.15h-2.15zM276.3 718.0h2.15v2.15h-2.15zM250.7 719.8h2.15v2.15h-2.15zM265.0 719.8h2.15v2.15h-2.15zM223.0 721.5h2.15v2.15h-2.15zM245.5 721.5h2.15v2.15h-2.15zM261.9 721.5h2.15v2.15h-2.15zM266.0 721.5h2.15v2.15h-2.15zM272.2 721.5h2.15v2.15h-2.15zM260.9 723.3h2.15v2.15h-2.15zM219.9 726.9h2.15v2.15h-2.15zM244.5 726.9h2.15v2.15h-2.15zM263.0 726.9h2.15v2.15h-2.15zM267.1 726.9h2.15v2.15h-2.15zM210.7 728.6h2.15v2.15h-2.15zM214.8 728.6h2.15v2.15h-2.15zM239.4 728.6h2.15v2.15h-2.15zM243.5 728.6h2.15v2.15h-2.15zM245.5 728.6h2.15v2.15h-2.15zM205.6 730.4h2.15v2.15h-2.15zM222.0 730.4h2.15v2.15h-2.15zM228.1 730.4h2.15v2.15h-2.15zM234.3 730.4h2.15v2.15h-2.15zM242.5 730.4h2.15v2.15h-2.15zM208.6 732.2h2.15v2.15h-2.15zM220.9 732.2h2.15v2.15h-2.15zM219.9 734.0h2.15v2.15h-2.15zM222.0 734.0h2.15v2.15h-2.15zM229.1 735.7h2.15v2.15h-2.15zM220.9 760.6h2.15v2.15h-2.15zM222.1 796.7h2.15v2.15h-2.15zM82.6 731.9h2.15v2.15h-2.15zM71.3 737.3h2.15v2.15h-2.15zM83.6 737.3h2.15v2.15h-2.15zM64.2 739.0h2.15v2.15h-2.15zM69.3 740.8h2.15v2.15h-2.15zM47.8 756.8h2.15v2.15h-2.15zM111.4 727.1h2.15v2.15h-2.15zM140.0 780.7h2.15v2.15h-2.15zM142.1 780.7h2.15v2.15h-2.15zM147.2 789.6h2.15v2.15h-2.15zM147.2 793.1h2.15v2.15h-2.15z"/>
<path fill="#c97a67" d="M116.0 20.7h2.15v2.15h-2.15zM99.6 34.9h2.15v2.15h-2.15zM146.5 49.3h2.15v2.15h-2.15zM146.5 52.8h2.15v2.15h-2.15zM42.8 78.6h2.15v2.15h-2.15zM51.0 89.3h2.15v2.15h-2.15zM47.9 91.0h2.15v2.15h-2.15zM152.5 107.7h2.15v2.15h-2.15zM161.7 109.5h2.15v2.15h-2.15zM96.1 134.3h2.15v2.15h-2.15zM106.3 134.3h2.15v2.15h-2.15zM79.7 141.4h2.15v2.15h-2.15zM149.4 152.1h2.15v2.15h-2.15zM120.7 176.9h2.15v2.15h-2.15zM124.9 624.2h2.15v2.15h-2.15zM86.0 656.2h2.15v2.15h-2.15zM116.7 681.0h2.15v2.15h-2.15zM127.0 691.7h2.15v2.15h-2.15zM241.4 664.7h2.15v2.15h-2.15zM213.8 698.5h2.15v2.15h-2.15zM280.4 707.3h2.15v2.15h-2.15zM275.3 712.7h2.15v2.15h-2.15zM277.3 712.7h2.15v2.15h-2.15zM273.2 716.2h2.15v2.15h-2.15zM275.3 716.2h2.15v2.15h-2.15zM277.3 716.2h2.15v2.15h-2.15zM268.1 718.0h2.15v2.15h-2.15zM272.2 718.0h2.15v2.15h-2.15zM263.0 719.8h2.15v2.15h-2.15zM264.0 721.5h2.15v2.15h-2.15zM253.7 725.1h2.15v2.15h-2.15zM259.9 725.1h2.15v2.15h-2.15zM248.6 726.9h2.15v2.15h-2.15zM252.7 726.9h2.15v2.15h-2.15zM254.8 726.9h2.15v2.15h-2.15zM258.9 726.9h2.15v2.15h-2.15zM265.0 726.9h2.15v2.15h-2.15zM220.9 728.6h2.15v2.15h-2.15zM251.7 728.6h2.15v2.15h-2.15zM259.9 728.6h2.15v2.15h-2.15zM215.8 730.4h2.15v2.15h-2.15zM244.5 730.4h2.15v2.15h-2.15zM246.6 730.4h2.15v2.15h-2.15zM260.9 730.4h2.15v2.15h-2.15zM216.8 732.2h2.15v2.15h-2.15zM223.0 732.2h2.15v2.15h-2.15zM205.6 734.0h2.15v2.15h-2.15zM224.0 734.0h2.15v2.15h-2.15zM226.1 734.0h2.15v2.15h-2.15zM228.1 734.0h2.15v2.15h-2.15zM236.3 734.0h2.15v2.15h-2.15zM240.4 734.0h2.15v2.15h-2.15zM216.8 735.7h2.15v2.15h-2.15zM223.0 735.7h2.15v2.15h-2.15zM209.7 744.6h2.15v2.15h-2.15zM214.8 746.4h2.15v2.15h-2.15zM215.8 751.7h2.15v2.15h-2.15zM220.9 764.1h2.15v2.15h-2.15zM78.5 735.5h2.15v2.15h-2.15zM86.7 735.5h2.15v2.15h-2.15zM87.7 737.3h2.15v2.15h-2.15zM86.7 739.0h2.15v2.15h-2.15zM111.4 730.7h2.15v2.15h-2.15zM143.1 782.5h2.15v2.15h-2.15zM148.2 791.4h2.15v2.15h-2.15z"/>
<path fill="#c4705d" d="M154.7 49.3h2.15v2.15h-2.15zM152.6 52.8h2.15v2.15h-2.15zM44.8 78.6h2.15v2.15h-2.15zM46.9 78.6h2.15v2.15h-2.15zM48.9 78.6h2.15v2.15h-2.15zM48.9 89.3h2.15v2.15h-2.15zM152.5 111.3h2.15v2.15h-2.15zM161.7 113.0h2.15v2.15h-2.15zM152.5 114.8h2.15v2.15h-2.15zM153.5 130.8h2.15v2.15h-2.15zM90.9 136.1h2.15v2.15h-2.15zM98.1 137.9h2.15v2.15h-2.15zM167.8 137.9h2.15v2.15h-2.15zM108.4 145.0h2.15v2.15h-2.15zM145.3 145.0h2.15v2.15h-2.15zM95.0 146.8h2.15v2.15h-2.15zM144.3 150.3h2.15v2.15h-2.15zM114.5 159.2h2.15v2.15h-2.15zM109.4 178.7h2.15v2.15h-2.15zM192.3 123.9h2.15v2.15h-2.15zM226.2 136.3h2.15v2.15h-2.15zM173.4 69.9h2.15v2.15h-2.15zM261.9 686.0h2.15v2.15h-2.15zM277.3 687.8h2.15v2.15h-2.15zM211.7 698.5h2.15v2.15h-2.15zM278.3 710.9h2.15v2.15h-2.15zM274.2 718.0h2.15v2.15h-2.15zM242.5 723.3h2.15v2.15h-2.15zM269.1 723.3h2.15v2.15h-2.15zM271.2 723.3h2.15v2.15h-2.15zM266.0 725.1h2.15v2.15h-2.15zM256.8 726.9h2.15v2.15h-2.15zM257.8 728.6h2.15v2.15h-2.15zM240.4 730.4h2.15v2.15h-2.15zM248.6 730.4h2.15v2.15h-2.15zM218.9 732.2h2.15v2.15h-2.15zM229.1 732.2h2.15v2.15h-2.15zM232.2 734.0h2.15v2.15h-2.15zM242.5 734.0h2.15v2.15h-2.15zM244.5 734.0h2.15v2.15h-2.15zM236.3 737.5h2.15v2.15h-2.15zM210.7 742.8h2.15v2.15h-2.15zM225.0 742.8h2.15v2.15h-2.15zM216.8 746.4h2.15v2.15h-2.15zM225.0 746.4h2.15v2.15h-2.15zM223.0 749.9h2.15v2.15h-2.15zM224.0 751.7h2.15v2.15h-2.15zM219.9 755.3h2.15v2.15h-2.15zM222.0 755.3h2.15v2.15h-2.15zM223.0 757.0h2.15v2.15h-2.15zM218.9 760.6h2.15v2.15h-2.15zM219.9 762.4h2.15v2.15h-2.15zM223.1 794.9h2.15v2.15h-2.15zM83.6 730.2h2.15v2.15h-2.15zM67.2 737.3h2.15v2.15h-2.15zM62.1 739.0h2.15v2.15h-2.15zM66.2 739.0h2.15v2.15h-2.15zM70.3 739.0h2.15v2.15h-2.15zM78.5 739.0h2.15v2.15h-2.15zM106.3 721.8h2.15v2.15h-2.15zM139.0 782.5h2.15v2.15h-2.15z"/>
<path fill="#be6652" d="M102.7 33.1h2.15v2.15h-2.15zM40.7 85.7h2.15v2.15h-2.15zM43.8 87.5h2.15v2.15h-2.15zM46.9 89.3h2.15v2.15h-2.15zM153.5 116.6h2.15v2.15h-2.15zM107.3 150.3h2.15v2.15h-2.15zM109.4 164.5h2.15v2.15h-2.15zM134.0 164.5h2.15v2.15h-2.15zM238.3 68.8h2.15v2.15h-2.15zM105.4 622.5h2.15v2.15h-2.15zM106.5 666.8h2.15v2.15h-2.15zM232.2 655.9h2.15v2.15h-2.15zM256.8 691.4h2.15v2.15h-2.15zM222.0 694.9h2.15v2.15h-2.15zM279.4 712.7h2.15v2.15h-2.15zM250.7 726.9h2.15v2.15h-2.15zM249.6 728.6h2.15v2.15h-2.15zM250.7 730.4h2.15v2.15h-2.15zM252.7 730.4h2.15v2.15h-2.15zM233.2 732.2h2.15v2.15h-2.15zM237.3 732.2h2.15v2.15h-2.15zM239.4 732.2h2.15v2.15h-2.15zM245.5 732.2h2.15v2.15h-2.15zM207.6 734.0h2.15v2.15h-2.15zM209.7 734.0h2.15v2.15h-2.15zM211.7 734.0h2.15v2.15h-2.15zM234.3 734.0h2.15v2.15h-2.15zM238.4 734.0h2.15v2.15h-2.15zM235.3 735.7h2.15v2.15h-2.15zM211.7 737.5h2.15v2.15h-2.15zM219.9 737.5h2.15v2.15h-2.15zM235.3 739.3h2.15v2.15h-2.15zM229.1 742.8h2.15v2.15h-2.15zM211.7 744.6h2.15v2.15h-2.15zM217.9 744.6h2.15v2.15h-2.15zM212.7 746.4h2.15v2.15h-2.15zM220.9 746.4h2.15v2.15h-2.15zM215.8 748.2h2.15v2.15h-2.15zM219.9 748.2h2.15v2.15h-2.15zM224.0 748.2h2.15v2.15h-2.15zM223.0 753.5h2.15v2.15h-2.15zM222.0 758.8h2.15v2.15h-2.15zM222.0 762.4h2.15v2.15h-2.15zM221.1 787.8h2.15v2.15h-2.15zM80.6 735.5h2.15v2.15h-2.15zM84.7 735.5h2.15v2.15h-2.15zM73.4 737.3h2.15v2.15h-2.15zM77.5 737.3h2.15v2.15h-2.15zM60.1 739.0h2.15v2.15h-2.15zM72.4 739.0h2.15v2.15h-2.15zM84.7 739.0h2.15v2.15h-2.15zM143.1 793.1h2.15v2.15h-2.15zM168.7 805.6h2.15v2.15h-2.15z"/>
<path fill="#b85c48" d="M129.3 29.6h2.15v2.15h-2.15zM145.4 51.0h2.15v2.15h-2.15zM41.8 80.4h2.15v2.15h-2.15zM40.7 82.2h2.15v2.15h-2.15zM52.0 83.9h2.15v2.15h-2.15zM44.8 89.3h2.15v2.15h-2.15zM162.7 111.3h2.15v2.15h-2.15zM124.8 141.4h2.15v2.15h-2.15zM110.4 145.0h2.15v2.15h-2.15zM200.5 134.5h2.15v2.15h-2.15zM104.4 624.2h2.15v2.15h-2.15zM250.7 670.1h2.15v2.15h-2.15zM267.1 694.9h2.15v2.15h-2.15zM212.7 703.8h2.15v2.15h-2.15zM233.2 721.5h2.15v2.15h-2.15zM268.1 725.1h2.15v2.15h-2.15zM260.9 726.9h2.15v2.15h-2.15zM253.7 728.6h2.15v2.15h-2.15zM255.8 728.6h2.15v2.15h-2.15zM254.8 730.4h2.15v2.15h-2.15zM258.9 730.4h2.15v2.15h-2.15zM235.3 732.2h2.15v2.15h-2.15zM247.6 732.2h2.15v2.15h-2.15zM249.6 732.2h2.15v2.15h-2.15zM251.7 732.2h2.15v2.15h-2.15zM253.7 732.2h2.15v2.15h-2.15zM215.8 734.0h2.15v2.15h-2.15zM217.9 734.0h2.15v2.15h-2.15zM246.6 734.0h2.15v2.15h-2.15zM250.7 734.0h2.15v2.15h-2.15zM204.5 735.7h2.15v2.15h-2.15zM206.6 735.7h2.15v2.15h-2.15zM210.7 735.7h2.15v2.15h-2.15zM214.8 735.7h2.15v2.15h-2.15zM225.0 735.7h2.15v2.15h-2.15zM233.2 735.7h2.15v2.15h-2.15zM234.3 737.5h2.15v2.15h-2.15zM209.7 741.1h2.15v2.15h-2.15zM222.0 741.1h2.15v2.15h-2.15zM208.6 742.8h2.15v2.15h-2.15zM223.0 742.8h2.15v2.15h-2.15zM227.1 742.8h2.15v2.15h-2.15zM224.0 744.6h2.15v2.15h-2.15zM222.0 748.2h2.15v2.15h-2.15zM216.8 749.9h2.15v2.15h-2.15zM217.9 751.7h2.15v2.15h-2.15zM216.8 753.5h2.15v2.15h-2.15zM218.9 753.5h2.15v2.15h-2.15zM218.9 757.0h2.15v2.15h-2.15zM220.9 757.0h2.15v2.15h-2.15zM81.6 733.7h2.15v2.15h-2.15zM89.8 737.3h2.15v2.15h-2.15zM68.3 739.0h2.15v2.15h-2.15zM80.6 739.0h2.15v2.15h-2.15z"/>
<path fill="#b2523e" d="M150.6 49.3h2.15v2.15h-2.15zM47.9 83.9h2.15v2.15h-2.15zM157.6 116.6h2.15v2.15h-2.15zM157.6 137.9h2.15v2.15h-2.15zM148.4 139.7h2.15v2.15h-2.15zM123.7 153.9h2.15v2.15h-2.15zM135.0 155.6h2.15v2.15h-2.15zM201.6 132.8h2.15v2.15h-2.15zM205.7 154.1h2.15v2.15h-2.15zM102.4 663.3h2.15v2.15h-2.15zM204.5 654.1h2.15v2.15h-2.15zM278.3 714.4h2.15v2.15h-2.15zM215.8 716.2h2.15v2.15h-2.15zM214.8 721.5h2.15v2.15h-2.15zM246.6 723.3h2.15v2.15h-2.15zM267.1 723.3h2.15v2.15h-2.15zM261.9 728.6h2.15v2.15h-2.15zM256.8 730.4h2.15v2.15h-2.15zM243.5 732.2h2.15v2.15h-2.15zM255.8 732.2h2.15v2.15h-2.15zM248.6 734.0h2.15v2.15h-2.15zM252.7 734.0h2.15v2.15h-2.15zM208.6 735.7h2.15v2.15h-2.15zM220.9 735.7h2.15v2.15h-2.15zM231.2 735.7h2.15v2.15h-2.15zM237.3 735.7h2.15v2.15h-2.15zM243.5 735.7h2.15v2.15h-2.15zM245.5 735.7h2.15v2.15h-2.15zM205.6 737.5h2.15v2.15h-2.15zM213.8 737.5h2.15v2.15h-2.15zM228.1 737.5h2.15v2.15h-2.15zM238.4 737.5h2.15v2.15h-2.15zM240.4 737.5h2.15v2.15h-2.15zM242.5 737.5h2.15v2.15h-2.15zM215.8 741.1h2.15v2.15h-2.15zM214.8 742.8h2.15v2.15h-2.15zM220.9 742.8h2.15v2.15h-2.15zM215.8 744.6h2.15v2.15h-2.15zM218.9 746.4h2.15v2.15h-2.15zM213.8 748.2h2.15v2.15h-2.15zM220.9 749.9h2.15v2.15h-2.15zM219.9 751.7h2.15v2.15h-2.15zM219.9 758.8h2.15v2.15h-2.15zM76.5 735.5h2.15v2.15h-2.15zM88.8 735.5h2.15v2.15h-2.15zM79.5 737.3h2.15v2.15h-2.15zM85.7 737.3h2.15v2.15h-2.15zM82.6 739.0h2.15v2.15h-2.15zM114.9 753.4h2.15v2.15h-2.15z"/>
<path fill="#ac4834" d="M43.8 80.4h2.15v2.15h-2.15zM48.9 85.7h2.15v2.15h-2.15zM51.0 85.7h2.15v2.15h-2.15zM50.0 87.5h2.15v2.15h-2.15zM153.5 109.5h2.15v2.15h-2.15zM155.5 116.6h2.15v2.15h-2.15zM156.6 146.8h2.15v2.15h-2.15zM113.5 164.5h2.15v2.15h-2.15zM182.1 131.0h2.15v2.15h-2.15zM233.4 93.1h2.15v2.15h-2.15zM91.1 633.1h2.15v2.15h-2.15zM226.1 659.4h2.15v2.15h-2.15zM247.6 664.7h2.15v2.15h-2.15zM242.5 677.2h2.15v2.15h-2.15zM250.7 677.2h2.15v2.15h-2.15zM231.2 693.1h2.15v2.15h-2.15zM242.5 698.5h2.15v2.15h-2.15zM264.0 728.6h2.15v2.15h-2.15zM215.8 737.5h2.15v2.15h-2.15zM217.9 737.5h2.15v2.15h-2.15zM204.5 739.3h2.15v2.15h-2.15zM212.7 739.3h2.15v2.15h-2.15zM220.9 739.3h2.15v2.15h-2.15zM233.2 739.3h2.15v2.15h-2.15zM237.3 739.3h2.15v2.15h-2.15zM224.0 741.1h2.15v2.15h-2.15zM228.1 741.1h2.15v2.15h-2.15zM222.0 744.6h2.15v2.15h-2.15zM223.0 746.4h2.15v2.15h-2.15zM217.9 748.2h2.15v2.15h-2.15zM220.9 753.5h2.15v2.15h-2.15zM220.1 775.4h2.15v2.15h-2.15zM69.3 737.3h2.15v2.15h-2.15zM111.6 735.0h2.15v2.15h-2.15zM113.6 735.0h2.15v2.15h-2.15zM113.9 751.9h2.15v2.15h-2.15zM141.0 782.5h2.15v2.15h-2.15z"/>
<path fill="#a63d2a" d="M47.9 87.5h2.15v2.15h-2.15zM160.7 114.8h2.15v2.15h-2.15zM265.0 684.3h2.15v2.15h-2.15zM230.2 734.0h2.15v2.15h-2.15zM239.4 735.7h2.15v2.15h-2.15zM224.0 737.5h2.15v2.15h-2.15zM230.2 737.5h2.15v2.15h-2.15zM208.6 739.3h2.15v2.15h-2.15zM223.0 739.3h2.15v2.15h-2.15zM230.2 741.1h2.15v2.15h-2.15zM218.9 742.8h2.15v2.15h-2.15zM219.9 744.6h2.15v2.15h-2.15zM226.1 744.6h2.15v2.15h-2.15zM214.8 749.9h2.15v2.15h-2.15zM218.9 749.9h2.15v2.15h-2.15zM217.9 755.3h2.15v2.15h-2.15zM75.4 737.3h2.15v2.15h-2.15zM74.4 739.0h2.15v2.15h-2.15zM106.5 733.2h2.15v2.15h-2.15zM110.5 733.2h2.15v2.15h-2.15z"/>
<path fill="#9f3220" d="M47.9 80.4h2.15v2.15h-2.15zM50.0 80.4h2.15v2.15h-2.15zM42.8 82.2h2.15v2.15h-2.15zM48.9 82.2h2.15v2.15h-2.15zM51.0 82.2h2.15v2.15h-2.15zM41.8 83.9h2.15v2.15h-2.15zM42.8 85.7h2.15v2.15h-2.15zM46.9 85.7h2.15v2.15h-2.15zM156.6 107.7h2.15v2.15h-2.15zM154.5 114.8h2.15v2.15h-2.15zM207.7 139.9h2.15v2.15h-2.15zM231.4 93.6h2.15v2.15h-2.15zM227.1 682.5h2.15v2.15h-2.15zM240.4 719.8h2.15v2.15h-2.15zM227.1 732.2h2.15v2.15h-2.15zM257.8 732.2h2.15v2.15h-2.15zM232.2 737.5h2.15v2.15h-2.15zM210.7 739.3h2.15v2.15h-2.15zM225.0 739.3h2.15v2.15h-2.15zM207.6 741.1h2.15v2.15h-2.15zM211.7 741.1h2.15v2.15h-2.15zM213.8 741.1h2.15v2.15h-2.15zM219.9 741.1h2.15v2.15h-2.15zM226.1 741.1h2.15v2.15h-2.15zM213.8 744.6h2.15v2.15h-2.15zM108.5 733.2h2.15v2.15h-2.15zM72.3 702.9h2.15v2.15h-2.15z"/>
<path fill="#992616" d="M45.9 80.4h2.15v2.15h-2.15zM46.9 82.2h2.15v2.15h-2.15zM43.8 83.9h2.15v2.15h-2.15zM50.0 83.9h2.15v2.15h-2.15zM45.9 87.5h2.15v2.15h-2.15zM156.6 111.3h2.15v2.15h-2.15zM157.6 113.0h2.15v2.15h-2.15zM159.6 113.0h2.15v2.15h-2.15zM156.6 114.8h2.15v2.15h-2.15zM159.6 116.6h2.15v2.15h-2.15zM147.3 159.2h2.15v2.15h-2.15zM275.3 709.1h2.15v2.15h-2.15zM218.9 735.7h2.15v2.15h-2.15zM207.6 737.5h2.15v2.15h-2.15zM222.0 737.5h2.15v2.15h-2.15zM216.8 739.3h2.15v2.15h-2.15zM218.9 739.3h2.15v2.15h-2.15zM227.1 739.3h2.15v2.15h-2.15zM229.1 739.3h2.15v2.15h-2.15zM231.2 739.3h2.15v2.15h-2.15zM83.6 733.7h2.15v2.15h-2.15zM82.6 735.5h2.15v2.15h-2.15z"/>
<path fill="#92170c" d="M44.8 82.2h2.15v2.15h-2.15zM45.9 83.9h2.15v2.15h-2.15zM158.6 107.7h2.15v2.15h-2.15zM159.6 109.5h2.15v2.15h-2.15zM154.5 111.3h2.15v2.15h-2.15zM212.7 735.7h2.15v2.15h-2.15zM209.7 737.5h2.15v2.15h-2.15zM226.1 737.5h2.15v2.15h-2.15zM206.6 739.3h2.15v2.15h-2.15zM76.5 739.0h2.15v2.15h-2.15z"/>
<path fill="#8b0000" d="M44.8 85.7h2.15v2.15h-2.15zM41.8 87.5h2.15v2.15h-2.15zM155.5 109.5h2.15v2.15h-2.15zM157.6 109.5h2.15v2.15h-2.15zM158.6 111.3h2.15v2.15h-2.15zM160.7 111.3h2.15v2.15h-2.15zM153.5 113.0h2.15v2.15h-2.15zM155.5 113.0h2.15v2.15h-2.15zM158.6 114.8h2.15v2.15h-2.15zM267.1 716.2h2.15v2.15h-2.15zM227.1 735.7h2.15v2.15h-2.15zM247.6 735.7h2.15v2.15h-2.15zM214.8 739.3h2.15v2.15h-2.15zM217.9 741.1h2.15v2.15h-2.15zM212.7 742.8h2.15v2.15h-2.15zM216.8 742.8h2.15v2.15h-2.15zM222.0 751.7h2.15v2.15h-2.15z"/>
</g>
<defs><linearGradient id="cb" x1="0" y1="0" x2="0" y2="1"><stop offset="0.0" stop-color="#8b0000"/><stop offset="0.1" stop-color="#9b2919"/><stop offset="0.2" stop-color="#aa4330"/><stop offset="0.3" stop-color="#b85b47"/><stop offset="0.4" stop-color="#c5725f"/><stop offset="0.5" stop-color="#d18978"/><stop offset="0.6" stop-color="#dca091"/><stop offset="0.7" stop-color="#e7b7ac"/><stop offset="0.8" stop-color="#f0cfc7"/><stop offset="0.9" stop-color="#f8e7e3"/><stop offset="1.0" stop-color="#ffffff"/></linearGradient></defs>
<rect x="281.6" y="71.4" width="16.60" height="82.20" fill="url(#cb)"/>
<line x1="281.60" y1="112.80" x2="284.60" y2="112.80" stroke="#ffffff" stroke-width="0.9"/>
<line x1="295.20" y1="112.80" x2="298.20" y2="112.80" stroke="#ffffff" stroke-width="0.9"/>
<text x="281.60" y="65.55" font-size="8.8" fill="#1a1a1a" text-anchor="start">ADT</text>
<text x="303.20" y="75.15" font-size="8.8" fill="#363636" text-anchor="start">1.0</text>
<text x="303.20" y="115.95" font-size="8.8" fill="#363636" text-anchor="start">0.5</text>
<text x="303.20" y="156.75" font-size="8.8" fill="#363636" text-anchor="start">0.0</text>
<rect x="301.1" y="694.6" width="16.80" height="82.50" fill="url(#cb)"/>
<line x1="301.10" y1="736.40" x2="304.10" y2="736.40" stroke="#ffffff" stroke-width="0.9"/>
<line x1="314.90" y1="736.40" x2="317.90" y2="736.40" stroke="#ffffff" stroke-width="0.9"/>
<text x="301.10" y="688.85" font-size="8.8" fill="#1a1a1a" text-anchor="start">ADT</text>
<text x="322.70" y="698.85" font-size="8.8" fill="#363636" text-anchor="start">1.0</text>
<text x="322.70" y="739.55" font-size="8.8" fill="#363636" text-anchor="start">0.5</text>
<text x="322.70" y="780.25" font-size="8.8" fill="#363636" text-anchor="start">0.0</text>
<text x="117.00" y="21.45" font-size="8.8" fill="#1a1a1a" text-anchor="start">InhN.Pvalb</text>
<text x="66.40" y="34.95" font-size="8.8" fill="#1a1a1a" text-anchor="start">InhN.Sst</text>
<text x="142.00" y="36.85" font-size="8.8" fill="#1a1a1a" text-anchor="start">InhN.Lamp5</text>
<text x="103.30" y="51.45" font-size="8.8" fill="#1a1a1a" text-anchor="start">InhN.Ntng1</text>
<text x="142.00" y="70.65" font-size="8.8" fill="#1a1a1a" text-anchor="start">InhN.Vip</text>
<text x="179.80" y="83.75" font-size="8.8" fill="#1a1a1a" text-anchor="start">ExN.CR</text>
<text x="221.10" y="84.35" font-size="8.8" fill="#1a1a1a" text-anchor="start">ExN.DG</text>
<text x="34.20" y="82.05" font-size="8.8" fill="#1a1a1a" text-anchor="start">ExN.SUB/Cntnap4</text>
<text x="34.20" y="106.45" font-size="8.8" fill="#1a1a1a" text-anchor="start">ExN.Ccn2</text>
<text x="106.60" y="108.85" font-size="8.8" fill="#1a1a1a" text-anchor="start">ExN.IT/Tshz2</text>
<text x="34.60" y="140.15" font-size="8.8" fill="#1a1a1a" text-anchor="start">ExN.SUB/Fn1</text>
<text x="100.70" y="141.85" font-size="8.8" fill="#1a1a1a" text-anchor="start">ExN.CA1−ve−ProS</text>
<text x="188.70" y="132.45" font-size="8.8" fill="#1a1a1a" text-anchor="start">ExN.CA3−ve</text>
<text x="219.40" y="151.35" font-size="8.8" fill="#1a1a1a" text-anchor="start">ExN.Mossy</text>
<text x="132.20" y="163.35" font-size="8.8" fill="#1a1a1a" text-anchor="start">ExN.CA1−ve</text>
<text x="193.90" y="178.25" font-size="8.8" fill="#1a1a1a" text-anchor="start">ExN.CA3−do</text>
<text x="89.40" y="187.85" font-size="8.8" fill="#1a1a1a" text-anchor="start">ExN.CA1−do</text>
<line x1="182.70" y1="70.00" x2="189.90" y2="75.70" stroke="#111" stroke-width="1.0"/>
<text x="94.80" y="634.85" font-size="8.8" fill="#1a1a1a" text-anchor="start">microglia</text>
<text x="15.00" y="740.45" font-size="8.8" fill="#1a1a1a" text-anchor="start">astrocytes</text>
<text x="62.60" y="754.45" font-size="8.8" fill="#1a1a1a" text-anchor="start">endothelial</text>
<text x="115.00" y="744.95" font-size="8.8" fill="#1a1a1a" text-anchor="start">pericytes</text>
<text x="82.90" y="779.15" font-size="8.8" fill="#1a1a1a" text-anchor="start">smooth_muscle</text>
<text x="161.20" y="802.95" font-size="8.8" fill="#1a1a1a" text-anchor="start">OPC</text>
<text x="194.60" y="701.15" font-size="8.8" fill="#1a1a1a" text-anchor="start">oligodendrocyte</text>
<text x="223.00" y="798.15" font-size="8.8" fill="#1a1a1a" text-anchor="start">COP</text>
<line x1="50.30" y1="742.20" x2="57.60" y2="748.10" stroke="#111" stroke-width="1.0"/>
</svg></body></html>
